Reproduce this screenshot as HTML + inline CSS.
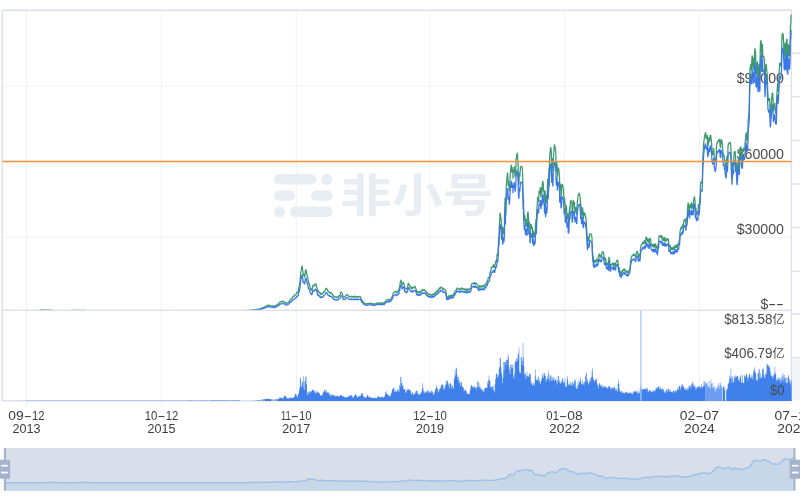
<!DOCTYPE html>
<html lang="zh"><head><meta charset="utf-8"><title>BTC 价格走势 - 非小号</title>
<style>html,body{margin:0;padding:0;background:#fff;overflow:hidden}svg{display:block;will-change:transform}text{font-family:'Liberation Sans','Noto Sans CJK SC',sans-serif;}</style></head><body>
<svg width="800" height="503" viewBox="0 0 800 503">
<rect width="800" height="503" fill="#fff"/>
<g fill="#e8edf3">
<rect x="274" y="174" width="42.5" height="10.6" rx="5.3"/><circle cx="326.8" cy="179.3" r="5.6"/>
<rect x="274" y="190.2" width="21" height="10.6" rx="5.3"/><rect x="311" y="190.2" width="21.4" height="10.6" rx="5.3"/>
<circle cx="279.5" cy="211.8" r="5.5"/><rect x="290" y="206.5" width="42.4" height="10.6" rx="5.3"/>
<text transform="translate(340.6,212.3) scale(1.023,0.9)" font-size="50" font-weight="700" style="font-family:'Noto Sans CJK SC','Liberation Sans',sans-serif">非小号</text></g>
<g stroke="#f0f1f8" stroke-width="1" fill="none">
<path d="M26.4,10.5V405.5"/>
<path d="M161.5,10.5V405.5"/>
<path d="M296.3,10.5V405.5"/>
<path d="M430.0,10.5V405.5"/>
<path d="M564.5,10.5V405.5"/>
<path d="M699.4,10.5V405.5"/>
<path d="M791.4,401V405.5"/>
<path d="M2.3,86.2H791.4"/>
<path d="M2.3,237.3H791.4"/>
</g>
<g stroke="#dde0ec" stroke-width="1.4" fill="none">
<path d="M2.3,10.3H791.4M2.3,9.6V401M791.4,9.6V401M1.6,310.4H791.4M1.6,400.8H791.4"/>
<path d="M791.4,53.2H800"/>
<path d="M791.4,96.8H800"/>
<path d="M791.4,140.4H800"/>
<path d="M791.4,184.0H800"/>
<path d="M791.4,227.6H800"/>
<path d="M791.4,271.2H800"/>
<path d="M791.4,314H800M791.4,357.8H800"/>
</g>
<rect x="792.1" y="358.5" width="8" height="42" fill="#f4f5fa"/>
<g font-size="14.5" fill="#4a4a4a" text-anchor="end">
<text x="784" y="82.8" textLength="47.3" lengthAdjust="spacingAndGlyphs">$90000</text>
<text x="784" y="159.1" textLength="47.3" lengthAdjust="spacingAndGlyphs">$60000</text>
<text x="784" y="233.8" textLength="47.3" lengthAdjust="spacingAndGlyphs">$30000</text>
<text y="309.4" text-anchor="start"><tspan x="760.4" textLength="7.9" lengthAdjust="spacingAndGlyphs">$</tspan><tspan x="768.3" textLength="15.6" lengthAdjust="spacingAndGlyphs">--</tspan></text>
</g>
<path d="M21.04,400.5v-0.12h0.50v0.12zM23.54,400.5v-0.13h0.50v0.13zM24.04,400.5v-0.12h0.50v0.12zM25.04,400.5v-0.13h0.50v0.13zM26.04,400.5v-0.14h0.50v0.14zM27.04,400.5v-0.14h0.50v0.14zM27.54,400.5v-0.15h0.50v0.15zM28.04,400.5v-0.14h0.50v0.14zM28.54,400.5v-0.13h0.50v0.13zM29.04,400.5v-0.15h0.50v0.15zM29.54,400.5v-0.14h0.50v0.14zM30.04,400.5v-0.14h0.50v0.14zM31.04,400.5v-0.16h0.50v0.16zM31.54,400.5v-0.16h0.50v0.16zM32.03,400.5v-0.16h0.50v0.16zM32.53,400.5v-0.16h0.50v0.16zM33.03,400.5v-0.13h0.50v0.13zM33.53,400.5v-0.12h0.50v0.12zM34.03,400.5v-0.13h0.50v0.13zM34.53,400.5v-0.15h0.50v0.15zM35.03,400.5v-0.18h0.50v0.18zM35.53,400.5v-0.17h0.50v0.17zM36.03,400.5v-0.16h0.50v0.16zM36.53,400.5v-0.18h0.50v0.18zM37.03,400.5v-0.17h0.50v0.17zM37.53,400.5v-0.18h0.50v0.18zM38.03,400.5v-0.17h0.50v0.17zM38.53,400.5v-0.17h0.50v0.17zM39.03,400.5v-0.14h0.50v0.14zM39.53,400.5v-0.18h0.50v0.18zM40.03,400.5v-0.15h0.50v0.15zM40.53,400.5v-0.18h0.50v0.18zM41.03,400.5v-0.20h0.50v0.20zM41.53,400.5v-0.15h0.50v0.15zM42.03,400.5v-0.20h0.50v0.20zM42.53,400.5v-0.20h0.50v0.20zM43.03,400.5v-0.20h0.50v0.20zM43.53,400.5v-0.17h0.50v0.17zM44.03,400.5v-0.17h0.50v0.17zM44.53,400.5v-0.19h0.50v0.19zM45.03,400.5v-0.21h0.50v0.21zM45.53,400.5v-0.19h0.50v0.19zM46.03,400.5v-0.20h0.50v0.20zM46.53,400.5v-0.21h0.50v0.21zM47.03,400.5v-0.18h0.50v0.18zM47.53,400.5v-0.19h0.50v0.19zM48.03,400.5v-0.19h0.50v0.19zM48.53,400.5v-0.19h0.50v0.19zM49.03,400.5v-0.21h0.50v0.21zM49.53,400.5v-0.21h0.50v0.21zM50.03,400.5v-0.21h0.50v0.21zM50.53,400.5v-0.19h0.50v0.19zM51.03,400.5v-0.20h0.50v0.20zM51.53,400.5v-0.17h0.50v0.17zM52.02,400.5v-0.20h0.50v0.20zM52.52,400.5v-0.22h0.50v0.22zM53.02,400.5v-0.19h0.50v0.19zM53.52,400.5v-0.18h0.50v0.18zM54.02,400.5v-0.22h0.50v0.22zM54.52,400.5v-0.22h0.50v0.22zM55.02,400.5v-0.18h0.50v0.18zM55.52,400.5v-0.22h0.50v0.22zM56.02,400.5v-0.17h0.50v0.17zM56.52,400.5v-0.21h0.50v0.21zM57.02,400.5v-0.22h0.50v0.22zM57.52,400.5v-0.22h0.50v0.22zM58.02,400.5v-0.16h0.50v0.16zM58.52,400.5v-0.22h0.50v0.22zM59.02,400.5v-0.21h0.50v0.21zM59.52,400.5v-0.20h0.50v0.20zM60.02,400.5v-0.20h0.50v0.20zM60.52,400.5v-0.22h0.50v0.22zM61.02,400.5v-0.16h0.50v0.16zM61.52,400.5v-0.22h0.50v0.22zM62.02,400.5v-0.20h0.50v0.20zM62.52,400.5v-0.22h0.50v0.22zM63.02,400.5v-0.22h0.50v0.22zM63.52,400.5v-0.22h0.50v0.22zM64.02,400.5v-0.22h0.50v0.22zM64.52,400.5v-0.20h0.50v0.20zM65.02,400.5v-0.20h0.50v0.20zM65.52,400.5v-0.20h0.50v0.20zM66.02,400.5v-0.19h0.50v0.19zM66.52,400.5v-0.22h0.50v0.22zM67.02,400.5v-0.23h0.50v0.23zM67.52,400.5v-0.23h0.50v0.23zM68.02,400.5v-0.24h0.50v0.24zM68.52,400.5v-0.20h0.50v0.20zM69.02,400.5v-0.21h0.50v0.21zM69.52,400.5v-0.22h0.50v0.22zM70.02,400.5v-0.17h0.50v0.17zM70.52,400.5v-0.24h0.50v0.24zM71.02,400.5v-0.20h0.50v0.20zM71.51,400.5v-0.24h0.50v0.24zM72.01,400.5v-0.22h0.50v0.22zM72.51,400.5v-0.18h0.50v0.18zM73.01,400.5v-0.24h0.50v0.24zM73.51,400.5v-0.22h0.50v0.22zM74.01,400.5v-0.21h0.50v0.21zM74.51,400.5v-0.22h0.50v0.22zM75.01,400.5v-0.19h0.50v0.19zM75.51,400.5v-0.22h0.50v0.22zM76.01,400.5v-0.21h0.50v0.21zM76.51,400.5v-0.24h0.50v0.24zM77.01,400.5v-0.19h0.50v0.19zM77.51,400.5v-0.21h0.50v0.21zM78.01,400.5v-0.24h0.50v0.24zM78.51,400.5v-0.21h0.50v0.21zM79.01,400.5v-0.23h0.50v0.23zM79.51,400.5v-0.21h0.50v0.21zM80.01,400.5v-0.24h0.50v0.24zM80.51,400.5v-0.23h0.50v0.23zM81.01,400.5v-0.21h0.50v0.21zM81.51,400.5v-0.24h0.50v0.24zM82.01,400.5v-0.24h0.50v0.24zM82.51,400.5v-0.19h0.50v0.19zM83.01,400.5v-0.25h0.50v0.25zM83.51,400.5v-0.21h0.50v0.21zM84.01,400.5v-0.20h0.50v0.20zM84.51,400.5v-0.18h0.50v0.18zM85.01,400.5v-0.22h0.50v0.22zM85.51,400.5v-0.23h0.50v0.23zM86.01,400.5v-0.25h0.50v0.25zM86.51,400.5v-0.20h0.50v0.20zM87.01,400.5v-0.23h0.50v0.23zM87.51,400.5v-0.24h0.50v0.24zM88.01,400.5v-0.25h0.50v0.25zM88.51,400.5v-0.18h0.50v0.18zM89.01,400.5v-0.21h0.50v0.21zM89.51,400.5v-0.19h0.50v0.19zM90.01,400.5v-0.26h0.50v0.26zM90.51,400.5v-0.25h0.50v0.25zM91.01,400.5v-0.26h0.50v0.26zM91.50,400.5v-0.18h0.50v0.18zM92.00,400.5v-0.19h0.50v0.19zM92.50,400.5v-0.23h0.50v0.23zM93.00,400.5v-0.26h0.50v0.26zM93.50,400.5v-0.25h0.50v0.25zM94.00,400.5v-0.26h0.50v0.26zM94.50,400.5v-0.23h0.50v0.23zM95.00,400.5v-0.26h0.50v0.26zM95.50,400.5v-0.18h0.50v0.18zM96.00,400.5v-0.25h0.50v0.25zM96.50,400.5v-0.22h0.50v0.22zM97.00,400.5v-0.21h0.50v0.21zM97.50,400.5v-0.22h0.50v0.22zM98.00,400.5v-0.26h0.50v0.26zM98.50,400.5v-0.20h0.50v0.20zM99.00,400.5v-0.20h0.50v0.20zM99.50,400.5v-0.21h0.50v0.21zM100.00,400.5v-0.22h0.50v0.22zM100.50,400.5v-0.23h0.50v0.23zM101.00,400.5v-0.20h0.50v0.20zM101.50,400.5v-0.25h0.50v0.25zM102.00,400.5v-0.25h0.50v0.25zM102.50,400.5v-0.27h0.50v0.27zM103.00,400.5v-0.24h0.50v0.24zM103.50,400.5v-0.21h0.50v0.21zM104.00,400.5v-0.23h0.50v0.23zM104.50,400.5v-0.24h0.50v0.24zM105.00,400.5v-0.19h0.50v0.19zM105.50,400.5v-0.19h0.50v0.19zM106.00,400.5v-0.21h0.50v0.21zM106.50,400.5v-0.23h0.50v0.23zM107.00,400.5v-0.27h0.50v0.27zM107.50,400.5v-0.27h0.50v0.27zM108.00,400.5v-0.19h0.50v0.19zM108.50,400.5v-0.24h0.50v0.24zM109.00,400.5v-0.27h0.50v0.27zM109.50,400.5v-0.21h0.50v0.21zM110.00,400.5v-0.24h0.50v0.24zM110.50,400.5v-0.25h0.50v0.25zM110.99,400.5v-0.24h0.50v0.24zM111.49,400.5v-0.24h0.50v0.24zM111.99,400.5v-0.24h0.50v0.24zM112.49,400.5v-0.26h0.50v0.26zM112.99,400.5v-0.19h0.50v0.19zM113.49,400.5v-0.23h0.50v0.23zM113.99,400.5v-0.28h0.50v0.28zM114.49,400.5v-0.28h0.50v0.28zM114.99,400.5v-0.19h0.50v0.19zM115.49,400.5v-0.27h0.50v0.27zM115.99,400.5v-0.24h0.50v0.24zM116.49,400.5v-0.19h0.50v0.19zM116.99,400.5v-0.26h0.50v0.26zM117.49,400.5v-0.26h0.50v0.26zM117.99,400.5v-0.24h0.50v0.24zM118.49,400.5v-0.28h0.50v0.28zM118.99,400.5v-0.27h0.50v0.27zM119.49,400.5v-0.28h0.50v0.28zM119.99,400.5v-0.24h0.50v0.24zM120.49,400.5v-0.22h0.50v0.22zM120.99,400.5v-0.26h0.50v0.26zM121.49,400.5v-0.21h0.50v0.21zM121.99,400.5v-0.28h0.50v0.28zM122.49,400.5v-0.28h0.50v0.28zM122.99,400.5v-0.24h0.50v0.24zM123.49,400.5v-0.21h0.50v0.21zM123.99,400.5v-0.22h0.50v0.22zM124.49,400.5v-0.28h0.50v0.28zM124.99,400.5v-0.29h0.50v0.29zM125.49,400.5v-0.29h0.50v0.29zM125.99,400.5v-0.22h0.50v0.22zM126.49,400.5v-0.23h0.50v0.23zM126.99,400.5v-0.23h0.50v0.23zM127.49,400.5v-0.23h0.50v0.23zM127.99,400.5v-0.26h0.50v0.26zM128.49,400.5v-0.26h0.50v0.26zM128.99,400.5v-0.25h0.50v0.25zM129.49,400.5v-0.29h0.50v0.29zM129.99,400.5v-0.29h0.50v0.29zM130.49,400.5v-0.28h0.50v0.28zM130.98,400.5v-0.24h0.50v0.24zM131.48,400.5v-0.29h0.50v0.29zM131.98,400.5v-0.23h0.50v0.23zM132.48,400.5v-0.24h0.50v0.24zM132.98,400.5v-0.29h0.50v0.29zM133.48,400.5v-0.23h0.50v0.23zM133.98,400.5v-0.25h0.50v0.25zM134.48,400.5v-0.25h0.50v0.25zM134.98,400.5v-0.24h0.50v0.24zM135.48,400.5v-0.29h0.50v0.29zM135.98,400.5v-0.30h0.50v0.30zM136.48,400.5v-0.21h0.50v0.21zM136.98,400.5v-0.27h0.50v0.27zM137.48,400.5v-0.23h0.50v0.23zM137.98,400.5v-0.22h0.50v0.22zM138.48,400.5v-0.22h0.50v0.22zM138.98,400.5v-0.25h0.50v0.25zM139.48,400.5v-0.27h0.50v0.27zM139.98,400.5v-0.25h0.50v0.25zM140.48,400.5v-0.30h0.50v0.30zM140.98,400.5v-0.26h0.50v0.26zM141.48,400.5v-0.29h0.50v0.29zM141.98,400.5v-0.24h0.50v0.24zM142.48,400.5v-0.30h0.50v0.30zM142.98,400.5v-0.22h0.50v0.22zM143.48,400.5v-0.27h0.50v0.27zM143.98,400.5v-0.28h0.50v0.28zM144.48,400.5v-0.27h0.50v0.27zM144.98,400.5v-0.26h0.50v0.26zM145.48,400.5v-0.24h0.50v0.24zM145.98,400.5v-0.23h0.50v0.23zM146.48,400.5v-0.29h0.50v0.29zM146.98,400.5v-0.26h0.50v0.26zM147.48,400.5v-0.28h0.50v0.28zM147.98,400.5v-0.29h0.50v0.29zM148.48,400.5v-0.27h0.50v0.27zM148.98,400.5v-0.25h0.50v0.25zM149.48,400.5v-0.28h0.50v0.28zM149.98,400.5v-0.31h0.50v0.31zM150.47,400.5v-0.31h0.50v0.31zM150.97,400.5v-0.30h0.50v0.30zM151.47,400.5v-0.28h0.50v0.28zM151.97,400.5v-0.31h0.50v0.31zM152.47,400.5v-0.22h0.50v0.22zM152.97,400.5v-0.27h0.50v0.27zM153.47,400.5v-0.31h0.50v0.31zM153.97,400.5v-0.27h0.50v0.27zM154.47,400.5v-0.29h0.50v0.29zM154.97,400.5v-0.32h0.50v0.32zM155.47,400.5v-0.31h0.50v0.31zM155.97,400.5v-0.26h0.50v0.26zM156.47,400.5v-0.22h0.50v0.22zM156.97,400.5v-0.30h0.50v0.30zM157.47,400.5v-0.30h0.50v0.30zM157.97,400.5v-0.26h0.50v0.26zM158.47,400.5v-0.30h0.50v0.30zM158.97,400.5v-0.29h0.50v0.29zM159.47,400.5v-0.23h0.50v0.23zM159.97,400.5v-0.25h0.50v0.25zM160.47,400.5v-0.28h0.50v0.28zM160.97,400.5v-0.29h0.50v0.29zM161.47,400.5v-0.25h0.50v0.25zM161.97,400.5v-0.24h0.50v0.24zM162.47,400.5v-0.31h0.50v0.31zM162.97,400.5v-0.28h0.50v0.28zM163.47,400.5v-0.26h0.50v0.26zM163.97,400.5v-0.32h0.50v0.32zM164.47,400.5v-0.31h0.50v0.31zM164.97,400.5v-0.33h0.50v0.33zM165.47,400.5v-0.30h0.50v0.30zM165.97,400.5v-0.31h0.50v0.31zM166.47,400.5v-0.29h0.50v0.29zM166.97,400.5v-0.28h0.50v0.28zM167.47,400.5v-0.33h0.50v0.33zM167.97,400.5v-0.33h0.50v0.33zM168.47,400.5v-0.31h0.50v0.31zM168.97,400.5v-0.31h0.50v0.31zM169.47,400.5v-0.34h0.50v0.34zM169.97,400.5v-0.33h0.50v0.33zM170.46,400.5v-0.34h0.50v0.34zM170.96,400.5v-0.30h0.50v0.30zM171.46,400.5v-0.34h0.50v0.34zM171.96,400.5v-0.31h0.50v0.31zM172.46,400.5v-0.29h0.50v0.29zM172.96,400.5v-0.34h0.50v0.34zM173.46,400.5v-0.25h0.50v0.25zM173.96,400.5v-0.28h0.50v0.28zM174.46,400.5v-0.33h0.50v0.33zM174.96,400.5v-0.31h0.50v0.31zM175.46,400.5v-0.31h0.50v0.31zM175.96,400.5v-0.34h0.50v0.34zM176.46,400.5v-0.34h0.50v0.34zM176.96,400.5v-0.33h0.50v0.33zM177.46,400.5v-0.32h0.50v0.32zM177.96,400.5v-0.37h0.50v0.37zM178.46,400.5v-0.28h0.50v0.28zM178.96,400.5v-0.32h0.50v0.32zM179.46,400.5v-0.37h0.50v0.37zM179.96,400.5v-0.31h0.50v0.31zM180.46,400.5v-0.34h0.50v0.34zM180.96,400.5v-0.36h0.50v0.36zM181.46,400.5v-0.30h0.50v0.30zM181.96,400.5v-0.33h0.50v0.33zM182.46,400.5v-0.35h0.50v0.35zM182.96,400.5v-0.29h0.50v0.29zM183.46,400.5v-0.30h0.50v0.30zM183.96,400.5v-0.28h0.50v0.28zM184.46,400.5v-0.31h0.50v0.31zM184.96,400.5v-0.36h0.50v0.36zM185.46,400.5v-0.37h0.50v0.37zM185.96,400.5v-0.30h0.50v0.30zM186.46,400.5v-0.29h0.50v0.29zM186.96,400.5v-0.38h0.50v0.38zM187.46,400.5v-0.35h0.50v0.35zM187.96,400.5v-0.37h0.50v0.37zM188.46,400.5v-0.28h0.50v0.28zM188.96,400.5v-0.31h0.50v0.31zM189.46,400.5v-0.39h0.50v0.39zM189.95,400.5v-0.37h0.50v0.37zM190.45,400.5v-0.38h0.50v0.38zM190.95,400.5v-0.39h0.50v0.39zM191.45,400.5v-0.40h0.50v0.40zM191.95,400.5v-0.34h0.50v0.34zM192.45,400.5v-0.35h0.50v0.35zM192.95,400.5v-0.32h0.50v0.32zM193.45,400.5v-0.32h0.50v0.32zM193.95,400.5v-0.38h0.50v0.38zM194.45,400.5v-0.41h0.50v0.41zM194.95,400.5v-0.33h0.50v0.33zM195.45,400.5v-0.36h0.50v0.36zM195.95,400.5v-0.36h0.50v0.36zM196.45,400.5v-0.38h0.50v0.38zM196.95,400.5v-0.32h0.50v0.32zM197.45,400.5v-0.35h0.50v0.35zM197.95,400.5v-0.33h0.50v0.33zM198.45,400.5v-0.30h0.50v0.30zM198.95,400.5v-0.33h0.50v0.33zM199.45,400.5v-0.38h0.50v0.38zM199.95,400.5v-0.36h0.50v0.36zM200.45,400.5v-0.42h0.50v0.42zM200.95,400.5v-0.31h0.50v0.31zM201.45,400.5v-0.40h0.50v0.40zM201.95,400.5v-0.35h0.50v0.35zM202.45,400.5v-0.42h0.50v0.42zM202.95,400.5v-0.42h0.50v0.42zM203.45,400.5v-0.30h0.50v0.30zM203.95,400.5v-0.33h0.50v0.33zM204.45,400.5v-0.43h0.50v0.43zM204.95,400.5v-0.36h0.50v0.36zM205.45,400.5v-0.44h0.50v0.44zM205.95,400.5v-0.41h0.50v0.41zM206.45,400.5v-0.35h0.50v0.35zM206.95,400.5v-0.31h0.50v0.31zM207.45,400.5v-0.44h0.50v0.44zM207.95,400.5v-0.32h0.50v0.32zM208.45,400.5v-0.33h0.50v0.33zM208.95,400.5v-0.37h0.50v0.37zM209.44,400.5v-0.35h0.50v0.35zM209.94,400.5v-0.45h0.50v0.45zM210.44,400.5v-0.33h0.50v0.33zM210.94,400.5v-0.40h0.50v0.40zM211.44,400.5v-0.42h0.50v0.42zM211.94,400.5v-0.45h0.50v0.45zM212.44,400.5v-0.42h0.50v0.42zM212.94,400.5v-0.45h0.50v0.45zM213.44,400.5v-0.42h0.50v0.42zM213.94,400.5v-0.42h0.50v0.42zM214.44,400.5v-0.44h0.50v0.44zM214.94,400.5v-0.47h0.50v0.47zM215.44,400.5v-0.38h0.50v0.38zM215.94,400.5v-0.46h0.50v0.46zM216.44,400.5v-0.43h0.50v0.43zM216.94,400.5v-0.45h0.50v0.45zM217.44,400.5v-0.40h0.50v0.40zM217.94,400.5v-0.40h0.50v0.40zM218.44,400.5v-0.35h0.50v0.35zM218.94,400.5v-0.48h0.50v0.48zM219.44,400.5v-0.47h0.50v0.47zM219.94,400.5v-0.37h0.50v0.37zM220.44,400.5v-0.47h0.50v0.47zM220.94,400.5v-0.38h0.50v0.38zM221.44,400.5v-0.44h0.50v0.44zM221.94,400.5v-0.46h0.50v0.46zM222.44,400.5v-0.47h0.50v0.47zM222.94,400.5v-0.39h0.50v0.39zM223.44,400.5v-0.46h0.50v0.46zM223.94,400.5v-0.46h0.50v0.46zM224.44,400.5v-0.42h0.50v0.42zM224.94,400.5v-0.43h0.50v0.43zM225.44,400.5v-0.50h0.50v0.50zM225.94,400.5v-0.40h0.50v0.40zM226.44,400.5v-0.46h0.50v0.46zM226.94,400.5v-0.38h0.50v0.38zM227.44,400.5v-0.36h0.50v0.36zM227.94,400.5v-0.48h0.50v0.48zM228.44,400.5v-0.47h0.50v0.47zM228.94,400.5v-0.50h0.50v0.50zM229.43,400.5v-0.43h0.50v0.43zM229.93,400.5v-0.36h0.50v0.36zM230.43,400.5v-0.36h0.50v0.36zM230.93,400.5v-0.51h0.50v0.51zM231.43,400.5v-0.46h0.50v0.46zM231.93,400.5v-0.45h0.50v0.45zM232.43,400.5v-0.49h0.50v0.49zM232.93,400.5v-0.46h0.50v0.46zM233.43,400.5v-0.49h0.50v0.49zM233.93,400.5v-0.41h0.50v0.41zM234.43,400.5v-0.52h0.50v0.52zM234.93,400.5v-0.37h0.50v0.37zM235.43,400.5v-0.51h0.50v0.51zM235.93,400.5v-0.44h0.50v0.44zM236.43,400.5v-0.51h0.50v0.51zM236.93,400.5v-0.52h0.50v0.52zM237.43,400.5v-0.47h0.50v0.47zM237.93,400.5v-0.37h0.50v0.37zM238.43,400.5v-0.41h0.50v0.41zM238.93,400.5v-0.53h0.50v0.53zM239.43,400.5v-0.53h0.50v0.53zM253.42,400.5v-0.16h0.50v0.16zM253.92,400.5v-0.17h0.50v0.17zM254.42,400.5v-0.24h0.50v0.24zM254.92,400.5v-0.22h0.50v0.22zM255.42,400.5v-0.25h0.50v0.25zM255.92,400.5v-0.30h0.50v0.30zM256.42,400.5v-0.39h0.50v0.39zM256.92,400.5v-0.42h0.50v0.42zM257.42,400.5v-0.39h0.50v0.39zM257.92,400.5v-0.50h0.50v0.50zM258.42,400.5v-0.48h0.50v0.48zM258.92,400.5v-0.55h0.50v0.55zM259.42,400.5v-0.48h0.50v0.48zM259.92,400.5v-0.60h0.50v0.60zM260.42,400.5v-0.63h0.50v0.63zM260.92,400.5v-0.72h0.50v0.72zM261.42,400.5v-0.74h0.50v0.74zM261.92,400.5v-0.64h0.50v0.64zM262.42,400.5v-0.99h0.50v0.99zM262.92,400.5v-1.06h0.50v1.06zM263.42,401.0v-1.75h0.50v1.75zM263.92,400.5v-1.03h0.50v1.03zM264.42,400.5v-1.15h0.50v1.15zM264.92,401.0v-2.20h0.50v2.20zM265.42,401.0v-2.23h0.50v2.23zM265.92,401.0v-2.35h0.50v2.35zM266.42,401.0v-1.86h0.50v1.86zM266.92,401.0v-2.32h0.50v2.32zM267.42,401.0v-2.27h0.50v2.27zM267.92,401.0v-2.01h0.50v2.01zM268.42,401.0v-2.39h0.50v2.39zM268.91,401.0v-2.23h0.50v2.23zM269.41,401.0v-1.85h0.50v1.85zM269.91,401.0v-1.81h0.50v1.81zM270.41,401.0v-1.97h0.50v1.97zM270.91,401.0v-1.76h0.50v1.76zM271.41,400.5v-0.98h0.50v0.98zM271.91,400.5v-0.92h0.50v0.92zM272.41,400.5v-0.76h0.50v0.76zM272.91,400.5v-0.73h0.50v0.73zM273.41,400.5v-0.68h0.50v0.68zM273.91,400.5v-0.88h0.50v0.88zM274.41,400.5v-0.97h0.50v0.97zM274.91,400.5v-0.91h0.50v0.91zM275.41,400.5v-0.95h0.50v0.95zM275.91,400.5v-0.95h0.50v0.95zM276.41,400.5v-1.19h0.50v1.19zM276.91,401.0v-1.84h0.50v1.84zM277.41,401.0v-1.86h0.50v1.86zM277.91,401.0v-1.72h0.50v1.72zM278.41,401.0v-2.32h0.50v2.32zM278.91,401.0v-2.79h0.50v2.79zM279.41,401.0v-3.33h0.50v3.33zM279.91,401.0v-3.75h0.50v3.75zM280.41,401.0v-2.96h0.50v2.96zM280.91,401.0v-3.18h0.50v3.18zM281.41,401.0v-3.02h0.50v3.02zM281.91,401.0v-3.22h0.50v3.22zM282.41,401.0v-2.32h0.50v2.32zM282.91,401.0v-2.76h0.50v2.76zM283.41,401.0v-3.76h0.50v3.76zM283.91,401.0v-4.71h0.50v4.71zM284.41,401.0v-4.68h0.50v4.68zM284.91,401.0v-5.68h0.50v5.68zM285.41,401.0v-4.66h0.50v4.66zM285.91,401.0v-4.15h0.50v4.15zM286.41,401.0v-2.83h0.50v2.83zM286.91,401.0v-2.89h0.50v2.89zM287.41,401.0v-2.47h0.50v2.47zM287.91,401.0v-2.24h0.50v2.24zM288.40,401.0v-2.94h0.50v2.94zM288.90,401.0v-2.48h0.50v2.48zM289.40,401.0v-3.11h0.50v3.11zM289.90,401.0v-3.88h0.50v3.88zM290.40,401.0v-3.23h0.50v3.23zM290.90,401.0v-3.08h0.50v3.08zM291.40,401.0v-3.29h0.50v3.29zM291.90,401.0v-2.87h0.50v2.87zM292.40,401.0v-3.47h0.50v3.47zM292.90,401.0v-3.13h0.50v3.13zM293.40,401.0v-3.27h0.50v3.27zM293.90,401.0v-4.37h0.50v4.37zM294.40,401.0v-4.47h0.50v4.47zM294.90,401.0v-6.63h0.50v6.63zM295.40,401.0v-7.39h0.50v7.39zM295.90,401.0v-7.03h0.50v7.03zM296.40,401.0v-5.01h0.50v5.01zM296.90,401.0v-3.68h0.50v3.68zM297.40,401.0v-5.08h0.50v5.08zM297.90,401.0v-6.70h0.50v6.70zM298.40,401.0v-7.39h0.50v7.39zM298.90,401.0v-10.11h0.50v10.11zM299.40,401.0v-12.95h0.50v12.95zM299.90,401.0v-21.44h0.50v21.44zM300.40,401.0v-23.72h0.50v23.72zM300.90,401.0v-14.27h0.50v14.27zM301.40,401.0v-15.55h0.50v15.55zM301.90,401.0v-19.92h0.50v19.92zM302.40,401.0v-18.78h0.50v18.78zM302.90,401.0v-13.41h0.50v13.41zM303.40,401.0v-24.86h0.50v24.86zM303.90,401.0v-19.55h0.50v19.55zM304.40,401.0v-11.25h0.50v11.25zM304.90,401.0v-19.86h0.50v19.86zM305.40,401.0v-24.03h0.50v24.03zM305.90,401.0v-24.53h0.50v24.53zM306.40,401.0v-16.65h0.50v16.65zM306.90,401.0v-9.24h0.50v9.24zM307.40,401.0v-5.45h0.50v5.45zM307.90,401.0v-7.14h0.50v7.14zM308.39,401.0v-9.29h0.50v9.29zM308.89,401.0v-8.43h0.50v8.43zM309.39,401.0v-10.14h0.50v10.14zM309.89,401.0v-8.02h0.50v8.02zM310.39,401.0v-9.75h0.50v9.75zM310.89,401.0v-10.03h0.50v10.03zM311.39,401.0v-9.25h0.50v9.25zM311.89,401.0v-11.67h0.50v11.67zM312.39,401.0v-11.09h0.50v11.09zM312.89,401.0v-10.80h0.50v10.80zM313.39,401.0v-10.48h0.50v10.48zM313.89,401.0v-11.17h0.50v11.17zM314.39,401.0v-8.44h0.50v8.44zM314.89,401.0v-9.72h0.50v9.72zM315.39,401.0v-8.03h0.50v8.03zM315.89,401.0v-7.19h0.50v7.19zM316.39,401.0v-9.22h0.50v9.22zM316.89,401.0v-10.21h0.50v10.21zM317.39,401.0v-8.28h0.50v8.28zM317.89,401.0v-9.00h0.50v9.00zM318.39,401.0v-8.60h0.50v8.60zM318.89,401.0v-8.14h0.50v8.14zM319.39,401.0v-7.52h0.50v7.52zM319.89,401.0v-5.74h0.50v5.74zM320.39,401.0v-5.18h0.50v5.18zM320.89,401.0v-5.81h0.50v5.81zM321.39,401.0v-6.01h0.50v6.01zM321.89,401.0v-4.95h0.50v4.95zM322.39,401.0v-7.10h0.50v7.10zM322.89,401.0v-8.79h0.50v8.79zM323.39,401.0v-9.32h0.50v9.32zM323.89,401.0v-9.64h0.50v9.64zM324.39,401.0v-11.36h0.50v11.36zM324.89,401.0v-11.26h0.50v11.26zM325.39,401.0v-8.58h0.50v8.58zM325.89,401.0v-11.15h0.50v11.15zM326.39,401.0v-9.23h0.50v9.23zM326.89,401.0v-8.30h0.50v8.30zM327.39,401.0v-8.55h0.50v8.55zM327.88,401.0v-8.68h0.50v8.68zM328.38,401.0v-8.42h0.50v8.42zM328.88,401.0v-7.12h0.50v7.12zM329.38,401.0v-6.48h0.50v6.48zM329.88,401.0v-4.97h0.50v4.97zM330.38,401.0v-6.69h0.50v6.69zM330.88,401.0v-4.95h0.50v4.95zM331.38,401.0v-7.14h0.50v7.14zM331.88,401.0v-6.15h0.50v6.15zM332.38,401.0v-5.75h0.50v5.75zM332.88,401.0v-6.29h0.50v6.29zM333.38,401.0v-5.62h0.50v5.62zM333.88,401.0v-6.15h0.50v6.15zM334.38,401.0v-4.44h0.50v4.44zM334.88,401.0v-5.77h0.50v5.77zM335.38,401.0v-4.24h0.50v4.24zM335.88,401.0v-5.53h0.50v5.53zM336.38,401.0v-4.95h0.50v4.95zM336.88,401.0v-4.60h0.50v4.60zM337.38,401.0v-5.19h0.50v5.19zM337.88,401.0v-5.06h0.50v5.06zM338.38,401.0v-4.62h0.50v4.62zM338.88,401.0v-4.42h0.50v4.42zM339.38,401.0v-4.82h0.50v4.82zM339.88,401.0v-6.29h0.50v6.29zM340.38,401.0v-5.78h0.50v5.78zM340.88,401.0v-6.00h0.50v6.00zM341.38,401.0v-5.66h0.50v5.66zM341.88,401.0v-4.76h0.50v4.76zM342.38,401.0v-4.51h0.50v4.51zM342.88,401.0v-5.06h0.50v5.06zM343.38,401.0v-4.74h0.50v4.74zM343.88,401.0v-3.56h0.50v3.56zM344.38,401.0v-4.48h0.50v4.48zM344.88,401.0v-3.44h0.50v3.44zM345.38,401.0v-3.67h0.50v3.67zM345.88,401.0v-3.87h0.50v3.87zM346.38,401.0v-3.65h0.50v3.65zM346.88,401.0v-4.37h0.50v4.37zM347.38,401.0v-3.76h0.50v3.76zM347.87,401.0v-4.41h0.50v4.41zM348.37,401.0v-4.37h0.50v4.37zM348.87,401.0v-5.15h0.50v5.15zM349.37,401.0v-5.63h0.50v5.63zM349.87,401.0v-5.45h0.50v5.45zM350.37,401.0v-5.77h0.50v5.77zM350.87,401.0v-5.27h0.50v5.27zM351.37,401.0v-6.28h0.50v6.28zM351.87,401.0v-4.19h0.50v4.19zM352.37,401.0v-4.60h0.50v4.60zM352.87,401.0v-3.00h0.50v3.00zM353.37,401.0v-3.74h0.50v3.74zM353.87,401.0v-5.04h0.50v5.04zM354.37,401.0v-5.48h0.50v5.48zM354.87,401.0v-6.26h0.50v6.26zM355.37,401.0v-7.11h0.50v7.11zM355.87,401.0v-6.43h0.50v6.43zM356.37,401.0v-4.71h0.50v4.71zM356.87,401.0v-4.70h0.50v4.70zM357.37,401.0v-3.50h0.50v3.50zM357.87,401.0v-3.77h0.50v3.77zM358.37,401.0v-4.57h0.50v4.57zM358.87,401.0v-4.85h0.50v4.85zM359.37,401.0v-4.98h0.50v4.98zM359.87,401.0v-4.91h0.50v4.91zM360.37,401.0v-5.37h0.50v5.37zM360.87,401.0v-7.45h0.50v7.45zM361.37,401.0v-6.84h0.50v6.84zM361.87,401.0v-8.11h0.50v8.11zM362.37,401.0v-7.86h0.50v7.86zM362.87,401.0v-4.91h0.50v4.91zM363.37,401.0v-4.96h0.50v4.96zM363.87,401.0v-3.51h0.50v3.51zM364.37,401.0v-3.58h0.50v3.58zM364.87,401.0v-3.34h0.50v3.34zM365.37,401.0v-4.12h0.50v4.12zM365.87,401.0v-3.51h0.50v3.51zM366.37,401.0v-4.33h0.50v4.33zM366.87,401.0v-6.07h0.50v6.07zM367.36,401.0v-5.77h0.50v5.77zM367.86,401.0v-5.31h0.50v5.31zM368.36,401.0v-3.78h0.50v3.78zM368.86,401.0v-4.41h0.50v4.41zM369.36,401.0v-4.23h0.50v4.23zM369.86,401.0v-3.32h0.50v3.32zM370.36,401.0v-3.03h0.50v3.03zM370.86,401.0v-3.89h0.50v3.89zM371.36,401.0v-3.66h0.50v3.66zM371.86,401.0v-2.93h0.50v2.93zM372.36,401.0v-2.92h0.50v2.92zM372.86,401.0v-2.79h0.50v2.79zM373.36,401.0v-2.89h0.50v2.89zM373.86,401.0v-3.49h0.50v3.49zM374.36,401.0v-2.69h0.50v2.69zM374.86,401.0v-2.89h0.50v2.89zM375.36,401.0v-3.16h0.50v3.16zM375.86,401.0v-2.64h0.50v2.64zM376.36,401.0v-2.91h0.50v2.91zM376.86,401.0v-3.23h0.50v3.23zM377.36,401.0v-4.68h0.50v4.68zM377.86,401.0v-4.13h0.50v4.13zM378.36,401.0v-5.27h0.50v5.27zM378.86,401.0v-4.09h0.50v4.09zM379.36,401.0v-3.52h0.50v3.52zM379.86,401.0v-4.52h0.50v4.52zM380.36,401.0v-3.52h0.50v3.52zM380.86,401.0v-3.41h0.50v3.41zM381.36,401.0v-4.25h0.50v4.25zM381.86,401.0v-4.14h0.50v4.14zM382.36,401.0v-3.92h0.50v3.92zM382.86,401.0v-3.19h0.50v3.19zM383.36,401.0v-3.79h0.50v3.79zM383.86,401.0v-4.33h0.50v4.33zM384.36,401.0v-4.44h0.50v4.44zM384.86,401.0v-6.61h0.50v6.61zM385.36,401.0v-8.93h0.50v8.93zM385.86,401.0v-10.52h0.50v10.52zM386.36,401.0v-7.21h0.50v7.21zM386.86,401.0v-7.38h0.50v7.38zM387.35,401.0v-6.04h0.50v6.04zM387.85,401.0v-6.22h0.50v6.22zM388.35,401.0v-5.86h0.50v5.86zM388.85,401.0v-5.75h0.50v5.75zM389.35,401.0v-4.49h0.50v4.49zM389.85,401.0v-4.83h0.50v4.83zM390.35,401.0v-5.37h0.50v5.37zM390.85,401.0v-8.26h0.50v8.26zM391.35,401.0v-7.96h0.50v7.96zM391.85,401.0v-11.42h0.50v11.42zM392.35,401.0v-11.67h0.50v11.67zM392.85,401.0v-13.40h0.50v13.40zM393.35,401.0v-12.28h0.50v12.28zM393.85,401.0v-13.17h0.50v13.17zM394.35,401.0v-8.92h0.50v8.92zM394.85,401.0v-9.64h0.50v9.64zM395.35,401.0v-10.83h0.50v10.83zM395.85,401.0v-9.71h0.50v9.71zM396.35,401.0v-8.57h0.50v8.57zM396.85,401.0v-9.42h0.50v9.42zM397.35,401.0v-11.58h0.50v11.58zM397.85,401.0v-11.36h0.50v11.36zM398.35,401.0v-11.60h0.50v11.60zM398.85,401.0v-9.06h0.50v9.06zM399.35,401.0v-16.27h0.50v16.27zM399.85,401.0v-14.21h0.50v14.21zM400.35,401.0v-23.75h0.50v23.75zM400.85,401.0v-23.88h0.50v23.88zM401.35,401.0v-18.12h0.50v18.12zM401.85,401.0v-17.40h0.50v17.40zM402.35,401.0v-14.76h0.50v14.76zM402.85,401.0v-15.53h0.50v15.53zM403.35,401.0v-11.43h0.50v11.43zM403.85,401.0v-12.83h0.50v12.83zM404.35,401.0v-11.65h0.50v11.65zM404.85,401.0v-11.12h0.50v11.12zM405.35,401.0v-8.27h0.50v8.27zM405.85,401.0v-8.41h0.50v8.41zM406.35,401.0v-10.51h0.50v10.51zM406.84,401.0v-11.66h0.50v11.66zM407.34,401.0v-10.83h0.50v10.83zM407.84,401.0v-12.76h0.50v12.76zM408.34,401.0v-10.95h0.50v10.95zM408.84,401.0v-11.79h0.50v11.79zM409.34,401.0v-11.20h0.50v11.20zM409.84,401.0v-10.84h0.50v10.84zM410.34,401.0v-10.14h0.50v10.14zM410.84,401.0v-7.76h0.50v7.76zM411.34,401.0v-6.48h0.50v6.48zM411.84,401.0v-8.61h0.50v8.61zM412.34,401.0v-8.68h0.50v8.68zM412.84,401.0v-6.47h0.50v6.47zM413.34,401.0v-6.03h0.50v6.03zM413.84,401.0v-7.26h0.50v7.26zM414.34,401.0v-7.47h0.50v7.47zM414.84,401.0v-6.99h0.50v6.99zM415.34,401.0v-9.18h0.50v9.18zM415.84,401.0v-10.42h0.50v10.42zM416.34,401.0v-10.04h0.50v10.04zM416.84,401.0v-10.41h0.50v10.41zM417.34,401.0v-7.73h0.50v7.73zM417.84,401.0v-6.92h0.50v6.92zM418.34,401.0v-7.19h0.50v7.19zM418.84,401.0v-5.70h0.50v5.70zM419.34,401.0v-6.39h0.50v6.39zM419.84,401.0v-7.25h0.50v7.25zM420.34,401.0v-6.92h0.50v6.92zM420.84,401.0v-8.53h0.50v8.53zM421.34,401.0v-8.70h0.50v8.70zM421.84,401.0v-12.28h0.50v12.28zM422.34,401.0v-17.71h0.50v17.71zM422.84,401.0v-13.14h0.50v13.14zM423.34,401.0v-10.00h0.50v10.00zM423.84,401.0v-8.20h0.50v8.20zM424.34,401.0v-7.89h0.50v7.89zM424.84,401.0v-9.72h0.50v9.72zM425.34,401.0v-9.39h0.50v9.39zM425.84,401.0v-8.26h0.50v8.26zM426.34,401.0v-9.45h0.50v9.45zM426.83,401.0v-8.39h0.50v8.39zM427.33,401.0v-11.25h0.50v11.25zM427.83,401.0v-10.72h0.50v10.72zM428.33,401.0v-8.64h0.50v8.64zM428.83,401.0v-10.09h0.50v10.09zM429.33,401.0v-8.54h0.50v8.54zM429.83,401.0v-7.71h0.50v7.71zM430.33,401.0v-9.38h0.50v9.38zM430.83,401.0v-8.57h0.50v8.57zM431.33,401.0v-10.80h0.50v10.80zM431.83,401.0v-10.25h0.50v10.25zM432.33,401.0v-9.29h0.50v9.29zM432.83,401.0v-7.09h0.50v7.09zM433.33,401.0v-6.00h0.50v6.00zM433.83,401.0v-8.96h0.50v8.96zM434.33,401.0v-7.50h0.50v7.50zM434.83,401.0v-10.57h0.50v10.57zM435.33,401.0v-11.90h0.50v11.90zM435.83,401.0v-13.38h0.50v13.38zM436.33,401.0v-16.09h0.50v16.09zM436.83,401.0v-12.79h0.50v12.79zM437.33,401.0v-12.80h0.50v12.80zM437.83,401.0v-8.78h0.50v8.78zM438.33,401.0v-9.42h0.50v9.42zM438.83,401.0v-10.44h0.50v10.44zM439.33,401.0v-11.98h0.50v11.98zM439.83,401.0v-13.09h0.50v13.09zM440.33,401.0v-12.56h0.50v12.56zM440.83,401.0v-15.52h0.50v15.52zM441.33,401.0v-15.91h0.50v15.91zM441.83,401.0v-16.21h0.50v16.21zM442.33,401.0v-16.80h0.50v16.80zM442.83,401.0v-16.05h0.50v16.05zM443.33,401.0v-11.52h0.50v11.52zM443.83,401.0v-14.15h0.50v14.15zM444.33,401.0v-11.39h0.50v11.39zM444.83,401.0v-13.49h0.50v13.49zM445.33,401.0v-17.15h0.50v17.15zM445.83,401.0v-16.02h0.50v16.02zM446.32,401.0v-20.22h0.50v20.22zM446.82,401.0v-20.65h0.50v20.65zM447.32,401.0v-19.98h0.50v19.98zM447.82,401.0v-17.67h0.50v17.67zM448.32,401.0v-15.41h0.50v15.41zM448.82,401.0v-17.72h0.50v17.72zM449.32,401.0v-12.50h0.50v12.50zM449.82,401.0v-17.16h0.50v17.16zM450.32,401.0v-18.28h0.50v18.28zM450.82,401.0v-16.96h0.50v16.96zM451.32,401.0v-12.99h0.50v12.99zM451.82,401.0v-15.32h0.50v15.32zM452.32,401.0v-15.47h0.50v15.47zM452.82,401.0v-12.20h0.50v12.20zM453.32,401.0v-13.27h0.50v13.27zM453.82,401.0v-21.55h0.50v21.55zM454.32,401.0v-23.31h0.50v23.31zM454.82,401.0v-30.49h0.50v30.49zM455.32,401.0v-25.60h0.50v25.60zM455.82,401.0v-33.44h0.50v33.44zM456.32,401.0v-32.65h0.50v32.65zM456.82,401.0v-26.75h0.50v26.75zM457.32,401.0v-23.94h0.50v23.94zM457.82,401.0v-20.98h0.50v20.98zM458.32,401.0v-24.06h0.50v24.06zM458.82,401.0v-17.52h0.50v17.52zM459.32,401.0v-20.71h0.50v20.71zM459.82,401.0v-18.61h0.50v18.61zM460.32,401.0v-15.11h0.50v15.11zM460.82,401.0v-19.08h0.50v19.08zM461.32,401.0v-18.75h0.50v18.75zM461.82,401.0v-15.21h0.50v15.21zM462.32,401.0v-13.95h0.50v13.95zM462.82,401.0v-13.90h0.50v13.90zM463.32,401.0v-13.06h0.50v13.06zM463.82,401.0v-9.76h0.50v9.76zM464.32,401.0v-11.07h0.50v11.07zM464.82,401.0v-12.45h0.50v12.45zM465.32,401.0v-9.72h0.50v9.72zM465.82,401.0v-10.78h0.50v10.78zM466.31,401.0v-9.60h0.50v9.60zM466.81,401.0v-7.27h0.50v7.27zM467.31,401.0v-6.71h0.50v6.71zM467.81,401.0v-7.70h0.50v7.70zM468.31,401.0v-7.11h0.50v7.11zM468.81,401.0v-6.83h0.50v6.83zM469.31,401.0v-7.68h0.50v7.68zM469.81,401.0v-10.41h0.50v10.41zM470.31,401.0v-12.88h0.50v12.88zM470.81,401.0v-15.72h0.50v15.72zM471.31,401.0v-15.78h0.50v15.78zM471.81,401.0v-15.18h0.50v15.18zM472.31,401.0v-13.68h0.50v13.68zM472.81,401.0v-14.73h0.50v14.73zM473.31,401.0v-12.93h0.50v12.93zM473.81,401.0v-15.04h0.50v15.04zM474.31,401.0v-14.27h0.50v14.27zM474.81,401.0v-14.19h0.50v14.19zM475.31,401.0v-12.95h0.50v12.95zM475.81,401.0v-11.58h0.50v11.58zM476.31,401.0v-13.75h0.50v13.75zM476.81,401.0v-13.66h0.50v13.66zM477.31,401.0v-20.07h0.50v20.07zM477.81,401.0v-18.95h0.50v18.95zM478.31,401.0v-14.48h0.50v14.48zM478.81,401.0v-18.41h0.50v18.41zM479.31,401.0v-13.27h0.50v13.27zM479.81,401.0v-15.46h0.50v15.46zM480.31,401.0v-12.38h0.50v12.38zM480.81,401.0v-11.52h0.50v11.52zM481.31,401.0v-12.47h0.50v12.47zM481.81,401.0v-11.62h0.50v11.62zM482.31,401.0v-9.70h0.50v9.70zM482.81,401.0v-11.15h0.50v11.15zM483.31,401.0v-10.24h0.50v10.24zM483.81,401.0v-8.56h0.50v8.56zM484.31,401.0v-12.23h0.50v12.23zM484.81,401.0v-13.51h0.50v13.51zM485.31,401.0v-13.26h0.50v13.26zM485.80,401.0v-13.42h0.50v13.42zM486.30,401.0v-12.68h0.50v12.68zM486.80,401.0v-13.11h0.50v13.11zM487.30,401.0v-19.35h0.50v19.35zM487.80,401.0v-17.30h0.50v17.30zM488.30,401.0v-21.61h0.50v21.61zM488.80,401.0v-25.78h0.50v25.78zM489.30,401.0v-20.65h0.50v20.65zM489.80,401.0v-20.10h0.50v20.10zM490.30,401.0v-14.16h0.50v14.16zM490.80,401.0v-13.65h0.50v13.65zM491.30,401.0v-13.84h0.50v13.84zM491.80,401.0v-13.88h0.50v13.88zM492.30,401.0v-15.18h0.50v15.18zM492.80,401.0v-11.34h0.50v11.34zM493.30,401.0v-15.19h0.50v15.19zM493.80,401.0v-10.65h0.50v10.65zM494.30,401.0v-8.61h0.50v8.61zM494.80,401.0v-16.83h0.50v16.83zM495.30,401.0v-22.11h0.50v22.11zM495.80,401.0v-26.33h0.50v26.33zM496.30,401.0v-27.93h0.50v27.93zM496.80,401.0v-27.06h0.50v27.06zM497.30,401.0v-22.96h0.50v22.96zM497.80,401.0v-24.60h0.50v24.60zM498.30,401.0v-26.13h0.50v26.13zM498.80,401.0v-32.36h0.50v32.36zM499.30,401.0v-34.05h0.50v34.05zM499.80,401.0v-43.62h0.50v43.62zM500.30,401.0v-43.06h0.50v43.06zM500.80,401.0v-33.83h0.50v33.83zM501.30,401.0v-28.44h0.50v28.44zM501.80,401.0v-26.13h0.50v26.13zM502.30,401.0v-18.08h0.50v18.08zM502.80,401.0v-22.96h0.50v22.96zM503.30,401.0v-39.08h0.50v39.08zM503.80,401.0v-30.83h0.50v30.83zM504.30,401.0v-38.77h0.50v38.77zM504.80,401.0v-39.52h0.50v39.52zM505.30,401.0v-38.88h0.50v38.88zM505.79,401.0v-35.84h0.50v35.84zM506.29,401.0v-41.25h0.50v41.25zM506.79,401.0v-41.26h0.50v41.26zM507.29,401.0v-40.65h0.50v40.65zM507.79,401.0v-46.69h0.50v46.69zM508.29,401.0v-43.98h0.50v43.98zM508.79,401.0v-34.33h0.50v34.33zM509.29,401.0v-31.00h0.50v31.00zM509.79,401.0v-26.88h0.50v26.88zM510.29,401.0v-35.57h0.50v35.57zM510.79,401.0v-37.04h0.50v37.04zM511.29,401.0v-32.39h0.50v32.39zM511.79,401.0v-36.54h0.50v36.54zM512.29,401.0v-33.11h0.50v33.11zM512.79,401.0v-36.15h0.50v36.15zM513.29,401.0v-24.57h0.50v24.57zM513.79,401.0v-22.51h0.50v22.51zM514.29,401.0v-27.29h0.50v27.29zM514.79,401.0v-39.79h0.50v39.79zM515.29,401.0v-38.94h0.50v38.94zM515.79,401.0v-42.69h0.50v42.69zM516.29,401.0v-39.45h0.50v39.45zM516.79,401.0v-43.26h0.50v43.26zM517.29,401.0v-40.40h0.50v40.40zM517.79,401.0v-47.89h0.50v47.89zM518.29,401.0v-46.16h0.50v46.16zM518.79,401.0v-53.67h0.50v53.67zM519.29,401.0v-29.50h0.50v29.50zM519.79,401.0v-27.38h0.50v27.38zM520.29,401.0v-28.20h0.50v28.20zM520.79,401.0v-43.78h0.50v43.78zM521.29,401.0v-44.12h0.50v44.12zM521.79,401.0v-36.17h0.50v36.17zM522.29,401.0v-40.18h0.50v40.18zM522.79,401.0v-57.90h0.50v57.90zM523.29,401.0v-43.87h0.50v43.87zM523.79,401.0v-35.02h0.50v35.02zM524.29,401.0v-26.44h0.50v26.44zM524.79,401.0v-26.43h0.50v26.43zM525.28,401.0v-27.90h0.50v27.90zM525.78,401.0v-21.93h0.50v21.93zM526.28,401.0v-24.42h0.50v24.42zM526.78,401.0v-29.20h0.50v29.20zM527.28,401.0v-25.06h0.50v25.06zM527.78,401.0v-25.74h0.50v25.74zM528.28,401.0v-24.59h0.50v24.59zM528.78,401.0v-23.95h0.50v23.95zM529.28,401.0v-27.23h0.50v27.23zM529.78,401.0v-27.76h0.50v27.76zM530.28,401.0v-26.59h0.50v26.59zM530.78,401.0v-17.85h0.50v17.85zM531.28,401.0v-19.82h0.50v19.82zM531.78,401.0v-16.79h0.50v16.79zM532.28,401.0v-15.80h0.50v15.80zM532.78,401.0v-15.51h0.50v15.51zM533.28,401.0v-18.24h0.50v18.24zM533.78,401.0v-17.83h0.50v17.83zM534.28,401.0v-15.48h0.50v15.48zM534.78,401.0v-25.22h0.50v25.22zM535.28,401.0v-31.59h0.50v31.59zM535.78,401.0v-21.17h0.50v21.17zM536.28,401.0v-20.54h0.50v20.54zM536.78,401.0v-23.58h0.50v23.58zM537.28,401.0v-21.07h0.50v21.07zM537.78,401.0v-20.23h0.50v20.23zM538.28,401.0v-24.41h0.50v24.41zM538.78,401.0v-22.43h0.50v22.43zM539.28,401.0v-19.55h0.50v19.55zM539.78,401.0v-18.18h0.50v18.18zM540.28,401.0v-16.84h0.50v16.84zM540.78,401.0v-21.88h0.50v21.88zM541.28,401.0v-20.12h0.50v20.12zM541.78,401.0v-23.50h0.50v23.50zM542.28,401.0v-26.57h0.50v26.57zM542.78,401.0v-28.12h0.50v28.12zM543.28,401.0v-22.94h0.50v22.94zM543.78,401.0v-25.01h0.50v25.01zM544.28,401.0v-27.62h0.50v27.62zM544.78,401.0v-27.89h0.50v27.89zM545.27,401.0v-25.10h0.50v25.10zM545.77,401.0v-19.45h0.50v19.45zM546.27,401.0v-21.36h0.50v21.36zM546.77,401.0v-22.22h0.50v22.22zM547.27,401.0v-25.21h0.50v25.21zM547.77,401.0v-22.35h0.50v22.35zM548.27,401.0v-30.21h0.50v30.21zM548.77,401.0v-26.74h0.50v26.74zM549.27,401.0v-19.53h0.50v19.53zM549.77,401.0v-22.53h0.50v22.53zM550.27,401.0v-25.12h0.50v25.12zM550.77,401.0v-26.62h0.50v26.62zM551.27,401.0v-19.99h0.50v19.99zM551.77,401.0v-24.19h0.50v24.19zM552.27,401.0v-20.51h0.50v20.51zM552.77,401.0v-23.78h0.50v23.78zM553.27,401.0v-21.56h0.50v21.56zM553.77,401.0v-23.70h0.50v23.70zM554.27,401.0v-19.65h0.50v19.65zM554.77,401.0v-22.28h0.50v22.28zM555.27,401.0v-21.11h0.50v21.11zM555.77,401.0v-22.14h0.50v22.14zM556.27,401.0v-19.11h0.50v19.11zM556.77,401.0v-16.14h0.50v16.14zM557.27,401.0v-20.78h0.50v20.78zM557.77,401.0v-24.69h0.50v24.69zM558.27,401.0v-24.97h0.50v24.97zM558.77,401.0v-18.38h0.50v18.38zM559.27,401.0v-21.32h0.50v21.32zM559.77,401.0v-18.71h0.50v18.71zM560.27,401.0v-17.07h0.50v17.07zM560.77,401.0v-20.70h0.50v20.70zM561.27,401.0v-18.30h0.50v18.30zM561.77,401.0v-20.01h0.50v20.01zM562.27,401.0v-22.69h0.50v22.69zM562.77,401.0v-22.71h0.50v22.71zM563.27,401.0v-18.27h0.50v18.27zM563.77,401.0v-17.51h0.50v17.51zM564.27,401.0v-18.93h0.50v18.93zM564.76,401.0v-22.70h0.50v22.70zM565.26,401.0v-14.33h0.50v14.33zM565.76,401.0v-15.35h0.50v15.35zM566.26,401.0v-13.91h0.50v13.91zM566.76,401.0v-22.13h0.50v22.13zM567.26,401.0v-24.86h0.50v24.86zM567.76,401.0v-19.57h0.50v19.57zM568.26,401.0v-16.86h0.50v16.86zM568.76,401.0v-15.21h0.50v15.21zM569.26,401.0v-16.70h0.50v16.70zM569.76,401.0v-19.50h0.50v19.50zM570.26,401.0v-15.96h0.50v15.96zM570.76,401.0v-18.59h0.50v18.59zM571.26,401.0v-15.52h0.50v15.52zM571.76,401.0v-17.74h0.50v17.74zM572.26,401.0v-19.39h0.50v19.39zM572.76,401.0v-15.13h0.50v15.13zM573.26,401.0v-17.97h0.50v17.97zM573.76,401.0v-17.22h0.50v17.22zM574.26,401.0v-20.74h0.50v20.74zM574.76,401.0v-21.75h0.50v21.75zM575.26,401.0v-19.90h0.50v19.90zM575.76,401.0v-13.25h0.50v13.25zM576.26,401.0v-11.96h0.50v11.96zM576.76,401.0v-15.53h0.50v15.53zM577.26,401.0v-12.28h0.50v12.28zM577.76,401.0v-18.42h0.50v18.42zM578.26,401.0v-15.87h0.50v15.87zM578.76,401.0v-20.97h0.50v20.97zM579.26,401.0v-18.17h0.50v18.17zM579.76,401.0v-19.76h0.50v19.76zM580.26,401.0v-23.42h0.50v23.42zM580.76,401.0v-19.55h0.50v19.55zM581.26,401.0v-16.76h0.50v16.76zM581.76,401.0v-16.55h0.50v16.55zM582.26,401.0v-20.99h0.50v20.99zM582.76,401.0v-16.94h0.50v16.94zM583.26,401.0v-18.47h0.50v18.47zM583.76,401.0v-15.39h0.50v15.39zM584.26,401.0v-19.51h0.50v19.51zM584.75,401.0v-18.59h0.50v18.59zM585.25,401.0v-24.21h0.50v24.21zM585.75,401.0v-26.91h0.50v26.91zM586.25,401.0v-28.71h0.50v28.71zM586.75,401.0v-19.89h0.50v19.89zM587.25,401.0v-22.06h0.50v22.06zM587.75,401.0v-18.21h0.50v18.21zM588.25,401.0v-16.14h0.50v16.14zM588.75,401.0v-17.74h0.50v17.74zM589.25,401.0v-20.20h0.50v20.20zM589.75,401.0v-21.78h0.50v21.78zM590.25,401.0v-19.73h0.50v19.73zM590.75,401.0v-24.04h0.50v24.04zM591.25,401.0v-23.45h0.50v23.45zM591.75,401.0v-29.64h0.50v29.64zM592.25,401.0v-32.84h0.50v32.84zM592.75,401.0v-24.09h0.50v24.09zM593.25,401.0v-21.25h0.50v21.25zM593.75,401.0v-21.22h0.50v21.22zM594.25,401.0v-19.09h0.50v19.09zM594.75,401.0v-20.83h0.50v20.83zM595.25,401.0v-20.90h0.50v20.90zM595.75,401.0v-22.18h0.50v22.18zM596.25,401.0v-22.03h0.50v22.03zM596.75,401.0v-17.94h0.50v17.94zM597.25,401.0v-16.27h0.50v16.27zM597.75,401.0v-15.21h0.50v15.21zM598.25,401.0v-12.38h0.50v12.38zM598.75,401.0v-17.62h0.50v17.62zM599.25,401.0v-18.08h0.50v18.08zM599.75,401.0v-16.49h0.50v16.49zM600.25,401.0v-14.67h0.50v14.67zM600.75,401.0v-16.39h0.50v16.39zM601.25,401.0v-14.95h0.50v14.95zM601.75,401.0v-16.36h0.50v16.36zM602.25,401.0v-12.90h0.50v12.90zM602.75,401.0v-13.42h0.50v13.42zM603.25,401.0v-15.72h0.50v15.72zM603.75,401.0v-13.97h0.50v13.97zM604.24,401.0v-14.70h0.50v14.70zM604.74,401.0v-13.51h0.50v13.51zM605.24,401.0v-14.64h0.50v14.64zM605.74,401.0v-14.07h0.50v14.07zM606.24,401.0v-13.72h0.50v13.72zM606.74,401.0v-12.64h0.50v12.64zM607.24,401.0v-12.55h0.50v12.55zM607.74,401.0v-14.09h0.50v14.09zM608.24,401.0v-14.22h0.50v14.22zM608.74,401.0v-14.84h0.50v14.84zM609.24,401.0v-14.88h0.50v14.88zM609.74,401.0v-13.84h0.50v13.84zM610.24,401.0v-11.48h0.50v11.48zM610.74,401.0v-13.65h0.50v13.65zM611.24,401.0v-12.40h0.50v12.40zM611.74,401.0v-13.01h0.50v13.01zM612.24,401.0v-13.61h0.50v13.61zM612.74,401.0v-11.33h0.50v11.33zM613.24,401.0v-13.19h0.50v13.19zM613.74,401.0v-14.66h0.50v14.66zM614.24,401.0v-14.11h0.50v14.11zM614.74,401.0v-12.95h0.50v12.95zM615.24,401.0v-10.48h0.50v10.48zM615.74,401.0v-12.12h0.50v12.12zM616.24,401.0v-12.23h0.50v12.23zM616.74,401.0v-9.99h0.50v9.99zM617.24,401.0v-9.35h0.50v9.35zM617.74,401.0v-17.30h0.50v17.30zM618.24,401.0v-21.23h0.50v21.23zM618.74,401.0v-17.62h0.50v17.62zM619.24,401.0v-11.94h0.50v11.94zM619.74,401.0v-9.50h0.50v9.50zM620.24,401.0v-9.07h0.50v9.07zM620.74,401.0v-10.31h0.50v10.31zM621.24,401.0v-9.69h0.50v9.69zM621.74,401.0v-7.70h0.50v7.70zM622.24,401.0v-9.43h0.50v9.43zM622.74,401.0v-7.90h0.50v7.90zM623.24,401.0v-8.45h0.50v8.45zM623.73,401.0v-8.11h0.50v8.11zM624.23,401.0v-8.13h0.50v8.13zM624.73,401.0v-6.70h0.50v6.70zM625.23,401.0v-9.08h0.50v9.08zM625.73,401.0v-9.13h0.50v9.13zM626.23,401.0v-9.48h0.50v9.48zM626.73,401.0v-8.46h0.50v8.46zM627.23,401.0v-7.99h0.50v7.99zM627.73,401.0v-7.68h0.50v7.68zM628.23,401.0v-7.93h0.50v7.93zM628.73,401.0v-8.72h0.50v8.72zM629.23,401.0v-7.83h0.50v7.83zM629.73,401.0v-7.91h0.50v7.91zM630.23,401.0v-8.81h0.50v8.81zM630.73,401.0v-7.09h0.50v7.09zM631.23,401.0v-8.46h0.50v8.46zM631.73,401.0v-7.15h0.50v7.15zM632.23,401.0v-6.71h0.50v6.71zM632.73,401.0v-8.32h0.50v8.32zM633.23,401.0v-9.47h0.50v9.47zM633.73,401.0v-10.01h0.50v10.01zM634.23,401.0v-8.69h0.50v8.69zM634.73,401.0v-10.56h0.50v10.56zM635.23,401.0v-9.02h0.50v9.02zM635.73,401.0v-10.69h0.50v10.69zM636.23,401.0v-9.29h0.50v9.29zM636.73,401.0v-10.22h0.50v10.22zM637.23,401.0v-8.27h0.50v8.27zM637.73,401.0v-7.36h0.50v7.36zM638.23,401.0v-9.86h0.50v9.86zM638.73,401.0v-7.83h0.50v7.83zM639.23,401.0v-8.31h0.50v8.31zM639.73,401.0v-11.94h0.50v11.94zM640.23,401.0v-13.73h0.50v13.73zM640.73,401.0v-16.21h0.50v16.21zM641.23,401.0v-11.09h0.50v11.09zM641.73,401.0v-12.49h0.50v12.49zM642.23,401.0v-11.38h0.50v11.38zM642.73,401.0v-11.67h0.50v11.67zM643.23,401.0v-11.59h0.50v11.59zM643.72,401.0v-12.00h0.50v12.00zM644.22,401.0v-11.71h0.50v11.71zM644.72,401.0v-11.58h0.50v11.58zM645.22,401.0v-12.51h0.50v12.51zM645.72,401.0v-12.51h0.50v12.51zM646.22,401.0v-11.39h0.50v11.39zM646.72,401.0v-12.90h0.50v12.90zM647.22,401.0v-12.84h0.50v12.84zM647.72,401.0v-9.38h0.50v9.38zM648.22,401.0v-8.70h0.50v8.70zM648.72,401.0v-10.72h0.50v10.72zM649.22,401.0v-10.30h0.50v10.30zM649.72,401.0v-11.19h0.50v11.19zM650.22,401.0v-10.71h0.50v10.71zM650.72,401.0v-8.94h0.50v8.94zM651.22,401.0v-9.09h0.50v9.09zM651.72,401.0v-10.64h0.50v10.64zM652.22,401.0v-8.50h0.50v8.50zM652.72,401.0v-10.68h0.50v10.68zM653.22,401.0v-9.84h0.50v9.84zM653.72,401.0v-9.44h0.50v9.44zM654.22,401.0v-10.10h0.50v10.10zM654.72,401.0v-11.29h0.50v11.29zM655.22,401.0v-10.48h0.50v10.48zM655.72,401.0v-13.24h0.50v13.24zM656.22,401.0v-12.63h0.50v12.63zM656.72,401.0v-11.82h0.50v11.82zM657.22,401.0v-13.59h0.50v13.59zM657.72,401.0v-14.14h0.50v14.14zM658.22,401.0v-14.03h0.50v14.03zM658.72,401.0v-15.05h0.50v15.05zM659.22,401.0v-12.56h0.50v12.56zM659.72,401.0v-11.49h0.50v11.49zM660.22,401.0v-14.02h0.50v14.02zM660.72,401.0v-11.97h0.50v11.97zM661.22,401.0v-12.02h0.50v12.02zM661.72,401.0v-10.94h0.50v10.94zM662.22,401.0v-12.34h0.50v12.34zM662.72,401.0v-12.51h0.50v12.51zM663.21,401.0v-11.86h0.50v11.86zM663.71,401.0v-9.54h0.50v9.54zM664.21,401.0v-9.40h0.50v9.40zM664.71,401.0v-8.04h0.50v8.04zM665.21,401.0v-8.14h0.50v8.14zM665.71,401.0v-11.31h0.50v11.31zM666.21,401.0v-11.31h0.50v11.31zM666.71,401.0v-10.00h0.50v10.00zM667.21,401.0v-12.25h0.50v12.25zM667.71,401.0v-9.28h0.50v9.28zM668.21,401.0v-12.28h0.50v12.28zM668.71,401.0v-12.00h0.50v12.00zM669.21,401.0v-10.60h0.50v10.60zM669.71,401.0v-8.76h0.50v8.76zM670.21,401.0v-11.49h0.50v11.49zM670.71,401.0v-9.49h0.50v9.49zM671.21,401.0v-8.90h0.50v8.90zM671.71,401.0v-9.13h0.50v9.13zM672.21,401.0v-8.51h0.50v8.51zM672.71,401.0v-9.80h0.50v9.80zM673.21,401.0v-10.28h0.50v10.28zM673.71,401.0v-10.08h0.50v10.08zM674.21,401.0v-7.88h0.50v7.88zM674.71,401.0v-11.07h0.50v11.07zM675.21,401.0v-9.43h0.50v9.43zM675.71,401.0v-11.19h0.50v11.19zM676.21,401.0v-9.31h0.50v9.31zM676.71,401.0v-10.15h0.50v10.15zM677.21,401.0v-12.84h0.50v12.84zM677.71,401.0v-12.73h0.50v12.73zM678.21,401.0v-10.99h0.50v10.99zM678.71,401.0v-14.53h0.50v14.53zM679.21,401.0v-14.67h0.50v14.67zM679.71,401.0v-15.39h0.50v15.39zM680.21,401.0v-11.25h0.50v11.25zM680.71,401.0v-13.74h0.50v13.74zM681.21,401.0v-16.36h0.50v16.36zM681.71,401.0v-13.80h0.50v13.80zM682.21,401.0v-16.98h0.50v16.98zM682.71,401.0v-15.93h0.50v15.93zM683.20,401.0v-13.91h0.50v13.91zM683.70,401.0v-14.52h0.50v14.52zM684.20,401.0v-12.18h0.50v12.18zM684.70,401.0v-10.93h0.50v10.93zM685.20,401.0v-12.43h0.50v12.43zM685.70,401.0v-12.90h0.50v12.90zM686.20,401.0v-11.43h0.50v11.43zM686.70,401.0v-10.38h0.50v10.38zM687.20,401.0v-13.14h0.50v13.14zM687.70,401.0v-11.24h0.50v11.24zM688.20,401.0v-12.35h0.50v12.35zM688.70,401.0v-15.28h0.50v15.28zM689.20,401.0v-15.18h0.50v15.18zM689.70,401.0v-15.33h0.50v15.33zM690.20,401.0v-14.12h0.50v14.12zM690.70,401.0v-12.69h0.50v12.69zM691.20,401.0v-17.39h0.50v17.39zM691.70,401.0v-16.05h0.50v16.05zM692.20,401.0v-17.90h0.50v17.90zM692.70,401.0v-19.39h0.50v19.39zM693.20,401.0v-16.61h0.50v16.61zM693.70,401.0v-14.14h0.50v14.14zM694.20,401.0v-14.40h0.50v14.40zM694.70,401.0v-16.33h0.50v16.33zM695.20,401.0v-13.69h0.50v13.69zM695.70,401.0v-10.90h0.50v10.90zM696.20,401.0v-12.67h0.50v12.67zM696.70,401.0v-13.65h0.50v13.65zM697.20,401.0v-13.73h0.50v13.73zM697.70,401.0v-14.63h0.50v14.63zM698.20,401.0v-14.06h0.50v14.06zM698.70,401.0v-14.96h0.50v14.96zM699.20,401.0v-14.85h0.50v14.85zM699.70,401.0v-12.57h0.50v12.57zM700.20,401.0v-14.02h0.50v14.02zM700.70,401.0v-14.17h0.50v14.17zM701.20,401.0v-17.27h0.50v17.27zM701.70,401.0v-13.21h0.50v13.21zM702.20,401.0v-13.80h0.50v13.80zM702.69,401.0v-15.35h0.50v15.35zM703.19,401.0v-14.55h0.50v14.55zM703.69,401.0v-19.55h0.50v19.55zM704.19,401.0v-15.46h0.50v15.46zM704.69,401.0v-19.97h0.50v19.97zM705.19,401.0v-18.06h0.50v18.06zM722.68,401.0v-13.98h0.50v13.98zM723.18,401.0v-15.61h0.50v15.61zM723.68,401.0v-13.14h0.50v13.14zM724.18,401.0v-10.72h0.50v10.72zM724.68,401.0v-14.50h0.50v14.50zM726.18,401.0v-9.94h0.50v9.94zM726.68,401.0v-12.03h0.50v12.03zM727.18,401.0v-12.79h0.50v12.79zM727.68,401.0v-16.83h0.50v16.83zM728.18,401.0v-18.47h0.50v18.47zM728.68,401.0v-17.58h0.50v17.58zM729.18,401.0v-25.42h0.50v25.42zM729.68,401.0v-22.59h0.50v22.59zM730.18,401.0v-22.73h0.50v22.73zM730.68,401.0v-32.62h0.50v32.62zM731.18,401.0v-24.87h0.50v24.87zM731.68,401.0v-18.31h0.50v18.31zM732.18,401.0v-22.20h0.50v22.20zM732.68,401.0v-24.93h0.50v24.93zM733.18,401.0v-18.56h0.50v18.56zM733.68,401.0v-19.17h0.50v19.17zM734.18,401.0v-24.66h0.50v24.66zM734.68,401.0v-23.55h0.50v23.55zM735.18,401.0v-25.80h0.50v25.80zM735.68,401.0v-23.07h0.50v23.07zM736.18,401.0v-24.62h0.50v24.62zM736.68,401.0v-24.41h0.50v24.41zM737.18,401.0v-25.03h0.50v25.03zM737.68,401.0v-25.29h0.50v25.29zM738.18,401.0v-20.61h0.50v20.61zM738.68,401.0v-22.02h0.50v22.02zM739.18,401.0v-19.19h0.50v19.19zM739.68,401.0v-23.71h0.50v23.71zM740.18,401.0v-24.62h0.50v24.62zM740.68,401.0v-26.09h0.50v26.09zM741.18,401.0v-18.67h0.50v18.67zM741.68,401.0v-18.52h0.50v18.52zM742.17,401.0v-25.90h0.50v25.90zM742.67,401.0v-17.87h0.50v17.87zM743.17,401.0v-18.22h0.50v18.22zM743.67,401.0v-18.32h0.50v18.32zM744.17,401.0v-25.13h0.50v25.13zM744.67,401.0v-26.26h0.50v26.26zM745.17,401.0v-23.41h0.50v23.41zM745.67,401.0v-25.24h0.50v25.24zM746.17,401.0v-28.07h0.50v28.07zM746.67,401.0v-26.55h0.50v26.55zM747.17,401.0v-23.62h0.50v23.62zM747.67,401.0v-20.38h0.50v20.38zM748.17,401.0v-23.41h0.50v23.41zM748.67,401.0v-25.74h0.50v25.74zM749.17,401.0v-26.86h0.50v26.86zM749.67,401.0v-27.39h0.50v27.39zM750.17,401.0v-22.40h0.50v22.40zM750.67,401.0v-23.90h0.50v23.90zM751.17,401.0v-25.74h0.50v25.74zM751.67,401.0v-23.07h0.50v23.07zM752.17,401.0v-25.75h0.50v25.75zM752.67,401.0v-21.40h0.50v21.40zM753.17,401.0v-28.56h0.50v28.56zM753.67,401.0v-31.51h0.50v31.51zM754.17,401.0v-30.61h0.50v30.61zM754.67,401.0v-34.11h0.50v34.11zM755.17,401.0v-28.71h0.50v28.71zM755.67,401.0v-27.30h0.50v27.30zM756.17,401.0v-21.48h0.50v21.48zM756.67,401.0v-20.17h0.50v20.17zM757.17,401.0v-20.48h0.50v20.48zM757.67,401.0v-27.16h0.50v27.16zM758.17,401.0v-28.17h0.50v28.17zM758.67,401.0v-32.35h0.50v32.35zM759.17,401.0v-31.44h0.50v31.44zM759.67,401.0v-22.60h0.50v22.60zM760.17,401.0v-27.86h0.50v27.86zM760.67,401.0v-22.87h0.50v22.87zM761.17,401.0v-24.49h0.50v24.49zM761.67,401.0v-23.36h0.50v23.36zM762.16,401.0v-31.20h0.50v31.20zM762.66,401.0v-32.82h0.50v32.82zM763.16,401.0v-32.24h0.50v32.24zM763.66,401.0v-26.83h0.50v26.83zM764.16,401.0v-23.63h0.50v23.63zM764.66,401.0v-22.73h0.50v22.73zM765.16,401.0v-26.59h0.50v26.59zM765.66,401.0v-29.08h0.50v29.08zM766.16,401.0v-26.74h0.50v26.74zM766.66,401.0v-37.71h0.50v37.71zM767.16,401.0v-35.91h0.50v35.91zM767.66,401.0v-36.50h0.50v36.50zM768.16,401.0v-34.46h0.50v34.46zM768.66,401.0v-35.40h0.50v35.40zM769.16,401.0v-32.80h0.50v32.80zM769.66,401.0v-34.75h0.50v34.75zM770.16,401.0v-29.81h0.50v29.81zM770.66,401.0v-25.07h0.50v25.07zM771.16,401.0v-25.92h0.50v25.92zM771.66,401.0v-25.48h0.50v25.48zM772.16,401.0v-23.61h0.50v23.61zM772.66,401.0v-23.62h0.50v23.62zM773.16,401.0v-25.07h0.50v25.07zM773.66,401.0v-27.45h0.50v27.45zM774.16,401.0v-26.67h0.50v26.67zM774.66,401.0v-34.34h0.50v34.34zM775.16,401.0v-28.62h0.50v28.62zM775.66,401.0v-26.43h0.50v26.43zM776.16,401.0v-21.38h0.50v21.38zM776.66,401.0v-19.71h0.50v19.71zM777.16,401.0v-21.46h0.50v21.46zM777.66,401.0v-23.66h0.50v23.66zM778.16,401.0v-20.89h0.50v20.89zM778.66,401.0v-22.99h0.50v22.99zM779.16,401.0v-23.10h0.50v23.10zM779.66,401.0v-20.84h0.50v20.84zM780.16,401.0v-22.43h0.50v22.43zM780.66,401.0v-17.86h0.50v17.86zM781.16,401.0v-24.82h0.50v24.82zM781.65,401.0v-20.63h0.50v20.63zM782.15,401.0v-22.68h0.50v22.68zM782.65,401.0v-27.65h0.50v27.65zM783.15,401.0v-25.65h0.50v25.65zM783.65,401.0v-19.31h0.50v19.31zM784.15,401.0v-25.92h0.50v25.92zM784.65,401.0v-22.67h0.50v22.67zM785.15,401.0v-22.96h0.50v22.96zM785.65,401.0v-18.42h0.50v18.42zM786.15,401.0v-23.40h0.50v23.40zM786.65,401.0v-17.52h0.50v17.52zM787.15,401.0v-18.11h0.50v18.11zM787.65,401.0v-24.24h0.50v24.24zM788.15,401.0v-25.98h0.50v25.98zM788.65,401.0v-22.92h0.50v22.92zM789.15,401.0v-21.29h0.50v21.29zM789.65,401.0v-18.62h0.50v18.62zM790.15,401.0v-16.28h0.50v16.28zM790.65,401.0v-21.59h0.50v21.59zM791.15,401.0v-20.02h0.50v20.02z" fill="#4080ea"/>
<path d="M705.69,401v-18.12h0.50v18.12zM706.19,401v-17.34h0.50v17.34zM706.69,401v-17.87h0.50v17.87zM707.19,401v-13.68h0.50v13.68zM707.69,401v-19.15h0.50v19.15zM708.19,401v-14.85h0.50v14.85zM708.69,401v-15.54h0.50v15.54zM709.19,401v-12.89h0.50v12.89zM709.69,401v-19.93h0.50v19.93zM710.19,401v-12.68h0.50v12.68zM710.69,401v-21.63h0.50v21.63zM711.19,401v-16.50h0.50v16.50zM711.69,401v-17.89h0.50v17.89zM712.19,401v-13.35h0.50v13.35zM712.69,401v-17.66h0.50v17.66zM713.19,401v-13.57h0.50v13.57zM713.69,401v-14.53h0.50v14.53zM714.19,401v-11.12h0.50v11.12zM714.69,401v-14.37h0.50v14.37zM715.19,401v-9.30h0.50v9.30zM715.69,401v-13.38h0.50v13.38zM716.19,401v-11.38h0.50v11.38zM716.69,401v-14.01h0.50v14.01zM717.19,401v-12.45h0.50v12.45zM717.69,401v-18.07h0.50v18.07zM718.19,401v-14.71h0.50v14.71zM718.69,401v-15.94h0.50v15.94zM719.19,401v-12.33h0.50v12.33zM719.69,401v-18.26h0.50v18.26zM720.19,401v-16.01h0.50v16.01zM720.69,401v-18.72h0.50v18.72zM721.19,401v-13.10h0.50v13.10zM721.69,401v-14.43h0.50v14.43z" fill="#6c9df0"/>
<rect x="640.3" y="310.6" width="1.3" height="90" fill="#a9c5f6"/>
<clipPath id="c"><rect x="2.3" y="10.3" width="789.6" height="300.3"/></clipPath>
<g clip-path="url(#c)" fill="none" stroke-linejoin="bevel" stroke-linecap="butt" stroke-width="1.25">
<path d="M37.9,312.8 L38.0,312.8 L38.2,312.8 L38.4,312.8 L38.6,312.8 L38.8,312.8 L38.9,312.8 L39.1,312.5 L39.3,312.1 L39.5,311.6 L39.6,311.0 L39.8,310.4 L40.0,309.9 L40.2,309.9 L40.3,309.9 L40.5,309.9 L40.7,309.9 L40.9,309.9 L41.1,310.0 L41.2,310.1 L41.4,310.1 L41.6,310.1 L41.8,310.0 L41.9,310.0 L42.1,309.9 L42.3,309.9 L42.5,310.0 L42.6,310.2 L42.8,310.2 L43.0,310.2 L43.2,310.2 L43.4,310.2 L43.5,310.0 L43.7,310.0 L43.9,310.0 L44.1,310.3 L44.2,310.3 L44.4,310.2 L44.6,310.1 L44.8,310.1 L44.9,310.0 L45.1,310.1 L45.3,310.3 L45.5,310.3 L45.7,310.3 L45.8,310.1 L46.0,309.9 L46.2,310.0 L46.4,310.1 L46.5,310.2 L46.7,310.3 L46.9,310.3 L47.1,310.0 L47.2,310.0 L47.4,310.0 L47.6,310.1 L47.8,310.2 L48.0,310.4 L48.1,310.2 L48.3,310.1 L48.5,310.1 L48.7,310.3 L48.8,310.4 L49.0,310.4 L49.2,310.4 L49.4,310.2 L49.6,310.1 L49.7,310.3 L49.9,310.4 L50.1,310.5 L50.3,310.4 L50.4,310.2 L50.6,310.2 L50.8,310.1 L51.0,310.2 L51.1,310.4 L51.3,310.4 L51.5,310.3 L51.7,310.2 L51.9,310.2 L52.0,310.1 L52.2,310.3 L52.4,310.4 L52.6,310.4 L52.7,310.4 L52.9,310.3 L53.1,310.3 L53.3,310.3 L53.4,310.5 L53.6,310.7 L53.8,310.7 L54.0,310.8 L54.2,310.7 L54.3,310.7 L54.5,310.8 L54.7,310.9 L54.9,311.0 L55.0,311.1 L55.2,311.2 L55.4,311.2 L55.6,311.2 L55.7,311.2 L55.9,311.3 L56.1,311.4 L56.3,311.5 L56.5,311.6 L56.6,311.7 L56.8,311.7 L57.0,311.8 L57.2,311.8 L57.3,311.8 L57.5,311.9 L57.7,312.0 L57.9,312.0 L58.0,312.1 L58.2,312.2 L58.4,312.2 L58.6,312.3 L58.8,312.4 L58.9,312.4 L59.1,312.5 L59.3,312.5 L59.5,312.6 L59.6,312.7 L59.8,312.7 L60.0,312.8 L60.2,312.8 L60.3,312.8 L60.5,312.8 L60.7,312.8 L60.9,312.8 L61.1,312.8 L61.2,312.8 L61.4,312.8 L61.6,312.8 L61.8,312.8 L61.9,312.8 L62.1,312.8 L62.3,312.8 L62.5,312.8 L62.6,312.8 L62.8,312.8 L63.0,312.8 L63.2,312.8 L63.4,312.8 L63.5,312.8 L63.7,312.8 L63.9,312.8 L64.1,312.8 L64.2,312.8 L64.4,312.8 L64.6,312.8 L64.8,312.8 L64.9,312.8 L65.1,312.8 L65.3,312.8 L65.5,312.8 L65.7,312.8 L65.8,312.8 L66.0,312.8 L66.2,312.8 L66.4,312.8 L66.5,312.8 L66.7,312.8 L66.9,312.8 L67.1,312.8 L67.2,312.8 L67.4,312.8 L67.6,312.8 L67.8,312.8 L68.0,312.8 L68.1,312.8 L68.3,312.8 L68.5,312.8 L68.7,312.8 L68.8,312.8 L69.0,312.8 L69.2,312.8 L69.4,312.8 L69.5,312.8 L69.7,312.8 L69.9,312.8 L70.1,312.8 L70.3,312.8 L70.4,312.8 L70.6,312.8 L70.8,312.8 L71.0,312.8 L71.1,312.8 L71.3,312.8 L71.5,312.8 L71.7,312.8 L71.8,312.8 L72.0,312.7 L72.2,312.3 L72.4,311.9 L72.6,311.4 L72.7,310.9 L72.9,310.4 L73.1,310.2 L73.3,310.2 L73.4,310.2 L73.6,310.2 L73.8,310.2 L74.0,310.2 L74.1,310.3 L74.3,310.4 L74.5,310.4 L74.7,310.3 L74.9,310.3 L75.0,310.2 L75.2,310.2 L75.4,310.3 L75.6,310.4 L75.7,310.5 L75.9,310.5 L76.1,310.5 L76.3,310.6 L76.4,310.5 L76.6,310.4 L76.8,310.3 L77.0,310.4 L77.2,310.3 L77.3,310.4 L77.5,310.5 L77.7,310.5 L77.9,310.6 L78.0,310.5 L78.2,310.6 L78.4,310.4 L78.6,310.3 L78.8,310.3 L78.9,310.2 L79.1,310.3 L79.3,310.2 L79.5,310.5 L79.6,310.5 L79.8,310.5 L80.0,310.5 L80.2,310.4 L80.3,310.4 L80.5,310.3 L80.7,310.2 L80.9,310.3 L81.1,310.3 L81.2,310.3 L81.4,310.6 L81.6,310.6 L81.8,310.5 L81.9,310.6 L82.1,310.6 L82.3,310.4 L82.5,310.4 L82.6,310.3 L82.8,310.3 L83.0,310.3 L83.2,310.3 L83.4,310.5 L83.5,310.4 L83.7,310.4 L83.9,310.4 L84.1,310.3 L84.2,310.2 L84.4,310.2 L84.6,310.2 L84.8,310.2 L84.9,310.2 L85.1,310.6 L85.3,311.0 L85.5,311.6 L85.7,312.0 L85.8,312.4 L86.0,312.8 L86.2,312.8 L86.4,312.8 L86.5,312.8 L86.7,312.8 L86.9,312.8 L87.1,312.8 L87.2,312.8 L87.4,312.8 L87.6,312.8 L87.8,312.8 L88.0,312.8 L88.1,312.8 L88.3,312.8 L88.5,312.8 L88.7,312.8 L88.8,312.8 L89.0,312.8 L89.2,312.8 L89.4,312.8 L89.5,312.8 L89.7,312.8 L89.9,312.8 L90.1,312.8 L90.3,312.8 L90.4,312.8 L90.6,312.8 L90.8,312.8 L91.0,312.8 L91.1,312.8 L91.3,312.8 L91.5,312.8 L91.7,312.8 L91.8,312.8 L92.0,312.8 L92.2,312.8 L92.4,312.8 L92.6,312.8 L92.7,312.8 L92.9,312.8 L93.1,312.8 L93.3,312.8 L93.4,312.8 L93.6,312.8 L93.8,312.8 L94.0,312.8 L94.1,312.8 L94.3,312.8 L94.5,312.8 L94.7,312.8 L94.9,312.8 L95.0,312.8 L95.2,312.8 L95.4,312.8 L95.6,312.8 L95.7,312.8 L95.9,312.8 L96.1,312.8 L96.3,312.8 L96.4,312.8 L96.6,312.8 L96.8,312.8 L97.0,312.8 L97.2,312.8 L97.3,312.8 L97.5,312.8 L97.7,312.8 L97.9,312.8 L98.0,312.8 L98.2,312.8 L98.4,312.8 L98.6,312.8 L98.7,312.8 L98.9,312.8 L99.1,312.8 L99.3,312.8 L99.5,312.8 L99.6,312.8 L99.8,312.8 L100.0,312.8 L100.2,312.8 L100.3,312.8 L100.5,312.8 L100.7,312.8 L100.9,312.8 L101.0,312.8 L101.2,312.8 L101.4,312.8 L101.6,312.8 L101.8,312.8 L101.9,312.8 L102.1,312.8 L102.3,312.8 L102.5,312.8 L102.6,312.8 L102.8,312.8 L103.0,312.8 L103.2,312.8 L103.3,312.8 L103.5,312.8 L103.7,312.8 L103.9,312.8 L104.1,312.8 L104.2,312.8 L104.4,312.8 L104.6,312.8 L104.8,312.8 L104.9,312.8 L105.1,312.8 L105.3,312.8 L105.5,312.8 L105.6,312.8 L105.8,312.8 L106.0,312.8 L106.2,312.8 L106.4,312.8 L106.5,312.8 L106.7,312.8 L106.9,312.8 L107.1,312.8 L107.2,312.8 L107.4,312.8 L107.6,312.8 L107.8,312.8 L107.9,312.8 L108.1,312.8 L108.3,312.8 L108.5,312.8 L108.7,312.8 L108.8,312.8 L109.0,312.8 L109.2,312.8 L109.4,312.8 L109.5,312.8 L109.7,312.8 L109.9,312.8 L110.1,312.8 L110.3,312.8 L110.4,312.8 L110.6,312.8 L110.8,312.8 L111.0,312.8 L111.1,312.8 L111.3,312.8 L111.5,312.8 L111.7,312.8 L111.8,312.8 L112.0,312.8 L112.2,312.8 L112.4,312.8 L112.6,312.8 L112.7,312.8 L112.9,312.8 L113.1,312.8 L113.3,312.8 L113.4,312.8 L113.6,312.8 L113.8,312.8 L114.0,312.8 L114.1,312.8 L114.3,312.8 L114.5,312.8 L114.7,312.8 L114.9,312.8 L115.0,312.8 L115.2,312.8 L115.4,312.8 L115.6,312.8 L115.7,312.8 L115.9,312.8 L116.1,312.8 L116.3,312.8 L116.4,312.8 L116.6,312.8 L116.8,312.8 L117.0,312.8 L117.2,312.8 L117.3,312.8 L117.5,312.8 L117.7,312.8 L117.9,312.8 L118.0,312.8 L118.2,312.8 L118.4,312.8 L118.6,312.8 L118.7,312.8 L118.9,312.8 L119.1,312.8 L119.3,312.8 L119.5,312.8 L119.6,312.8 L119.8,312.8 L120.0,312.8 L120.2,312.8 L120.3,312.8 L120.5,312.8 L120.7,312.8 L120.9,312.8 L121.0,312.8 L121.2,312.8 L121.4,312.8 L121.6,312.8 L121.8,312.8 L121.9,312.8 L122.1,312.8 L122.3,312.8 L122.5,312.8 L122.6,312.8 L122.8,312.8 L123.0,312.8 L123.2,312.8 L123.3,312.8 L123.5,312.8 L123.7,312.8 L123.9,312.8 L124.1,312.8 L124.2,312.8 L124.4,312.8 L124.6,312.8 L124.8,312.8 L124.9,312.8 L125.1,312.8 L125.3,312.8 L125.5,312.8 L125.6,312.8 L125.8,312.8 L126.0,312.8 L126.2,312.8 L126.4,312.8 L126.5,312.8 L126.7,312.8 L126.9,312.8 L127.1,312.8 L127.2,312.8 L127.4,312.8 L127.6,312.8 L127.8,312.8 L127.9,312.8 L128.1,312.8 L128.3,312.8 L128.5,312.8 L128.7,312.8 L128.8,312.8 L129.0,312.8 L129.2,312.8 L129.4,312.8 L129.5,312.8 L129.7,312.8 L129.9,312.8 L130.1,312.8 L130.2,312.8 L130.4,312.8 L130.6,312.8 L130.8,312.8 L131.0,312.8 L131.1,312.8 L131.3,312.8 L131.5,312.8 L131.7,312.8 L131.8,312.8 L132.0,312.8 L132.2,312.8 L132.4,312.8 L132.5,312.8 L132.7,312.8 L132.9,312.8 L133.1,312.8 L133.3,312.8 L133.4,312.8 L133.6,312.8 L133.8,312.8 L134.0,312.8 L134.1,312.8 L134.3,312.8 L134.5,312.8 L134.7,312.8 L134.8,312.8 L135.0,312.8 L135.2,312.8 L135.4,312.8 L135.6,312.8 L135.7,312.8 L135.9,312.8 L136.1,312.8 L136.3,312.8 L136.4,312.8 L136.6,312.8 L136.8,312.8 L137.0,312.8 L137.1,312.8 L137.3,312.8 L137.5,312.8 L137.7,312.8 L137.9,312.8 L138.0,312.8 L138.2,312.8 L138.4,312.8 L138.6,312.8 L138.7,312.8 L138.9,312.8 L139.1,312.8 L139.3,312.8 L139.5,312.8 L139.6,312.8 L139.8,312.8 L140.0,312.8 L140.2,312.8 L140.3,312.8 L140.5,312.8 L140.7,312.8 L140.9,312.8 L141.0,312.8 L141.2,312.8 L141.4,312.8 L141.6,312.8 L141.8,312.8 L141.9,312.8 L142.1,312.8 L142.3,312.8 L142.5,312.8 L142.6,312.8 L142.8,312.8 L143.0,312.8 L143.2,312.8 L143.3,312.8 L143.5,312.8 L143.7,312.8 L143.9,312.8 L144.1,312.8 L144.2,312.8 L144.4,312.8 L144.6,312.8 L144.8,312.8 L144.9,312.8 L145.1,312.8 L145.3,312.8 L145.5,312.8 L145.6,312.8 L145.8,312.8 L146.0,312.8 L146.2,312.8 L146.4,312.8 L146.5,312.8 L146.7,312.8 L146.9,312.8 L147.1,312.8 L147.2,312.8 L147.4,312.8 L147.6,312.8 L147.8,312.8 L147.9,312.8 L148.1,312.8 L148.3,312.8 L148.5,312.8 L148.7,312.8 L148.8,312.8 L149.0,312.8 L149.2,312.8 L149.4,312.8 L149.5,312.8 L149.7,312.8 L149.9,312.8 L150.1,312.8 L150.2,312.8 L150.4,312.8 L150.6,312.8 L150.8,312.8 L151.0,312.8 L151.1,312.8 L151.3,312.8 L151.5,312.8 L151.7,312.8 L151.8,312.8 L152.0,312.8 L152.2,312.8 L152.4,312.8 L152.5,312.8 L152.7,312.8 L152.9,312.8 L153.1,312.8 L153.3,312.8 L153.4,312.8 L153.6,312.8 L153.8,312.8 L154.0,312.8 L154.1,312.8 L154.3,312.8 L154.5,312.8 L154.7,312.8 L154.8,312.8 L155.0,312.8 L155.2,312.8 L155.4,312.8 L155.6,312.8 L155.7,312.8 L155.9,312.8 L156.1,312.8 L156.3,312.8 L156.4,312.8 L156.6,312.8 L156.8,312.8 L157.0,312.8 L157.1,312.8 L157.3,312.8 L157.5,312.8 L157.7,312.8 L157.9,312.8 L158.0,312.8 L158.2,312.8 L158.4,312.8 L158.6,312.8 L158.7,312.8 L158.9,312.8 L159.1,312.8 L159.3,312.8 L159.4,312.8 L159.6,312.8 L159.8,312.8 L160.0,312.8 L160.2,312.8 L160.3,312.8 L160.5,312.8 L160.7,312.8 L160.9,312.8 L161.0,312.8 L161.2,312.8 L161.4,312.8 L161.6,312.8 L161.7,312.8 L161.9,312.8 L162.1,312.8 L162.3,312.8 L162.5,312.8 L162.6,312.8 L162.8,312.8 L163.0,312.8 L163.2,312.8 L163.3,312.8 L163.5,312.8 L163.7,312.8 L163.9,312.8 L164.0,312.8 L164.2,312.8 L164.4,312.8 L164.6,312.8 L164.8,312.8 L164.9,312.8 L165.1,312.8 L165.3,312.8 L165.5,312.8 L165.6,312.8 L165.8,312.8 L166.0,312.8 L166.2,312.8 L166.3,312.8 L166.5,312.8 L166.7,312.8 L166.9,312.8 L167.1,312.8 L167.2,312.8 L167.4,312.8 L167.6,312.8 L167.8,312.8 L167.9,312.8 L168.1,312.8 L168.3,312.8 L168.5,312.8 L168.6,312.8 L168.8,312.8 L169.0,312.8 L169.2,312.8 L169.4,312.8 L169.5,312.8 L169.7,312.8 L169.9,312.8 L170.1,312.8 L170.2,312.8 L170.4,312.8 L170.6,312.8 L170.8,312.8 L171.0,312.8 L171.1,312.8 L171.3,312.8 L171.5,312.8 L171.7,312.8 L171.8,312.8 L172.0,312.8 L172.2,312.8 L172.4,312.8 L172.5,312.8 L172.7,312.8 L172.9,312.8 L173.1,312.8 L173.3,312.8 L173.4,312.8 L173.6,312.8 L173.8,312.8 L174.0,312.8 L174.1,312.8 L174.3,312.8 L174.5,312.8 L174.7,312.8 L174.8,312.8 L175.0,312.8 L175.2,312.8 L175.4,312.8 L175.6,312.8 L175.7,312.8 L175.9,312.8 L176.1,312.8 L176.3,312.8 L176.4,312.8 L176.6,312.8 L176.8,312.8 L177.0,312.8 L177.1,312.8 L177.3,312.8 L177.5,312.8 L177.7,312.8 L177.9,312.8 L178.0,312.8 L178.2,312.8 L178.4,312.8 L178.6,312.8 L178.7,312.8 L178.9,312.8 L179.1,312.8 L179.3,312.8 L179.4,312.8 L179.6,312.8 L179.8,312.8 L180.0,312.8 L180.2,312.8 L180.3,312.8 L180.5,312.8 L180.7,312.8 L180.9,312.8 L181.0,312.8 L181.2,312.8 L181.4,312.8 L181.6,312.8 L181.7,312.8 L181.9,312.8 L182.1,312.8 L182.3,312.8 L182.5,312.8 L182.6,312.8 L182.8,312.8 L183.0,312.8 L183.2,312.8 L183.3,312.8 L183.5,312.8 L183.7,312.8 L183.9,312.8 L184.0,312.8 L184.2,312.8 L184.4,312.8 L184.6,312.8 L184.8,312.8 L184.9,312.8 L185.1,312.8 L185.3,312.8 L185.5,312.8 L185.6,312.8 L185.8,312.8 L186.0,312.8 L186.2,312.8 L186.3,312.8 L186.5,312.8 L186.7,312.8 L186.9,312.8 L187.1,312.8 L187.2,312.8 L187.4,312.8 L187.6,312.8 L187.8,312.8 L187.9,312.8 L188.1,312.8 L188.3,312.8 L188.5,312.8 L188.6,312.8 L188.8,312.8 L189.0,312.8 L189.2,312.8 L189.4,312.8 L189.5,312.8 L189.7,312.8 L189.9,312.8 L190.1,312.8 L190.2,312.8 L190.4,312.8 L190.6,312.8 L190.8,312.8 L190.9,312.8 L191.1,312.8 L191.3,312.8 L191.5,312.8 L191.7,312.8 L191.8,312.8 L192.0,312.8 L192.2,312.8 L192.4,312.8 L192.5,312.8 L192.7,312.8 L192.9,312.8 L193.1,312.8 L193.2,312.8 L193.4,312.8 L193.6,312.8 L193.8,312.8 L194.0,312.8 L194.1,312.8 L194.3,312.8 L194.5,312.8 L194.7,312.8 L194.8,312.8 L195.0,312.8 L195.2,312.8 L195.4,312.8 L195.5,312.8 L195.7,312.8 L195.9,312.8 L196.1,312.8 L196.3,312.8 L196.4,312.8 L196.6,312.8 L196.8,312.8 L197.0,312.8 L197.1,312.8 L197.3,312.8 L197.5,312.8 L197.7,312.8 L197.8,312.8 L198.0,312.8 L198.2,312.8 L198.4,312.8 L198.6,312.8 L198.7,312.8 L198.9,312.8 L199.1,312.8 L199.3,312.8 L199.4,312.8 L199.6,312.8 L199.8,312.8 L200.0,312.8 L200.2,312.8 L200.3,312.8 L200.5,312.8 L200.7,312.8 L200.9,312.8 L201.0,312.8 L201.2,312.8 L201.4,312.8 L201.6,312.8 L201.7,312.8 L201.9,312.8 L202.1,312.8 L202.3,312.8 L202.5,312.8 L202.6,312.8 L202.8,312.8 L203.0,312.8 L203.2,312.8 L203.3,312.8 L203.5,312.8 L203.7,312.8 L203.9,312.8 L204.0,312.8 L204.2,312.8 L204.4,312.8 L204.6,312.8 L204.8,312.8 L204.9,312.8 L205.1,312.8 L205.3,312.8 L205.5,312.8 L205.6,312.8 L205.8,312.8 L206.0,312.8 L206.2,312.8 L206.3,312.8 L206.5,312.8 L206.7,312.8 L206.9,312.8 L207.1,312.8 L207.2,312.8 L207.4,312.8 L207.6,312.8 L207.8,312.8 L207.9,312.8 L208.1,312.8 L208.3,312.8 L208.5,312.8 L208.6,312.8 L208.8,312.8 L209.0,312.8 L209.2,312.8 L209.4,312.8 L209.5,312.8 L209.7,312.8 L209.9,312.8 L210.1,312.8 L210.2,312.8 L210.4,312.8 L210.6,312.8 L210.8,312.8 L210.9,312.8 L211.1,312.8 L211.3,312.8 L211.5,312.8 L211.7,312.8 L211.8,312.8 L212.0,312.8 L212.2,312.8 L212.4,312.8 L212.5,312.8 L212.7,312.8 L212.9,312.8 L213.1,312.8 L213.2,312.8 L213.4,312.8 L213.6,312.8 L213.8,312.8 L214.0,312.8 L214.1,312.8 L214.3,312.8 L214.5,312.8 L214.7,312.8 L214.8,312.8 L215.0,312.8 L215.2,312.8 L215.4,312.8 L215.5,312.8 L215.7,312.8 L215.9,312.8 L216.1,312.8 L216.3,312.8 L216.4,312.8 L216.6,312.8 L216.8,312.8 L217.0,312.8 L217.1,312.8 L217.3,312.8 L217.5,312.8 L217.7,312.8 L217.8,312.8 L218.0,312.8 L218.2,312.8 L218.4,312.8 L218.6,312.8 L218.7,312.8 L218.9,312.8 L219.1,312.8 L219.3,312.8 L219.4,312.8 L219.6,312.8 L219.8,312.8 L220.0,312.8 L220.1,312.8 L220.3,312.8 L220.5,312.8 L220.7,312.8 L220.9,312.8 L221.0,312.8 L221.2,312.8 L221.4,312.8 L221.6,312.8 L221.7,312.8 L221.9,312.8 L222.1,312.8 L222.3,312.8 L222.4,312.8 L222.6,312.8 L222.8,312.8 L223.0,312.8 L223.2,312.8 L223.3,312.8 L223.5,312.8 L223.7,312.8 L223.9,312.8 L224.0,312.8 L224.2,312.8 L224.4,312.8 L224.6,312.8 L224.7,312.8 L224.9,312.8 L225.1,312.8 L225.3,312.8 L225.5,312.8 L225.6,312.8 L225.8,312.8 L226.0,312.8 L226.2,312.8 L226.3,312.8 L226.5,312.8 L226.7,312.8 L226.9,312.8 L227.0,312.8 L227.2,312.8 L227.4,312.8 L227.6,312.8 L227.8,312.8 L227.9,312.8 L228.1,312.8 L228.3,312.8 L228.5,312.8 L228.6,312.8 L228.8,312.8 L229.0,312.8 L229.2,312.8 L229.3,312.8 L229.5,312.8 L229.7,312.8 L229.9,312.8 L230.1,312.8 L230.2,312.8 L230.4,312.8 L230.6,312.8 L230.8,312.8 L230.9,312.8 L231.1,312.8 L231.3,312.8 L231.5,312.8 L231.7,312.8 L231.8,312.8 L232.0,312.8 L232.2,312.8 L232.4,312.8 L232.5,312.8 L232.7,312.8 L232.9,312.8 L233.1,312.8 L233.2,312.8 L233.4,312.8 L233.6,312.8 L233.8,312.8 L234.0,312.8 L234.1,312.8 L234.3,312.8 L234.5,312.8 L234.7,312.8 L234.8,312.8 L235.0,312.8 L235.2,312.8 L235.4,312.8 L235.5,312.8 L235.7,312.8 L235.9,312.8 L236.1,312.8 L236.3,312.8 L236.4,312.8 L236.6,312.8 L236.8,312.8 L237.0,312.8 L237.1,312.8 L237.3,312.8 L237.5,312.8 L237.7,312.8 L237.8,312.8 L238.0,312.8 L238.2,312.7 L238.4,312.7 L238.6,312.6 L238.7,312.6 L238.9,312.5 L239.1,312.5 L239.3,312.4 L239.4,312.4 L239.6,312.4 L239.8,312.3 L240.0,312.3 L240.1,312.2 L240.3,312.2 L240.5,312.1 L240.7,312.0 L240.9,312.0 L241.0,312.0 L241.2,312.0 L241.4,311.9 L241.6,311.9 L241.7,311.8 L241.9,311.7 L242.1,311.6 L242.3,311.6 L242.4,311.6 L242.6,311.6 L242.8,311.6 L243.0,311.5 L243.2,311.5 L243.3,311.3 L243.5,311.2 L243.7,311.2 L243.9,311.1 L244.0,311.1 L244.2,311.1 L244.4,311.1 L244.6,311.1 L244.7,311.1 L244.9,311.0 L245.1,310.8 L245.3,310.8 L245.5,310.7 L245.6,310.7 L245.8,310.6 L246.0,310.7 L246.2,310.8 L246.3,310.7 L246.5,310.6 L246.7,310.6 L246.9,310.6 L247.0,310.5 L247.2,310.4 L247.4,310.4 L247.6,310.4 L247.8,310.5 L247.9,310.5 L248.1,310.5 L248.3,310.6 L248.5,310.5 L248.6,310.4 L248.8,310.3 L249.0,310.3 L249.2,310.2 L249.3,310.3 L249.5,310.4 L249.7,310.4 L249.9,310.3 L250.1,310.4 L250.2,310.2 L250.4,310.2 L250.6,310.2 L250.8,310.1 L250.9,310.2 L251.1,310.2 L251.3,310.2 L251.5,310.2 L251.6,310.0 L251.8,310.0 L252.0,310.0 L252.2,309.9 L252.4,310.0 L252.5,310.1 L252.7,310.0 L252.9,310.0 L253.1,310.0 L253.2,309.9 L253.4,309.8 L253.6,309.9 L253.8,309.9 L253.9,310.0 L254.1,309.9 L254.3,309.9 L254.5,309.8 L254.7,309.7 L254.8,309.7 L255.0,309.8 L255.2,309.8 L255.4,309.8 L255.5,309.6 L255.7,309.5 L255.9,309.5 L256.1,309.6 L256.2,309.6 L256.4,309.5 L256.6,309.4 L256.8,309.3 L257.0,309.3 L257.1,309.3 L257.3,309.3 L257.5,309.3 L257.7,309.3 L257.8,309.1 L258.0,309.0 L258.2,309.0 L258.4,309.2 L258.5,309.2 L258.7,309.2 L258.9,309.0 L259.1,309.0 L259.3,308.9 L259.4,309.0 L259.6,309.0 L259.8,309.1 L260.0,309.0 L260.1,308.8 L260.3,308.7 L260.5,308.6 L260.7,308.5 L260.9,308.6 L261.0,308.6 L261.2,308.5 L261.4,308.3 L261.6,308.2 L261.7,308.0 L261.9,308.0 L262.1,307.9 L262.3,307.8 L262.4,307.9 L262.6,308.0 L262.8,307.9 L263.0,307.9 L263.2,307.6 L263.3,307.6 L263.5,307.4 L263.7,307.3 L263.9,307.3 L264.0,307.2 L264.2,307.4 L264.4,307.2 L264.6,307.3 L264.7,307.0 L264.9,306.8 L265.1,306.6 L265.3,306.5 L265.5,306.6 L265.6,306.5 L265.8,306.6 L266.0,306.2 L266.2,306.0 L266.3,305.9 L266.5,306.0 L266.7,306.1 L266.9,305.9 L267.0,305.8 L267.2,305.4 L267.4,305.4 L267.6,305.4 L267.8,305.4 L267.9,305.3 L268.1,305.1 L268.3,305.0 L268.5,305.0 L268.6,305.2 L268.8,305.4 L269.0,305.5 L269.2,305.6 L269.3,305.5 L269.5,305.4 L269.7,305.4 L269.9,305.6 L270.1,305.9 L270.2,305.8 L270.4,306.0 L270.6,305.9 L270.8,305.7 L270.9,305.7 L271.1,305.7 L271.3,306.0 L271.5,306.1 L271.6,306.2 L271.8,306.1 L272.0,306.0 L272.2,305.9 L272.4,305.8 L272.5,305.9 L272.7,305.9 L272.9,306.4 L273.1,306.3 L273.2,306.3 L273.4,306.2 L273.6,305.9 L273.8,306.0 L273.9,306.1 L274.1,306.3 L274.3,306.4 L274.5,306.0 L274.7,305.9 L274.8,305.8 L275.0,306.1 L275.2,306.2 L275.4,306.1 L275.5,305.9 L275.7,305.6 L275.9,305.4 L276.1,305.6 L276.2,305.6 L276.4,305.6 L276.6,305.1 L276.8,304.8 L277.0,304.5 L277.1,304.5 L277.3,304.8 L277.5,304.6 L277.7,304.6 L277.8,304.3 L278.0,304.0 L278.2,303.7 L278.4,303.8 L278.5,303.8 L278.7,303.9 L278.9,303.6 L279.1,303.4 L279.3,302.7 L279.4,302.4 L279.6,302.4 L279.8,302.3 L280.0,302.1 L280.1,302.0 L280.3,302.0 L280.5,302.0 L280.7,301.9 L280.8,301.7 L281.0,301.6 L281.2,301.7 L281.4,301.6 L281.6,301.7 L281.7,301.9 L281.9,301.8 L282.1,301.8 L282.3,301.7 L282.4,301.4 L282.6,301.3 L282.8,301.1 L283.0,301.1 L283.1,301.0 L283.3,301.0 L283.5,301.2 L283.7,301.6 L283.9,301.7 L284.0,302.0 L284.2,302.1 L284.4,302.0 L284.6,302.2 L284.7,302.0 L284.9,301.9 L285.1,302.2 L285.3,302.5 L285.4,302.9 L285.6,303.1 L285.8,303.4 L286.0,303.4 L286.2,303.3 L286.3,303.4 L286.5,303.2 L286.7,302.9 L286.9,303.0 L287.0,303.0 L287.2,302.9 L287.4,303.1 L287.6,303.1 L287.7,302.9 L287.9,302.7 L288.1,302.7 L288.3,302.2 L288.5,301.9 L288.6,301.7 L288.8,301.9 L289.0,301.7 L289.2,301.7 L289.3,301.5 L289.5,301.3 L289.7,300.5 L289.9,300.0 L290.0,299.7 L290.2,299.7 L290.4,299.8 L290.6,299.7 L290.8,299.4 L290.9,299.4 L291.1,299.1 L291.3,298.3 L291.5,298.0 L291.6,298.0 L291.8,298.1 L292.0,297.9 L292.2,298.1 L292.4,298.2 L292.5,297.8 L292.7,297.2 L292.9,296.6 L293.1,296.4 L293.2,296.3 L293.4,296.0 L293.6,295.9 L293.8,296.1 L293.9,296.6 L294.1,296.2 L294.3,296.2 L294.5,295.7 L294.7,295.2 L294.8,294.7 L295.0,294.7 L295.2,294.8 L295.4,295.0 L295.5,294.9 L295.7,294.6 L295.9,294.7 L296.1,294.2 L296.2,293.8 L296.4,293.2 L296.6,292.8 L296.8,292.2 L297.0,292.2 L297.1,292.2 L297.3,292.1 L297.5,292.5 L297.7,292.5 L297.8,292.4 L298.0,291.8 L298.2,291.7 L298.4,290.4 L298.5,288.8 L298.7,288.2 L298.9,286.9 L299.1,286.2 L299.3,286.1 L299.4,285.4 L299.6,284.8 L299.8,282.9 L300.0,281.9 L300.1,279.7 L300.3,277.5 L300.5,275.2 L300.7,273.6 L300.8,272.1 L301.0,271.1 L301.2,270.2 L301.4,269.2 L301.6,268.2 L301.7,267.3 L301.9,266.3 L302.1,265.6 L302.3,266.8 L302.4,268.0 L302.6,269.1 L302.8,270.5 L303.0,273.2 L303.1,274.3 L303.3,276.0 L303.5,275.0 L303.7,273.7 L303.9,274.4 L304.0,274.5 L304.2,274.5 L304.4,275.7 L304.6,277.5 L304.7,276.3 L304.9,275.8 L305.1,274.4 L305.3,271.7 L305.4,270.9 L305.6,270.1 L305.8,269.3 L306.0,270.0 L306.2,270.8 L306.3,271.5 L306.5,272.3 L306.7,273.1 L306.9,274.2 L307.0,275.4 L307.2,276.1 L307.4,277.2 L307.6,276.7 L307.7,277.1 L307.9,279.1 L308.1,280.5 L308.3,281.1 L308.5,282.2 L308.6,283.5 L308.8,283.5 L309.0,282.9 L309.2,283.7 L309.3,283.9 L309.5,284.3 L309.7,285.4 L309.9,287.0 L310.0,287.3 L310.2,287.9 L310.4,288.9 L310.6,288.8 L310.8,289.0 L310.9,288.1 L311.1,289.7 L311.3,290.2 L311.5,290.4 L311.6,290.3 L311.8,290.6 L312.0,290.7 L312.2,289.6 L312.3,288.7 L312.5,286.9 L312.7,285.5 L312.9,285.4 L313.1,285.3 L313.2,285.2 L313.4,285.1 L313.6,285.0 L313.8,285.2 L313.9,286.1 L314.1,286.0 L314.3,285.9 L314.5,285.9 L314.6,285.7 L314.8,284.8 L315.0,284.1 L315.2,284.0 L315.4,283.9 L315.5,283.8 L315.7,283.7 L315.9,283.8 L316.1,284.4 L316.2,285.0 L316.4,285.6 L316.6,286.2 L316.8,287.1 L316.9,287.9 L317.1,288.5 L317.3,289.1 L317.5,290.0 L317.7,291.3 L317.8,291.7 L318.0,291.4 L318.2,290.7 L318.4,290.8 L318.5,290.9 L318.7,291.0 L318.9,291.3 L319.1,292.5 L319.2,293.0 L319.4,293.4 L319.6,292.5 L319.8,292.5 L320.0,292.7 L320.1,292.9 L320.3,292.6 L320.5,293.5 L320.7,294.5 L320.8,294.5 L321.0,294.3 L321.2,294.2 L321.4,293.9 L321.6,293.8 L321.7,293.3 L321.9,293.2 L322.1,293.4 L322.3,293.5 L322.4,293.4 L322.6,294.0 L322.8,293.9 L323.0,293.5 L323.1,293.1 L323.3,293.0 L323.5,292.6 L323.7,291.8 L323.9,291.4 L324.0,291.5 L324.2,291.5 L324.4,291.3 L324.6,291.4 L324.7,291.4 L324.9,290.8 L325.1,290.2 L325.3,289.5 L325.4,289.1 L325.6,288.9 L325.8,288.6 L326.0,288.4 L326.2,288.2 L326.3,288.1 L326.5,288.3 L326.7,288.5 L326.9,288.9 L327.0,289.3 L327.2,289.4 L327.4,289.5 L327.6,289.7 L327.7,290.4 L327.9,291.2 L328.1,291.5 L328.3,291.8 L328.5,292.0 L328.6,292.3 L328.8,291.4 L329.0,291.4 L329.2,291.3 L329.3,291.8 L329.5,292.0 L329.7,292.0 L329.9,292.6 L330.0,293.3 L330.2,293.4 L330.4,293.3 L330.6,293.4 L330.8,293.3 L330.9,293.0 L331.1,292.8 L331.3,292.9 L331.5,292.9 L331.6,293.0 L331.8,293.2 L332.0,293.5 L332.2,294.0 L332.3,294.6 L332.5,295.2 L332.7,295.5 L332.9,295.1 L333.1,295.2 L333.2,295.4 L333.4,295.3 L333.6,295.9 L333.8,296.8 L333.9,297.1 L334.1,297.0 L334.3,297.2 L334.5,297.1 L334.6,297.2 L334.8,296.7 L335.0,296.5 L335.2,296.9 L335.4,296.9 L335.5,296.9 L335.7,297.1 L335.9,297.6 L336.1,297.8 L336.2,297.6 L336.4,297.4 L336.6,297.3 L336.8,297.1 L336.9,296.6 L337.1,296.6 L337.3,296.9 L337.5,297.1 L337.7,297.2 L337.8,297.3 L338.0,297.5 L338.2,297.3 L338.4,296.8 L338.5,296.4 L338.7,296.3 L338.9,295.8 L339.1,295.5 L339.2,295.3 L339.4,295.8 L339.6,295.7 L339.8,295.4 L340.0,295.3 L340.1,294.6 L340.3,293.8 L340.5,293.2 L340.7,292.9 L340.8,292.6 L341.0,292.3 L341.2,292.0 L341.4,291.9 L341.5,292.3 L341.7,292.6 L341.9,293.0 L342.1,293.3 L342.3,293.7 L342.4,293.9 L342.6,294.3 L342.8,295.4 L343.0,295.8 L343.1,296.3 L343.3,296.8 L343.5,296.9 L343.7,296.7 L343.8,296.9 L344.0,296.6 L344.2,296.6 L344.4,296.9 L344.6,297.1 L344.7,297.1 L344.9,297.2 L345.1,296.6 L345.3,296.3 L345.4,295.9 L345.6,295.5 L345.8,295.3 L346.0,295.2 L346.1,295.2 L346.3,295.1 L346.5,294.9 L346.7,294.6 L346.9,294.4 L347.0,294.4 L347.2,294.5 L347.4,294.6 L347.6,294.8 L347.7,295.0 L347.9,295.2 L348.1,295.5 L348.3,296.2 L348.4,296.6 L348.6,296.6 L348.8,296.5 L349.0,296.8 L349.2,296.3 L349.3,296.1 L349.5,296.5 L349.7,296.3 L349.9,296.7 L350.0,296.9 L350.2,297.1 L350.4,296.9 L350.6,297.1 L350.7,296.7 L350.9,296.6 L351.1,296.3 L351.3,296.1 L351.5,296.2 L351.6,296.0 L351.8,296.8 L352.0,297.1 L352.2,297.1 L352.3,297.2 L352.5,297.1 L352.7,297.0 L352.9,296.8 L353.1,296.3 L353.2,296.5 L353.4,296.3 L353.6,296.5 L353.8,296.7 L353.9,297.0 L354.1,297.2 L354.3,297.2 L354.5,297.3 L354.6,297.3 L354.8,296.5 L355.0,296.3 L355.2,296.0 L355.4,296.1 L355.5,296.3 L355.7,296.2 L355.9,296.9 L356.1,297.0 L356.2,296.8 L356.4,297.0 L356.6,296.9 L356.8,296.1 L356.9,296.3 L357.1,296.4 L357.3,296.4 L357.5,297.4 L357.7,297.3 L357.8,297.2 L358.0,297.5 L358.2,297.2 L358.4,296.8 L358.5,296.6 L358.7,296.5 L358.9,296.6 L359.1,296.6 L359.2,296.7 L359.4,296.7 L359.6,296.6 L359.8,296.4 L360.0,296.4 L360.1,296.5 L360.3,296.8 L360.5,297.1 L360.7,297.5 L360.8,297.9 L361.0,298.1 L361.2,298.5 L361.4,299.5 L361.5,300.1 L361.7,300.2 L361.9,300.6 L362.1,300.9 L362.3,300.5 L362.4,300.6 L362.6,301.0 L362.8,301.1 L363.0,301.5 L363.1,301.7 L363.3,302.4 L363.5,302.6 L363.7,302.6 L363.8,302.8 L364.0,302.8 L364.2,302.7 L364.4,302.8 L364.6,303.1 L364.7,303.3 L364.9,303.5 L365.1,303.6 L365.3,303.8 L365.4,303.7 L365.6,303.8 L365.8,303.5 L366.0,303.6 L366.1,303.8 L366.3,303.8 L366.5,303.9 L366.7,304.2 L366.9,304.3 L367.0,304.2 L367.2,304.1 L367.4,303.8 L367.6,303.5 L367.7,303.4 L367.9,303.5 L368.1,303.5 L368.3,303.8 L368.4,303.7 L368.6,303.7 L368.8,303.7 L369.0,303.5 L369.2,303.4 L369.3,303.2 L369.5,303.2 L369.7,303.3 L369.9,303.3 L370.0,303.4 L370.2,303.5 L370.4,303.5 L370.6,303.7 L370.7,303.6 L370.9,303.6 L371.1,303.4 L371.3,303.3 L371.5,303.4 L371.6,303.3 L371.8,303.5 L372.0,303.9 L372.2,304.0 L372.3,304.2 L372.5,304.0 L372.7,303.9 L372.9,303.7 L373.0,303.7 L373.2,303.9 L373.4,304.0 L373.6,304.3 L373.8,304.5 L373.9,304.5 L374.1,304.5 L374.3,304.1 L374.5,304.0 L374.6,303.7 L374.8,303.7 L375.0,303.6 L375.2,303.8 L375.3,304.0 L375.5,303.8 L375.7,303.9 L375.9,303.5 L376.1,303.4 L376.2,303.1 L376.4,303.3 L376.6,303.0 L376.8,303.2 L376.9,303.5 L377.1,303.3 L377.3,303.3 L377.5,303.1 L377.6,302.8 L377.8,302.8 L378.0,302.7 L378.2,302.7 L378.4,302.9 L378.5,303.1 L378.7,303.3 L378.9,303.2 L379.1,303.3 L379.2,302.8 L379.4,302.9 L379.6,303.1 L379.8,303.2 L379.9,303.6 L380.1,303.5 L380.3,303.3 L380.5,303.2 L380.7,303.1 L380.8,303.4 L381.0,303.5 L381.2,303.7 L381.4,303.4 L381.5,303.0 L381.7,302.9 L381.9,302.9 L382.1,303.3 L382.3,303.3 L382.4,303.4 L382.6,303.3 L382.8,303.1 L383.0,303.1 L383.1,302.7 L383.3,302.7 L383.5,303.0 L383.7,303.1 L383.8,303.2 L384.0,303.2 L384.2,303.2 L384.4,302.9 L384.6,302.7 L384.7,302.3 L384.9,301.8 L385.1,301.8 L385.3,301.8 L385.4,301.9 L385.6,301.4 L385.8,301.2 L386.0,300.7 L386.1,300.3 L386.3,300.1 L386.5,299.9 L386.7,300.0 L386.9,300.2 L387.0,300.2 L387.2,300.1 L387.4,299.9 L387.6,299.8 L387.7,300.0 L387.9,300.5 L388.1,300.4 L388.3,300.5 L388.4,299.9 L388.6,299.6 L388.8,299.5 L389.0,299.6 L389.2,299.7 L389.3,300.0 L389.5,300.2 L389.7,300.1 L389.9,299.8 L390.0,299.6 L390.2,299.2 L390.4,299.0 L390.6,299.1 L390.7,299.0 L390.9,299.1 L391.1,299.2 L391.3,298.7 L391.5,298.3 L391.6,297.9 L391.8,297.1 L392.0,296.8 L392.2,296.8 L392.3,296.6 L392.5,296.1 L392.7,295.6 L392.9,294.9 L393.0,293.8 L393.2,293.3 L393.4,292.9 L393.6,292.8 L393.8,292.7 L393.9,292.6 L394.1,292.5 L394.3,292.3 L394.5,291.9 L394.6,291.8 L394.8,291.8 L395.0,291.6 L395.2,291.2 L395.3,291.3 L395.5,291.4 L395.7,291.3 L395.9,291.4 L396.1,291.9 L396.2,292.6 L396.4,293.0 L396.6,292.9 L396.8,292.1 L396.9,292.1 L397.1,292.2 L397.3,292.1 L397.5,292.4 L397.6,292.1 L397.8,291.5 L398.0,290.3 L398.2,290.0 L398.4,290.4 L398.5,290.9 L398.7,290.8 L398.9,290.7 L399.1,289.7 L399.2,288.0 L399.4,287.3 L399.6,287.5 L399.8,286.7 L399.9,284.4 L400.1,283.4 L400.3,282.5 L400.5,281.6 L400.7,280.7 L400.8,279.9 L401.0,280.3 L401.2,280.8 L401.4,281.2 L401.5,281.7 L401.7,282.5 L401.9,283.7 L402.1,285.3 L402.2,285.0 L402.4,284.3 L402.6,283.5 L402.8,283.1 L403.0,282.7 L403.1,282.5 L403.3,282.4 L403.5,282.8 L403.7,283.3 L403.8,283.7 L404.0,284.2 L404.2,285.1 L404.4,285.8 L404.5,287.0 L404.7,288.0 L404.9,288.4 L405.1,288.4 L405.3,287.8 L405.4,287.6 L405.6,287.9 L405.8,287.9 L406.0,288.6 L406.1,289.1 L406.3,289.4 L406.5,289.7 L406.7,288.8 L406.8,288.5 L407.0,288.9 L407.2,288.6 L407.4,288.2 L407.6,288.1 L407.7,286.8 L407.9,285.0 L408.1,284.2 L408.3,283.4 L408.4,283.2 L408.6,283.5 L408.8,283.9 L409.0,284.2 L409.1,284.5 L409.3,285.3 L409.5,285.9 L409.7,285.6 L409.9,285.8 L410.0,286.3 L410.2,286.8 L410.4,287.5 L410.6,287.8 L410.7,288.2 L410.9,288.0 L411.1,287.1 L411.3,287.0 L411.4,287.4 L411.6,288.3 L411.8,288.6 L412.0,288.7 L412.2,289.2 L412.3,288.3 L412.5,287.6 L412.7,287.4 L412.9,287.3 L413.0,288.2 L413.2,288.2 L413.4,288.1 L413.6,287.4 L413.8,287.0 L413.9,286.6 L414.1,287.3 L414.3,287.1 L414.5,286.6 L414.6,286.5 L414.8,286.5 L415.0,286.4 L415.2,286.8 L415.3,287.2 L415.5,287.8 L415.7,288.6 L415.9,288.6 L416.1,288.8 L416.2,290.2 L416.4,290.8 L416.6,291.7 L416.8,291.6 L416.9,291.0 L417.1,291.5 L417.3,291.4 L417.5,292.4 L417.6,293.0 L417.8,292.6 L418.0,292.1 L418.2,291.7 L418.4,291.5 L418.5,291.9 L418.7,292.8 L418.9,292.5 L419.1,292.9 L419.2,292.9 L419.4,291.7 L419.6,291.6 L419.8,291.7 L419.9,291.7 L420.1,292.3 L420.3,292.9 L420.5,292.6 L420.7,292.4 L420.8,292.6 L421.0,291.5 L421.2,290.6 L421.4,290.5 L421.5,290.8 L421.7,290.8 L421.9,290.5 L422.1,290.3 L422.2,289.7 L422.4,289.3 L422.6,289.3 L422.8,289.5 L423.0,290.0 L423.1,290.2 L423.3,290.5 L423.5,290.3 L423.7,289.6 L423.8,289.8 L424.0,290.1 L424.2,290.3 L424.4,290.6 L424.5,290.0 L424.7,289.9 L424.9,289.9 L425.1,290.1 L425.3,290.9 L425.4,291.2 L425.6,291.5 L425.8,291.5 L426.0,291.2 L426.1,291.4 L426.3,292.6 L426.5,292.9 L426.7,292.9 L426.8,292.8 L427.0,292.4 L427.2,292.5 L427.4,293.7 L427.6,294.3 L427.7,294.0 L427.9,293.7 L428.1,293.6 L428.3,293.6 L428.4,293.6 L428.6,294.8 L428.8,294.8 L429.0,294.6 L429.1,294.3 L429.3,294.1 L429.5,293.8 L429.7,294.7 L429.9,295.1 L430.0,295.0 L430.2,294.6 L430.4,294.0 L430.6,294.4 L430.7,294.4 L430.9,294.8 L431.1,295.5 L431.3,295.2 L431.4,294.6 L431.6,294.4 L431.8,294.6 L432.0,294.3 L432.2,295.0 L432.3,295.4 L432.5,295.2 L432.7,294.0 L432.9,294.0 L433.0,294.1 L433.2,294.7 L433.4,294.9 L433.6,295.1 L433.7,294.4 L433.9,293.8 L434.1,293.7 L434.3,294.4 L434.5,294.5 L434.6,294.1 L434.8,293.6 L435.0,293.0 L435.2,292.5 L435.3,292.3 L435.5,293.2 L435.7,293.1 L435.9,292.3 L436.0,291.7 L436.2,291.3 L436.4,291.3 L436.6,291.9 L436.8,291.8 L436.9,291.8 L437.1,291.5 L437.3,290.7 L437.5,290.3 L437.6,290.8 L437.8,291.3 L438.0,291.2 L438.2,290.4 L438.3,289.3 L438.5,289.1 L438.7,289.0 L438.9,289.5 L439.1,289.4 L439.2,289.1 L439.4,288.3 L439.6,288.0 L439.8,287.7 L439.9,288.4 L440.1,288.7 L440.3,288.6 L440.5,287.8 L440.6,287.2 L440.8,287.1 L441.0,287.3 L441.2,287.1 L441.4,287.0 L441.5,287.3 L441.7,287.6 L441.9,287.5 L442.1,287.4 L442.2,287.9 L442.4,289.0 L442.6,289.2 L442.8,288.9 L443.0,288.2 L443.1,288.5 L443.3,288.5 L443.5,288.7 L443.7,289.1 L443.8,289.8 L444.0,289.7 L444.2,289.6 L444.4,289.2 L444.5,289.2 L444.7,289.6 L444.9,289.7 L445.1,289.9 L445.3,290.1 L445.4,290.2 L445.6,290.4 L445.8,290.9 L446.0,291.7 L446.1,293.1 L446.3,294.6 L446.5,296.0 L446.7,297.3 L446.8,298.4 L447.0,297.5 L447.2,297.0 L447.4,297.2 L447.6,297.2 L447.7,297.3 L447.9,298.0 L448.1,298.3 L448.3,297.6 L448.4,296.7 L448.6,295.7 L448.8,295.9 L449.0,295.6 L449.1,296.3 L449.3,297.0 L449.5,297.2 L449.7,296.3 L449.9,295.9 L450.0,295.7 L450.2,295.7 L450.4,295.4 L450.6,295.7 L450.7,296.3 L450.9,296.8 L451.1,296.6 L451.3,296.2 L451.4,295.8 L451.6,295.5 L451.8,295.0 L452.0,294.9 L452.2,294.7 L452.3,295.0 L452.5,296.1 L452.7,296.1 L452.9,296.0 L453.0,296.0 L453.2,296.1 L453.4,295.5 L453.6,294.5 L453.7,294.0 L453.9,293.8 L454.1,293.3 L454.3,293.1 L454.5,293.0 L454.6,293.2 L454.8,292.9 L455.0,291.9 L455.2,291.1 L455.3,291.0 L455.5,290.7 L455.7,290.7 L455.9,290.9 L456.0,290.6 L456.2,290.0 L456.4,289.3 L456.6,288.8 L456.8,288.4 L456.9,288.1 L457.1,288.0 L457.3,288.2 L457.5,288.4 L457.6,288.8 L457.8,288.8 L458.0,288.8 L458.2,288.7 L458.3,288.4 L458.5,289.0 L458.7,288.9 L458.9,289.6 L459.1,290.0 L459.2,290.1 L459.4,290.1 L459.6,289.4 L459.8,289.5 L459.9,288.2 L460.1,288.4 L460.3,288.2 L460.5,288.5 L460.6,288.6 L460.8,289.1 L461.0,289.4 L461.2,289.3 L461.4,289.5 L461.5,289.0 L461.7,288.4 L461.9,288.2 L462.1,287.8 L462.2,287.9 L462.4,288.3 L462.6,288.4 L462.8,288.9 L462.9,289.4 L463.1,289.6 L463.3,289.3 L463.5,289.5 L463.7,289.1 L463.8,289.0 L464.0,288.7 L464.2,288.7 L464.4,289.1 L464.5,289.7 L464.7,289.7 L464.9,290.1 L465.1,290.3 L465.2,290.0 L465.4,290.0 L465.6,289.4 L465.8,288.6 L466.0,288.8 L466.1,289.4 L466.3,289.6 L466.5,289.8 L466.7,290.5 L466.8,290.7 L467.0,290.5 L467.2,289.9 L467.4,289.1 L467.5,289.3 L467.7,289.0 L467.9,288.7 L468.1,289.8 L468.3,290.1 L468.4,290.0 L468.6,290.0 L468.8,290.0 L469.0,289.6 L469.1,289.2 L469.3,288.7 L469.5,288.8 L469.7,289.0 L469.8,289.0 L470.0,289.1 L470.2,289.6 L470.4,289.4 L470.6,288.7 L470.7,288.4 L470.9,287.7 L471.1,286.4 L471.3,285.5 L471.4,285.3 L471.6,284.9 L471.8,284.2 L472.0,283.6 L472.1,283.3 L472.3,283.3 L472.5,283.3 L472.7,283.3 L472.9,283.2 L473.0,283.4 L473.2,283.2 L473.4,283.2 L473.6,283.6 L473.7,284.2 L473.9,284.2 L474.1,283.7 L474.3,283.1 L474.5,282.4 L474.6,282.6 L474.8,282.7 L475.0,282.7 L475.2,282.9 L475.3,284.1 L475.5,284.3 L475.7,284.1 L475.9,283.8 L476.0,283.1 L476.2,283.4 L476.4,283.4 L476.6,283.7 L476.8,284.0 L476.9,284.3 L477.1,284.5 L477.3,285.1 L477.5,285.0 L477.6,285.3 L477.8,285.7 L478.0,285.6 L478.2,286.2 L478.3,287.8 L478.5,287.8 L478.7,287.3 L478.9,287.4 L479.1,286.9 L479.2,286.2 L479.4,285.7 L479.6,285.6 L479.8,286.7 L479.9,287.2 L480.1,287.0 L480.3,286.8 L480.5,286.3 L480.6,286.0 L480.8,286.1 L481.0,286.9 L481.2,287.4 L481.4,286.8 L481.5,286.5 L481.7,286.2 L481.9,285.5 L482.1,285.3 L482.2,285.6 L482.4,286.6 L482.6,286.6 L482.8,287.3 L482.9,287.0 L483.1,286.6 L483.3,286.8 L483.5,286.1 L483.7,285.6 L483.8,286.1 L484.0,287.1 L484.2,286.7 L484.4,286.8 L484.5,285.8 L484.7,284.3 L484.9,284.4 L485.1,284.2 L485.2,283.9 L485.4,284.6 L485.6,284.9 L485.8,284.8 L486.0,284.3 L486.1,283.5 L486.3,282.7 L486.5,281.8 L486.7,282.0 L486.8,282.2 L487.0,281.8 L487.2,282.3 L487.4,282.0 L487.5,280.7 L487.7,279.9 L487.9,279.4 L488.1,278.1 L488.3,277.5 L488.4,277.1 L488.6,277.8 L488.8,277.5 L489.0,278.2 L489.1,277.6 L489.3,277.8 L489.5,276.9 L489.7,275.4 L489.8,273.5 L490.0,272.6 L490.2,272.0 L490.4,271.3 L490.6,271.6 L490.7,271.3 L490.9,270.6 L491.1,269.6 L491.3,268.3 L491.4,267.4 L491.6,267.2 L491.8,267.1 L492.0,266.9 L492.1,266.6 L492.3,267.4 L492.5,267.5 L492.7,266.9 L492.9,266.7 L493.0,266.4 L493.2,266.0 L493.4,264.7 L493.6,264.6 L493.7,264.9 L493.9,265.9 L494.1,267.2 L494.3,267.3 L494.4,267.2 L494.6,267.7 L494.8,267.4 L495.0,265.0 L495.2,264.3 L495.3,263.7 L495.5,262.4 L495.7,261.3 L495.9,260.9 L496.0,262.5 L496.2,262.1 L496.4,261.0 L496.6,260.0 L496.7,259.3 L496.9,257.4 L497.1,254.8 L497.3,253.6 L497.5,254.4 L497.6,255.6 L497.8,255.3 L498.0,251.9 L498.2,249.7 L498.3,247.2 L498.5,240.9 L498.7,238.0 L498.9,236.4 L499.0,237.5 L499.2,228.8 L499.4,225.3 L499.6,221.8 L499.8,218.2 L499.9,214.7 L500.1,212.7 L500.3,213.8 L500.5,214.8 L500.6,215.9 L500.8,217.0 L501.0,218.0 L501.2,219.1 L501.3,222.0 L501.5,229.8 L501.7,230.7 L501.9,227.8 L502.1,226.3 L502.2,226.6 L502.4,226.4 L502.6,233.8 L502.8,236.3 L502.9,232.2 L503.1,232.6 L503.3,227.8 L503.5,229.2 L503.7,230.6 L503.8,233.3 L504.0,232.7 L504.2,228.8 L504.4,227.2 L504.5,217.1 L504.7,209.0 L504.9,204.0 L505.1,197.5 L505.2,199.6 L505.4,213.8 L505.6,204.2 L505.8,202.6 L506.0,199.4 L506.1,192.9 L506.3,185.3 L506.5,183.3 L506.7,181.5 L506.8,179.7 L507.0,178.0 L507.2,176.2 L507.4,174.4 L507.5,172.6 L507.7,174.3 L507.9,176.5 L508.1,184.2 L508.3,186.1 L508.4,181.4 L508.6,184.3 L508.8,183.5 L509.0,183.8 L509.1,186.4 L509.3,191.2 L509.5,188.2 L509.7,187.1 L509.8,184.8 L510.0,180.7 L510.2,174.2 L510.4,172.6 L510.6,170.4 L510.7,169.0 L510.9,167.6 L511.1,166.2 L511.3,164.8 L511.4,165.0 L511.6,166.2 L511.8,172.6 L512.0,170.6 L512.1,167.1 L512.3,169.9 L512.5,170.0 L512.7,169.0 L512.9,172.7 L513.0,178.7 L513.2,170.9 L513.4,171.9 L513.6,172.4 L513.7,172.5 L513.9,170.2 L514.1,169.8 L514.3,166.2 L514.4,169.4 L514.6,168.7 L514.8,169.0 L515.0,176.5 L515.2,176.7 L515.3,175.5 L515.5,172.0 L515.7,172.0 L515.9,166.2 L516.0,158.8 L516.2,158.1 L516.4,158.6 L516.6,157.2 L516.7,155.9 L516.9,154.6 L517.1,153.2 L517.3,153.1 L517.5,155.3 L517.6,157.5 L517.8,159.7 L518.0,163.1 L518.2,168.4 L518.3,174.2 L518.5,181.4 L518.7,183.8 L518.9,183.3 L519.0,185.0 L519.2,174.8 L519.4,174.6 L519.6,173.4 L519.8,173.0 L519.9,176.8 L520.1,171.7 L520.3,170.1 L520.5,167.7 L520.6,166.6 L520.8,166.7 L521.0,166.5 L521.2,166.3 L521.3,166.1 L521.5,166.3 L521.7,166.6 L521.9,166.8 L522.1,167.0 L522.2,167.2 L522.4,169.0 L522.6,174.3 L522.8,179.6 L522.9,184.8 L523.1,196.6 L523.3,195.6 L523.5,198.4 L523.6,206.5 L523.8,212.5 L524.0,214.4 L524.2,217.5 L524.4,220.4 L524.5,218.6 L524.7,215.0 L524.9,216.2 L525.1,218.7 L525.2,219.8 L525.4,224.4 L525.6,225.0 L525.8,226.3 L525.9,223.6 L526.1,220.0 L526.3,219.1 L526.5,220.6 L526.7,222.2 L526.8,223.1 L527.0,226.8 L527.2,224.4 L527.4,215.8 L527.5,214.5 L527.7,213.2 L527.9,211.9 L528.1,212.0 L528.2,214.0 L528.4,216.0 L528.6,219.0 L528.8,225.0 L529.0,224.9 L529.1,223.3 L529.3,221.7 L529.5,223.9 L529.7,226.8 L529.8,227.8 L530.0,233.6 L530.2,235.1 L530.4,232.3 L530.5,230.6 L530.7,226.1 L530.9,224.2 L531.1,224.2 L531.3,225.7 L531.4,225.3 L531.6,226.9 L531.8,228.8 L532.0,228.3 L532.1,227.3 L532.3,227.6 L532.5,229.8 L532.7,236.6 L532.8,235.4 L533.0,235.8 L533.2,232.0 L533.4,230.5 L533.6,232.0 L533.7,237.3 L533.9,237.6 L534.1,238.4 L534.3,234.6 L534.4,232.8 L534.6,235.3 L534.8,235.6 L535.0,235.7 L535.2,234.8 L535.3,228.7 L535.5,223.4 L535.7,222.9 L535.9,219.5 L536.0,224.4 L536.2,225.4 L536.4,221.9 L536.6,216.8 L536.7,212.4 L536.9,209.1 L537.1,207.3 L537.3,203.3 L537.5,200.5 L537.6,197.7 L537.8,197.4 L538.0,197.4 L538.2,198.1 L538.3,201.3 L538.5,202.1 L538.7,201.4 L538.9,195.2 L539.0,191.5 L539.2,191.3 L539.4,193.7 L539.6,192.1 L539.8,192.1 L539.9,190.9 L540.1,189.1 L540.3,187.2 L540.5,189.6 L540.6,194.5 L540.8,195.3 L541.0,197.4 L541.2,192.1 L541.3,187.4 L541.5,189.3 L541.7,188.6 L541.9,193.5 L542.1,192.5 L542.2,186.1 L542.4,183.0 L542.6,182.2 L542.8,181.3 L542.9,180.8 L543.1,182.5 L543.3,184.1 L543.5,190.7 L543.6,191.4 L543.8,190.1 L544.0,190.6 L544.2,191.0 L544.4,198.2 L544.5,201.5 L544.7,202.3 L544.9,193.0 L545.1,190.5 L545.2,193.8 L545.4,203.4 L545.6,206.4 L545.8,202.8 L545.9,199.7 L546.1,195.5 L546.3,195.4 L546.5,197.4 L546.7,202.4 L546.8,202.2 L547.0,198.0 L547.2,196.0 L547.4,188.3 L547.5,183.5 L547.7,179.1 L547.9,183.2 L548.1,186.4 L548.2,185.9 L548.4,180.9 L548.6,176.4 L548.8,171.7 L549.0,167.7 L549.1,173.2 L549.3,171.7 L549.5,161.8 L549.7,157.5 L549.8,154.9 L550.0,152.9 L550.2,151.5 L550.4,150.1 L550.5,148.7 L550.7,147.3 L550.9,147.8 L551.1,149.7 L551.3,151.6 L551.4,157.9 L551.6,163.8 L551.8,168.6 L552.0,165.2 L552.1,157.9 L552.3,159.2 L552.5,160.1 L552.7,164.2 L552.8,172.6 L553.0,169.9 L553.2,160.3 L553.4,156.4 L553.6,154.4 L553.7,151.7 L553.9,152.2 L554.1,147.9 L554.3,146.5 L554.4,145.2 L554.6,144.5 L554.8,145.5 L555.0,146.5 L555.1,147.5 L555.3,148.5 L555.5,149.5 L555.7,151.3 L555.9,155.8 L556.0,163.3 L556.2,168.6 L556.4,171.8 L556.6,171.3 L556.7,162.4 L556.9,163.8 L557.1,164.7 L557.3,170.0 L557.4,177.3 L557.6,175.0 L557.8,168.1 L558.0,169.9 L558.2,167.6 L558.3,169.8 L558.5,168.9 L558.7,169.1 L558.9,169.6 L559.0,171.1 L559.2,174.2 L559.4,173.8 L559.6,182.2 L559.7,190.5 L559.9,189.4 L560.1,190.7 L560.3,185.8 L560.5,183.6 L560.6,184.2 L560.8,189.5 L561.0,197.2 L561.2,194.3 L561.3,196.2 L561.5,190.9 L561.7,185.7 L561.9,185.4 L562.0,185.6 L562.2,184.9 L562.4,184.3 L562.6,184.6 L562.8,185.6 L562.9,186.7 L563.1,187.2 L563.3,188.1 L563.5,191.1 L563.6,193.9 L563.8,195.8 L564.0,199.5 L564.2,203.6 L564.4,198.8 L564.5,197.1 L564.7,200.1 L564.9,204.6 L565.1,202.2 L565.2,207.9 L565.4,212.8 L565.6,213.2 L565.8,210.4 L565.9,206.8 L566.1,205.1 L566.3,207.0 L566.5,206.7 L566.7,210.9 L566.8,215.5 L567.0,218.7 L567.2,217.7 L567.4,213.7 L567.5,216.3 L567.7,215.4 L567.9,213.3 L568.1,214.9 L568.2,222.7 L568.4,225.6 L568.6,222.9 L568.8,224.0 L569.0,222.7 L569.1,216.8 L569.3,209.9 L569.5,211.0 L569.7,208.7 L569.8,206.1 L570.0,209.6 L570.2,206.4 L570.4,202.9 L570.5,201.4 L570.7,200.5 L570.9,200.6 L571.1,200.7 L571.3,200.8 L571.4,201.7 L571.6,202.4 L571.8,201.7 L572.0,204.1 L572.1,211.6 L572.3,213.4 L572.5,209.4 L572.7,209.6 L572.8,208.8 L573.0,208.4 L573.2,201.9 L573.4,200.2 L573.6,200.6 L573.7,201.4 L573.9,202.2 L574.1,202.0 L574.3,202.4 L574.4,202.7 L574.6,207.5 L574.8,209.9 L575.0,211.6 L575.1,213.1 L575.3,210.7 L575.5,208.6 L575.7,207.0 L575.9,208.8 L576.0,209.5 L576.2,210.0 L576.4,211.7 L576.6,214.3 L576.7,214.9 L576.9,214.4 L577.1,206.2 L577.3,202.7 L577.4,201.5 L577.6,200.9 L577.8,198.4 L578.0,196.6 L578.2,195.0 L578.3,194.5 L578.5,194.1 L578.7,193.8 L578.9,193.4 L579.0,193.0 L579.2,193.5 L579.4,194.1 L579.6,194.6 L579.7,195.2 L579.9,195.7 L580.1,196.5 L580.3,200.0 L580.5,205.2 L580.6,209.3 L580.8,203.3 L581.0,206.4 L581.2,208.0 L581.3,209.1 L581.5,213.2 L581.7,215.3 L581.9,213.6 L582.0,212.8 L582.2,207.3 L582.4,208.0 L582.6,207.8 L582.8,209.6 L582.9,216.7 L583.1,217.5 L583.3,218.2 L583.5,219.6 L583.6,214.8 L583.8,211.6 L584.0,213.6 L584.2,212.9 L584.3,213.5 L584.5,215.4 L584.7,213.6 L584.9,213.3 L585.1,213.6 L585.2,214.7 L585.4,215.8 L585.6,216.8 L585.8,217.9 L585.9,219.0 L586.1,220.0 L586.3,222.0 L586.5,227.2 L586.6,228.8 L586.8,231.2 L587.0,234.0 L587.2,239.1 L587.4,244.0 L587.5,242.6 L587.7,242.4 L587.9,240.5 L588.1,238.0 L588.2,236.6 L588.4,238.2 L588.6,240.2 L588.8,240.7 L588.9,241.0 L589.1,240.5 L589.3,237.4 L589.5,234.8 L589.7,234.1 L589.8,233.6 L590.0,233.7 L590.2,233.8 L590.4,233.8 L590.5,233.9 L590.7,234.0 L590.9,234.1 L591.1,234.2 L591.2,234.8 L591.4,235.4 L591.6,236.1 L591.8,236.7 L592.0,237.4 L592.1,241.2 L592.3,245.5 L592.5,252.4 L592.7,252.5 L592.8,255.7 L593.0,257.0 L593.2,256.4 L593.4,260.8 L593.5,261.9 L593.7,261.8 L593.9,263.5 L594.1,263.2 L594.3,260.7 L594.4,260.8 L594.6,260.1 L594.8,260.2 L595.0,261.5 L595.1,261.1 L595.3,263.0 L595.5,261.7 L595.7,260.9 L595.9,261.9 L596.0,261.0 L596.2,260.3 L596.4,259.7 L596.6,258.7 L596.7,260.1 L596.9,260.3 L597.1,259.9 L597.3,261.6 L597.4,262.0 L597.6,261.0 L597.8,260.7 L598.0,260.8 L598.2,257.2 L598.3,256.6 L598.5,256.1 L598.7,255.5 L598.9,255.0 L599.0,254.8 L599.2,254.3 L599.4,253.8 L599.6,254.1 L599.7,255.3 L599.9,256.5 L600.1,257.8 L600.3,255.1 L600.5,255.5 L600.6,254.9 L600.8,255.4 L601.0,255.1 L601.2,256.2 L601.3,257.3 L601.5,256.2 L601.7,255.1 L601.9,253.4 L602.0,252.3 L602.2,252.2 L602.4,252.2 L602.6,252.1 L602.8,252.0 L602.9,251.9 L603.1,251.8 L603.3,252.0 L603.5,252.8 L603.6,253.7 L603.8,255.1 L604.0,255.6 L604.2,257.8 L604.3,259.8 L604.5,260.2 L604.7,260.1 L604.9,260.6 L605.1,259.2 L605.2,258.1 L605.4,258.1 L605.6,258.8 L605.8,259.1 L605.9,260.3 L606.1,262.2 L606.3,263.3 L606.5,264.9 L606.6,265.5 L606.8,264.8 L607.0,264.1 L607.2,263.8 L607.4,263.3 L607.5,262.5 L607.7,263.1 L607.9,264.0 L608.1,265.6 L608.2,266.5 L608.4,267.1 L608.6,261.6 L608.8,259.5 L608.9,258.1 L609.1,256.8 L609.3,258.2 L609.5,259.6 L609.7,261.1 L609.8,263.2 L610.0,265.6 L610.2,268.1 L610.4,266.8 L610.5,266.6 L610.7,267.6 L610.9,265.5 L611.1,264.3 L611.2,263.9 L611.4,264.7 L611.6,264.2 L611.8,264.1 L612.0,264.9 L612.1,264.9 L612.3,264.0 L612.5,263.4 L612.7,262.9 L612.8,263.1 L613.0,262.7 L613.2,262.8 L613.4,264.2 L613.5,265.6 L613.7,265.6 L613.9,266.1 L614.1,266.4 L614.3,265.1 L614.4,263.9 L614.6,263.2 L614.8,264.3 L615.0,264.8 L615.1,265.5 L615.3,266.0 L615.5,266.3 L615.7,266.1 L615.8,263.7 L616.0,262.2 L616.2,262.2 L616.4,261.5 L616.6,261.0 L616.7,260.8 L616.9,260.6 L617.1,260.4 L617.3,260.3 L617.4,260.1 L617.6,259.9 L617.8,260.8 L618.0,261.9 L618.1,263.0 L618.3,264.6 L618.5,267.7 L618.7,269.1 L618.9,268.4 L619.0,267.1 L619.2,268.4 L619.4,268.8 L619.6,270.7 L619.7,273.1 L619.9,273.1 L620.1,273.3 L620.3,272.0 L620.4,271.3 L620.6,272.2 L620.8,273.9 L621.0,274.9 L621.2,274.2 L621.3,273.5 L621.5,272.7 L621.7,271.8 L621.9,271.0 L622.0,271.2 L622.2,272.3 L622.4,272.4 L622.6,271.8 L622.7,271.3 L622.9,270.0 L623.1,269.4 L623.3,269.3 L623.5,270.4 L623.6,270.7 L623.8,270.1 L624.0,269.8 L624.2,269.3 L624.3,269.0 L624.5,268.7 L624.7,269.5 L624.9,270.6 L625.1,271.4 L625.2,271.1 L625.4,269.8 L625.6,270.5 L625.8,270.6 L625.9,271.2 L626.1,272.0 L626.3,272.3 L626.5,273.0 L626.6,272.5 L626.8,271.3 L627.0,271.1 L627.2,271.4 L627.4,270.9 L627.5,271.8 L627.7,272.7 L627.9,273.2 L628.1,272.8 L628.2,272.7 L628.4,272.1 L628.6,271.6 L628.8,270.7 L628.9,271.0 L629.1,270.7 L629.3,270.0 L629.5,269.9 L629.7,269.4 L629.8,269.0 L630.0,267.2 L630.2,266.0 L630.4,263.6 L630.5,261.8 L630.7,260.5 L630.9,259.6 L631.1,259.0 L631.2,258.3 L631.4,257.7 L631.6,257.1 L631.8,256.5 L632.0,255.9 L632.1,255.4 L632.3,255.3 L632.5,255.7 L632.7,255.7 L632.8,255.7 L633.0,256.0 L633.2,254.9 L633.4,254.1 L633.5,253.9 L633.7,254.3 L633.9,254.8 L634.1,255.4 L634.3,256.1 L634.4,255.7 L634.6,254.8 L634.8,254.7 L635.0,254.9 L635.1,255.1 L635.3,255.8 L635.5,257.7 L635.7,257.5 L635.8,256.8 L636.0,255.0 L636.2,253.5 L636.4,252.8 L636.6,252.2 L636.7,252.3 L636.9,251.5 L637.1,251.1 L637.3,251.5 L637.4,252.1 L637.6,252.8 L637.8,252.9 L638.0,253.7 L638.1,255.9 L638.3,256.5 L638.5,257.0 L638.7,257.2 L638.9,255.6 L639.0,254.5 L639.2,254.2 L639.4,254.8 L639.6,255.6 L639.7,256.7 L639.9,257.1 L640.1,255.5 L640.3,252.4 L640.4,250.2 L640.6,248.5 L640.8,247.1 L641.0,246.1 L641.2,245.1 L641.3,244.6 L641.5,244.5 L641.7,244.7 L641.9,244.9 L642.0,244.3 L642.2,243.7 L642.4,242.9 L642.6,242.8 L642.7,242.1 L642.9,242.1 L643.1,242.2 L643.3,243.3 L643.5,243.8 L643.6,243.4 L643.8,243.5 L644.0,244.1 L644.2,242.2 L644.3,240.4 L644.5,240.8 L644.7,241.6 L644.9,242.3 L645.0,242.4 L645.2,242.8 L645.4,243.3 L645.6,241.6 L645.8,239.6 L645.9,237.7 L646.1,237.0 L646.3,236.8 L646.5,237.1 L646.6,237.4 L646.8,238.1 L647.0,239.5 L647.2,241.0 L647.3,240.8 L647.5,241.3 L647.7,242.0 L647.9,240.2 L648.1,238.6 L648.2,238.9 L648.4,240.0 L648.6,240.5 L648.8,241.1 L648.9,243.4 L649.1,243.3 L649.3,242.1 L649.5,240.8 L649.6,239.7 L649.8,238.3 L650.0,238.0 L650.2,238.5 L650.4,238.9 L650.5,239.3 L650.7,240.4 L650.9,241.3 L651.1,243.4 L651.2,244.3 L651.4,244.4 L651.6,245.3 L651.8,245.5 L651.9,244.3 L652.1,244.6 L652.3,244.2 L652.5,245.0 L652.7,245.7 L652.8,246.6 L653.0,246.7 L653.2,247.2 L653.4,245.3 L653.5,244.4 L653.7,244.2 L653.9,243.8 L654.1,244.9 L654.2,246.5 L654.4,247.1 L654.6,247.3 L654.8,245.7 L655.0,245.0 L655.1,244.2 L655.3,243.8 L655.5,243.8 L655.7,244.9 L655.8,246.9 L656.0,247.3 L656.2,248.3 L656.4,246.1 L656.6,245.8 L656.7,246.8 L656.9,246.6 L657.1,248.9 L657.3,250.5 L657.4,250.4 L657.6,248.7 L657.8,246.2 L658.0,245.4 L658.1,243.9 L658.3,243.3 L658.5,243.5 L658.7,239.6 L658.9,237.6 L659.0,236.2 L659.2,236.0 L659.4,235.9 L659.6,235.8 L659.7,235.6 L659.9,235.7 L660.1,236.3 L660.3,236.0 L660.4,235.6 L660.6,235.6 L660.8,236.3 L661.0,237.4 L661.2,238.0 L661.3,237.6 L661.5,235.8 L661.7,236.0 L661.9,235.5 L662.0,236.5 L662.2,239.4 L662.4,238.9 L662.6,239.4 L662.7,240.8 L662.9,238.0 L663.1,237.3 L663.3,238.2 L663.5,238.5 L663.6,239.0 L663.8,240.4 L664.0,241.1 L664.2,240.8 L664.3,238.9 L664.5,237.5 L664.7,238.1 L664.9,237.0 L665.0,237.8 L665.2,241.5 L665.4,241.0 L665.6,241.2 L665.8,241.5 L665.9,241.7 L666.1,239.7 L666.3,239.0 L666.5,239.1 L666.6,239.5 L666.8,239.5 L667.0,239.7 L667.2,240.2 L667.3,240.1 L667.5,239.5 L667.7,238.7 L667.9,238.6 L668.1,238.6 L668.2,239.0 L668.4,240.1 L668.6,241.6 L668.8,244.0 L668.9,246.6 L669.1,247.3 L669.3,246.3 L669.5,245.8 L669.6,246.2 L669.8,245.3 L670.0,245.1 L670.2,245.3 L670.4,247.3 L670.5,249.1 L670.7,249.0 L670.9,248.9 L671.1,249.5 L671.2,250.2 L671.4,249.1 L671.6,247.8 L671.8,247.6 L671.9,247.9 L672.1,247.6 L672.3,247.6 L672.5,248.9 L672.7,250.1 L672.8,250.0 L673.0,249.0 L673.2,248.0 L673.4,247.8 L673.5,247.7 L673.7,246.7 L673.9,247.4 L674.1,249.6 L674.2,249.8 L674.4,249.5 L674.6,248.0 L674.8,246.7 L675.0,246.1 L675.1,245.5 L675.3,244.9 L675.5,247.1 L675.7,248.1 L675.8,247.8 L676.0,245.7 L676.2,244.8 L676.4,245.5 L676.5,245.5 L676.7,245.8 L676.9,246.7 L677.1,247.8 L677.3,248.0 L677.4,246.8 L677.6,244.5 L677.8,243.7 L678.0,244.1 L678.1,245.0 L678.3,245.1 L678.5,244.6 L678.7,244.5 L678.8,242.6 L679.0,241.5 L679.2,240.0 L679.4,240.3 L679.6,240.4 L679.7,237.6 L679.9,233.0 L680.1,231.1 L680.3,230.4 L680.4,229.8 L680.6,229.1 L680.8,228.5 L681.0,227.8 L681.1,227.3 L681.3,226.8 L681.5,227.4 L681.7,229.3 L681.9,229.0 L682.0,228.6 L682.2,227.4 L682.4,225.9 L682.6,224.6 L682.7,227.0 L682.9,228.1 L683.1,226.6 L683.3,226.1 L683.4,224.2 L683.6,221.2 L683.8,220.9 L684.0,220.6 L684.2,219.7 L684.3,220.3 L684.5,220.2 L684.7,219.7 L684.9,218.8 L685.0,219.1 L685.2,219.8 L685.4,221.2 L685.6,222.3 L685.8,224.0 L685.9,224.8 L686.1,222.7 L686.3,219.3 L686.5,218.3 L686.6,218.2 L686.8,218.8 L687.0,218.8 L687.2,218.0 L687.3,215.3 L687.5,209.8 L687.7,207.3 L687.9,205.1 L688.1,202.9 L688.2,202.8 L688.4,203.5 L688.6,204.2 L688.8,205.1 L688.9,207.1 L689.1,209.9 L689.3,210.8 L689.5,211.9 L689.6,211.2 L689.8,207.9 L690.0,204.7 L690.2,205.1 L690.4,204.8 L690.5,204.6 L690.7,206.5 L690.9,207.5 L691.1,207.6 L691.2,204.2 L691.4,202.4 L691.6,203.8 L691.8,206.6 L691.9,208.5 L692.1,208.4 L692.3,205.5 L692.5,204.9 L692.7,203.8 L692.8,205.8 L693.0,207.0 L693.2,208.4 L693.4,205.3 L693.5,200.8 L693.7,199.9 L693.9,199.0 L694.1,198.2 L694.2,197.3 L694.4,196.4 L694.6,197.2 L694.8,199.0 L695.0,200.7 L695.1,203.9 L695.3,211.1 L695.5,211.2 L695.7,207.7 L695.8,207.9 L696.0,208.1 L696.2,213.4 L696.4,213.4 L696.5,215.1 L696.7,212.9 L696.9,211.3 L697.1,211.7 L697.3,212.4 L697.4,214.2 L697.6,213.9 L697.8,214.2 L698.0,211.5 L698.1,209.7 L698.3,206.6 L698.5,204.1 L698.7,205.3 L698.8,204.8 L699.0,208.9 L699.2,206.9 L699.4,205.3 L699.6,202.5 L699.7,198.2 L699.9,197.4 L700.1,196.4 L700.3,195.7 L700.4,188.0 L700.6,183.3 L700.8,182.2 L701.0,182.3 L701.1,182.6 L701.3,183.5 L701.5,181.2 L701.7,183.5 L701.9,182.3 L702.0,183.3 L702.2,181.3 L702.4,176.4 L702.6,168.3 L702.7,161.8 L702.9,156.6 L703.1,154.2 L703.3,151.2 L703.4,148.1 L703.6,145.1 L703.8,142.2 L704.0,140.9 L704.2,139.6 L704.3,138.3 L704.5,136.9 L704.7,135.6 L704.9,134.6 L705.0,134.1 L705.2,133.6 L705.4,133.1 L705.6,132.6 L705.7,132.6 L705.9,135.4 L706.1,137.9 L706.3,138.9 L706.5,137.8 L706.6,136.8 L706.8,136.6 L707.0,136.3 L707.2,135.0 L707.3,136.5 L707.5,143.1 L707.7,146.9 L707.9,144.8 L708.0,144.0 L708.2,144.9 L708.4,144.5 L708.6,143.7 L708.8,137.4 L708.9,137.5 L709.1,137.3 L709.3,138.6 L709.5,140.6 L709.6,141.7 L709.8,140.3 L710.0,137.8 L710.2,135.7 L710.3,135.2 L710.5,135.0 L710.7,135.1 L710.9,137.4 L711.1,138.7 L711.2,139.1 L711.4,141.5 L711.6,143.7 L711.8,146.9 L711.9,150.8 L712.1,151.2 L712.3,153.0 L712.5,153.5 L712.6,155.2 L712.8,154.5 L713.0,153.5 L713.2,152.3 L713.4,150.5 L713.5,148.1 L713.7,149.9 L713.9,150.5 L714.1,154.6 L714.2,154.8 L714.4,159.2 L714.6,159.3 L714.8,158.9 L714.9,162.0 L715.1,162.7 L715.3,162.4 L715.5,161.1 L715.7,161.7 L715.8,161.0 L716.0,156.7 L716.2,156.4 L716.4,149.4 L716.5,146.9 L716.7,144.2 L716.9,142.9 L717.1,143.6 L717.3,142.7 L717.4,142.3 L717.6,140.8 L717.8,141.2 L718.0,141.5 L718.1,141.9 L718.3,141.1 L718.5,141.7 L718.7,142.0 L718.8,139.0 L719.0,139.5 L719.2,140.0 L719.4,140.4 L719.6,140.1 L719.7,138.8 L719.9,142.2 L720.1,145.1 L720.3,147.2 L720.4,147.9 L720.6,147.7 L720.8,145.1 L721.0,143.0 L721.1,140.2 L721.3,139.5 L721.5,140.3 L721.7,140.8 L721.9,140.9 L722.0,141.8 L722.2,142.0 L722.4,143.3 L722.6,146.1 L722.7,148.7 L722.9,151.7 L723.1,153.9 L723.3,155.4 L723.4,156.7 L723.6,156.3 L723.8,154.7 L724.0,155.8 L724.2,156.7 L724.3,158.3 L724.5,160.6 L724.7,161.3 L724.9,159.8 L725.0,163.9 L725.2,165.3 L725.4,166.4 L725.6,167.0 L725.7,169.0 L725.9,169.5 L726.1,169.8 L726.3,166.1 L726.5,162.1 L726.6,159.1 L726.8,158.2 L727.0,156.4 L727.2,158.6 L727.3,163.0 L727.5,162.7 L727.7,157.1 L727.9,151.9 L728.0,146.9 L728.2,144.9 L728.4,144.5 L728.6,144.2 L728.8,143.8 L728.9,143.4 L729.1,143.2 L729.3,142.8 L729.5,142.4 L729.6,142.4 L729.8,142.4 L730.0,142.4 L730.2,142.4 L730.3,142.4 L730.5,144.1 L730.7,145.8 L730.9,147.9 L731.1,151.8 L731.2,157.2 L731.4,163.3 L731.6,169.2 L731.8,171.6 L731.9,177.0 L732.1,175.2 L732.3,170.1 L732.5,161.0 L732.6,162.9 L732.8,162.3 L733.0,163.4 L733.2,163.8 L733.4,166.0 L733.5,164.8 L733.7,163.3 L733.9,156.0 L734.1,152.8 L734.2,152.2 L734.4,152.0 L734.6,151.8 L734.8,151.6 L734.9,151.3 L735.1,151.2 L735.3,153.0 L735.5,156.0 L735.7,161.7 L735.8,163.5 L736.0,162.4 L736.2,163.3 L736.4,163.2 L736.5,166.6 L736.7,172.0 L736.9,175.3 L737.1,177.1 L737.2,177.1 L737.4,173.5 L737.6,170.8 L737.8,164.6 L738.0,162.6 L738.1,161.9 L738.3,159.3 L738.5,157.2 L738.7,161.1 L738.8,158.1 L739.0,164.2 L739.2,166.7 L739.4,162.7 L739.5,158.0 L739.7,153.0 L739.9,149.0 L740.1,147.7 L740.3,147.4 L740.4,147.4 L740.6,147.4 L740.8,147.2 L741.0,146.9 L741.1,148.3 L741.3,151.9 L741.5,158.4 L741.7,158.0 L741.8,158.0 L742.0,160.0 L742.2,159.4 L742.4,159.4 L742.6,156.0 L742.7,151.4 L742.9,149.5 L743.1,149.5 L743.3,150.7 L743.4,151.7 L743.6,148.6 L743.8,147.6 L744.0,148.5 L744.1,150.1 L744.3,150.5 L744.5,149.8 L744.7,149.2 L744.9,147.7 L745.0,143.2 L745.2,142.7 L745.4,140.3 L745.6,138.9 L745.7,136.5 L745.9,134.5 L746.1,134.3 L746.3,132.2 L746.5,137.9 L746.6,139.6 L746.8,139.7 L747.0,139.6 L747.2,140.6 L747.3,139.7 L747.5,141.8 L747.7,138.3 L747.9,130.9 L748.0,124.4 L748.2,120.4 L748.4,117.7 L748.6,117.1 L748.8,114.1 L748.9,113.7 L749.1,110.2 L749.3,104.9 L749.5,91.5 L749.6,81.9 L749.8,75.7 L750.0,69.6 L750.2,67.4 L750.3,66.6 L750.5,65.8 L750.7,65.0 L750.9,64.2 L751.1,66.3 L751.2,69.0 L751.4,70.6 L751.6,64.3 L751.8,61.5 L751.9,58.5 L752.1,55.6 L752.3,56.5 L752.5,55.5 L752.6,58.3 L752.8,63.5 L753.0,69.4 L753.2,70.4 L753.4,63.8 L753.5,58.1 L753.7,59.8 L753.9,62.9 L754.1,68.4 L754.2,65.1 L754.4,60.6 L754.6,53.8 L754.8,49.8 L754.9,48.6 L755.1,48.9 L755.3,51.0 L755.5,53.5 L755.7,56.5 L755.8,68.5 L756.0,73.5 L756.2,73.3 L756.4,74.2 L756.5,71.2 L756.7,72.0 L756.9,68.3 L757.1,63.7 L757.2,61.8 L757.4,61.6 L757.6,65.9 L757.8,74.6 L758.0,79.2 L758.1,76.6 L758.3,76.3 L758.5,76.2 L758.7,74.6 L758.8,65.3 L759.0,66.1 L759.2,63.8 L759.4,66.8 L759.5,77.4 L759.7,78.7 L759.9,77.5 L760.1,62.5 L760.3,48.1 L760.4,44.3 L760.6,41.1 L760.8,40.4 L761.0,41.3 L761.1,42.2 L761.3,43.0 L761.5,49.4 L761.7,56.0 L761.8,58.3 L762.0,50.8 L762.2,44.0 L762.4,44.7 L762.6,47.2 L762.7,53.8 L762.9,56.0 L763.1,57.3 L763.3,57.9 L763.4,57.2 L763.6,55.9 L763.8,56.5 L764.0,58.2 L764.1,60.8 L764.3,58.4 L764.5,61.6 L764.7,74.7 L764.9,81.4 L765.0,84.5 L765.2,80.1 L765.4,70.9 L765.6,66.3 L765.7,65.7 L765.9,66.6 L766.1,64.4 L766.3,64.3 L766.4,66.0 L766.6,68.3 L766.8,71.1 L767.0,72.5 L767.2,75.4 L767.3,77.9 L767.5,82.4 L767.7,91.2 L767.9,94.1 L768.0,97.9 L768.2,98.3 L768.4,99.4 L768.6,99.6 L768.7,101.2 L768.9,98.5 L769.1,98.8 L769.3,98.4 L769.5,98.6 L769.6,98.0 L769.8,101.7 L770.0,110.0 L770.2,114.5 L770.3,117.0 L770.5,114.7 L770.7,114.4 L770.9,107.7 L771.0,104.4 L771.2,107.2 L771.4,103.2 L771.6,100.3 L771.8,97.4 L771.9,95.1 L772.1,94.4 L772.3,93.8 L772.5,92.9 L772.6,92.8 L772.8,94.2 L773.0,98.5 L773.2,104.7 L773.3,111.1 L773.5,110.8 L773.7,107.8 L773.9,108.4 L774.1,105.8 L774.2,105.2 L774.4,105.6 L774.6,103.5 L774.8,103.2 L774.9,103.7 L775.1,107.6 L775.3,110.9 L775.5,113.8 L775.6,111.9 L775.8,112.0 L776.0,111.3 L776.2,114.1 L776.4,111.4 L776.5,106.8 L776.7,98.4 L776.9,93.0 L777.1,90.8 L777.2,88.7 L777.4,87.1 L777.6,82.7 L777.8,84.1 L778.0,90.7 L778.1,92.0 L778.3,89.6 L778.5,86.3 L778.7,82.7 L778.8,80.3 L779.0,76.8 L779.2,70.8 L779.4,67.7 L779.5,67.3 L779.7,62.8 L779.9,63.7 L780.1,64.5 L780.3,64.0 L780.4,64.3 L780.6,66.4 L780.8,63.4 L781.0,62.9 L781.1,62.2 L781.3,62.9 L781.5,56.0 L781.7,48.7 L781.8,42.5 L782.0,37.4 L782.2,34.9 L782.4,33.0 L782.6,33.3 L782.7,33.5 L782.9,33.8 L783.1,34.1 L783.3,35.4 L783.4,39.0 L783.6,41.6 L783.8,46.7 L784.0,49.7 L784.1,54.1 L784.3,56.7 L784.5,56.4 L784.7,50.4 L784.9,48.5 L785.0,44.4 L785.2,43.8 L785.4,42.6 L785.6,47.6 L785.7,54.6 L785.9,56.9 L786.1,54.0 L786.3,52.6 L786.4,46.2 L786.6,39.6 L786.8,39.2 L787.0,39.6 L787.2,46.9 L787.3,58.5 L787.5,61.4 L787.7,59.1 L787.9,61.5 L788.0,51.4 L788.2,44.9 L788.4,44.3 L788.6,45.6 L788.7,46.0 L788.9,52.5 L789.1,54.2 L789.3,56.3 L789.5,56.0 L789.6,53.9 L789.8,51.4 L790.0,46.7 L790.2,39.8 L790.3,31.7 L790.5,23.9 L790.7,24.1 L790.9,22.1 L791.0,17.9 L791.2,15.0 L791.4,14.8" stroke="#3d9970"/>
<path d="M224.9,312.5 L225.1,312.6 L225.3,312.6 L225.5,312.6 L225.6,312.6 L225.8,312.6 L226.0,312.6 L226.2,312.6 L226.3,312.6 L226.5,312.5 L226.7,312.5 L226.9,312.5 L227.0,312.5 L227.2,312.6 L227.4,312.6 L227.6,312.6 L227.8,312.6 L227.9,312.6 L228.1,312.6 L228.3,312.6 L228.5,312.6 L228.6,312.5 L228.8,312.5 L229.0,312.5 L229.2,312.6 L229.3,312.6 L229.5,312.6 L229.7,312.6 L229.9,312.6 L230.1,312.6 L230.2,312.6 L230.4,312.5 L230.6,312.6 L230.8,312.5 L230.9,312.5 L231.1,312.6 L231.3,312.5 L231.5,312.6 L231.7,312.6 L231.8,312.6 L232.0,312.6 L232.2,312.6 L232.4,312.5 L232.5,312.5 L232.7,312.5 L232.9,312.5 L233.1,312.6 L233.2,312.6 L233.4,312.6 L233.6,312.6 L233.8,312.6 L234.0,312.5 L234.1,312.5 L234.3,312.6 L234.5,312.6 L234.7,312.6 L234.8,312.6 L235.0,312.5 L235.2,312.5 L235.4,312.6 L235.5,312.6 L235.7,312.6 L235.9,312.6 L236.1,312.6 L236.3,312.5 L236.4,312.5 L236.6,312.5 L236.8,312.5 L237.0,312.6 L237.1,312.6 L237.3,312.6 L237.5,312.6 L237.7,312.6 L237.8,312.5 L238.0,312.5 L238.2,312.5 L238.4,312.5 L238.6,312.4 L238.7,312.4 L238.9,312.4 L239.1,312.3 L239.3,312.3 L239.4,312.3 L239.6,312.2 L239.8,312.2 L240.0,312.2 L240.1,312.1 L240.3,312.1 L240.5,312.0 L240.7,312.0 L240.9,312.0 L241.0,312.0 L241.2,311.9 L241.4,311.9 L241.6,311.9 L241.7,311.8 L241.9,311.7 L242.1,311.7 L242.3,311.7 L242.4,311.7 L242.6,311.6 L242.8,311.6 L243.0,311.6 L243.2,311.6 L243.3,311.4 L243.5,311.4 L243.7,311.3 L243.9,311.3 L244.0,311.2 L244.2,311.3 L244.4,311.3 L244.6,311.3 L244.7,311.2 L244.9,311.2 L245.1,311.0 L245.3,311.0 L245.5,311.0 L245.6,311.0 L245.8,310.9 L246.0,311.0 L246.2,311.0 L246.3,311.0 L246.5,310.9 L246.7,310.8 L246.9,310.8 L247.0,310.8 L247.2,310.7 L247.4,310.7 L247.6,310.8 L247.8,310.8 L247.9,310.8 L248.1,310.8 L248.3,310.8 L248.5,310.8 L248.6,310.7 L248.8,310.6 L249.0,310.6 L249.2,310.6 L249.3,310.6 L249.5,310.7 L249.7,310.7 L249.9,310.7 L250.1,310.7 L250.2,310.6 L250.4,310.6 L250.6,310.5 L250.8,310.5 L250.9,310.5 L251.1,310.6 L251.3,310.6 L251.5,310.6 L251.6,310.4 L251.8,310.4 L252.0,310.4 L252.2,310.4 L252.4,310.4 L252.5,310.5 L252.7,310.4 L252.9,310.4 L253.1,310.4 L253.2,310.3 L253.4,310.3 L253.6,310.3 L253.8,310.3 L253.9,310.4 L254.1,310.4 L254.3,310.3 L254.5,310.2 L254.7,310.2 L254.8,310.1 L255.0,310.2 L255.2,310.2 L255.4,310.2 L255.5,310.1 L255.7,310.0 L255.9,310.0 L256.1,310.0 L256.2,310.1 L256.4,310.0 L256.6,309.9 L256.8,309.9 L257.0,309.8 L257.1,309.9 L257.3,309.9 L257.5,309.9 L257.7,309.8 L257.8,309.7 L258.0,309.7 L258.2,309.6 L258.4,309.8 L258.5,309.8 L258.7,309.7 L258.9,309.6 L259.1,309.6 L259.3,309.5 L259.4,309.6 L259.6,309.6 L259.8,309.7 L260.0,309.6 L260.1,309.4 L260.3,309.3 L260.5,309.3 L260.7,309.2 L260.9,309.3 L261.0,309.3 L261.2,309.2 L261.4,309.1 L261.6,309.0 L261.7,308.8 L261.9,308.8 L262.1,308.7 L262.3,308.7 L262.4,308.7 L262.6,308.8 L262.8,308.7 L263.0,308.7 L263.2,308.5 L263.3,308.5 L263.5,308.4 L263.7,308.3 L263.9,308.3 L264.0,308.2 L264.2,308.4 L264.4,308.2 L264.6,308.2 L264.7,308.0 L264.9,307.9 L265.1,307.7 L265.3,307.7 L265.5,307.7 L265.6,307.7 L265.8,307.7 L266.0,307.4 L266.2,307.3 L266.3,307.2 L266.5,307.2 L266.7,307.4 L266.9,307.2 L267.0,307.1 L267.2,306.8 L267.4,306.8 L267.6,306.8 L267.8,306.8 L267.9,306.7 L268.1,306.5 L268.3,306.5 L268.5,306.5 L268.6,306.7 L268.8,306.8 L269.0,306.9 L269.2,306.9 L269.3,306.8 L269.5,306.8 L269.7,306.8 L269.9,306.9 L270.1,307.1 L270.2,307.1 L270.4,307.2 L270.6,307.1 L270.8,307.0 L270.9,307.0 L271.1,307.0 L271.3,307.2 L271.5,307.3 L271.6,307.4 L271.8,307.3 L272.0,307.2 L272.2,307.2 L272.4,307.1 L272.5,307.2 L272.7,307.2 L272.9,307.5 L273.1,307.5 L273.2,307.5 L273.4,307.4 L273.6,307.1 L273.8,307.3 L273.9,307.3 L274.1,307.5 L274.3,307.6 L274.5,307.3 L274.7,307.1 L274.8,307.1 L275.0,307.3 L275.2,307.4 L275.4,307.3 L275.5,307.1 L275.7,306.9 L275.9,306.8 L276.1,306.9 L276.2,306.9 L276.4,306.9 L276.6,306.5 L276.8,306.3 L277.0,306.0 L277.1,306.1 L277.3,306.3 L277.5,306.1 L277.7,306.1 L277.8,305.9 L278.0,305.6 L278.2,305.4 L278.4,305.5 L278.5,305.5 L278.7,305.6 L278.9,305.4 L279.1,305.2 L279.3,304.6 L279.4,304.4 L279.6,304.4 L279.8,304.3 L280.0,304.1 L280.1,304.1 L280.3,304.1 L280.5,304.1 L280.7,304.0 L280.8,303.8 L281.0,303.7 L281.2,303.8 L281.4,303.7 L281.6,303.8 L281.7,304.0 L281.9,303.9 L282.1,303.9 L282.3,303.8 L282.4,303.6 L282.6,303.5 L282.8,303.3 L283.0,303.3 L283.1,303.2 L283.3,303.3 L283.5,303.4 L283.7,303.7 L283.9,303.8 L284.0,304.0 L284.2,304.1 L284.4,304.1 L284.6,304.2 L284.7,304.0 L284.9,304.0 L285.1,304.2 L285.3,304.4 L285.4,304.7 L285.6,304.9 L285.8,305.1 L286.0,305.1 L286.2,305.1 L286.3,305.1 L286.5,305.0 L286.7,304.7 L286.9,304.8 L287.0,304.8 L287.2,304.7 L287.4,304.9 L287.6,304.9 L287.7,304.8 L287.9,304.6 L288.1,304.5 L288.3,304.2 L288.5,304.0 L288.6,303.8 L288.8,303.9 L289.0,303.8 L289.2,303.8 L289.3,303.7 L289.5,303.5 L289.7,302.8 L289.9,302.4 L290.0,302.2 L290.2,302.2 L290.4,302.3 L290.6,302.2 L290.8,301.9 L290.9,302.0 L291.1,301.7 L291.3,301.1 L291.5,300.9 L291.6,300.9 L291.8,300.9 L292.0,300.7 L292.2,300.9 L292.4,301.0 L292.5,300.7 L292.7,300.2 L292.9,299.7 L293.1,299.6 L293.2,299.5 L293.4,299.3 L293.6,299.2 L293.8,299.3 L293.9,299.7 L294.1,299.4 L294.3,299.4 L294.5,299.0 L294.7,298.6 L294.8,298.2 L295.0,298.2 L295.2,298.2 L295.4,298.4 L295.5,298.3 L295.7,298.1 L295.9,298.2 L296.1,297.8 L296.2,297.5 L296.4,297.0 L296.6,296.6 L296.8,296.2 L297.0,296.2 L297.1,296.1 L297.3,296.1 L297.5,296.4 L297.7,296.4 L297.8,296.3 L298.0,295.8 L298.2,295.8 L298.4,294.7 L298.5,293.4 L298.7,293.0 L298.9,291.9 L299.1,291.4 L299.3,291.3 L299.4,290.8 L299.6,290.3 L299.8,288.7 L300.0,287.9 L300.1,286.2 L300.3,284.4 L300.5,282.6 L300.7,281.3 L300.8,280.1 L301.0,279.4 L301.2,278.6 L301.4,277.8 L301.6,277.0 L301.7,276.2 L301.9,275.5 L302.1,274.9 L302.3,275.9 L302.4,276.8 L302.6,277.7 L302.8,278.8 L303.0,280.9 L303.1,281.8 L303.3,283.2 L303.5,282.4 L303.7,281.4 L303.9,281.9 L304.0,282.0 L304.2,282.0 L304.4,282.9 L304.6,284.4 L304.7,283.4 L304.9,283.0 L305.1,281.9 L305.3,279.7 L305.4,279.1 L305.6,278.4 L305.8,277.8 L306.0,278.3 L306.2,278.9 L306.3,279.6 L306.5,280.2 L306.7,280.8 L306.9,281.7 L307.0,282.6 L307.2,283.2 L307.4,284.1 L307.6,283.6 L307.7,284.0 L307.9,285.6 L308.1,286.7 L308.3,287.2 L308.5,288.1 L308.6,289.1 L308.8,289.1 L309.0,288.6 L309.2,289.3 L309.3,289.4 L309.5,289.8 L309.7,290.6 L309.9,291.9 L310.0,292.1 L310.2,292.6 L310.4,293.4 L310.6,293.3 L310.8,293.4 L310.9,292.8 L311.1,294.0 L311.3,294.4 L311.5,294.6 L311.6,294.5 L311.8,294.7 L312.0,294.8 L312.2,293.9 L312.3,293.2 L312.5,291.8 L312.7,290.7 L312.9,290.6 L313.1,290.5 L313.2,290.4 L313.4,290.3 L313.6,290.2 L313.8,290.4 L313.9,291.1 L314.1,291.1 L314.3,290.9 L314.5,290.9 L314.6,290.7 L314.8,290.1 L315.0,289.5 L315.2,289.4 L315.4,289.3 L315.5,289.2 L315.7,289.2 L315.9,289.2 L316.1,289.7 L316.2,290.2 L316.4,290.6 L316.6,291.2 L316.8,291.9 L316.9,292.5 L317.1,293.0 L317.3,293.5 L317.5,294.2 L317.7,295.2 L317.8,295.5 L318.0,295.3 L318.2,294.7 L318.4,294.8 L318.5,294.9 L318.7,295.0 L318.9,295.2 L319.1,296.2 L319.2,296.6 L319.4,296.9 L319.6,296.2 L319.8,296.2 L320.0,296.3 L320.1,296.5 L320.3,296.3 L320.5,297.0 L320.7,297.8 L320.8,297.8 L321.0,297.7 L321.2,297.6 L321.4,297.3 L321.6,297.2 L321.7,296.8 L321.9,296.7 L322.1,296.9 L322.3,296.9 L322.4,296.9 L322.6,297.4 L322.8,297.3 L323.0,297.0 L323.1,296.7 L323.3,296.5 L323.5,296.2 L323.7,295.6 L323.9,295.2 L324.0,295.3 L324.2,295.3 L324.4,295.2 L324.6,295.2 L324.7,295.3 L324.9,294.8 L325.1,294.3 L325.3,293.7 L325.4,293.4 L325.6,293.2 L325.8,293.0 L326.0,292.8 L326.2,292.6 L326.3,292.6 L326.5,292.7 L326.7,292.9 L326.9,293.2 L327.0,293.5 L327.2,293.6 L327.4,293.6 L327.6,293.8 L327.7,294.4 L327.9,295.1 L328.1,295.3 L328.3,295.5 L328.5,295.7 L328.6,295.9 L328.8,295.2 L329.0,295.2 L329.2,295.1 L329.3,295.5 L329.5,295.7 L329.7,295.7 L329.9,296.1 L330.0,296.7 L330.2,296.8 L330.4,296.7 L330.6,296.8 L330.8,296.7 L330.9,296.5 L331.1,296.3 L331.3,296.4 L331.5,296.4 L331.6,296.5 L331.8,296.6 L332.0,296.8 L332.2,297.2 L332.3,297.8 L332.5,298.2 L332.7,298.5 L332.9,298.2 L333.1,298.2 L333.2,298.4 L333.4,298.4 L333.6,298.8 L333.8,299.6 L333.9,299.8 L334.1,299.7 L334.3,299.9 L334.5,299.8 L334.6,299.9 L334.8,299.5 L335.0,299.3 L335.2,299.6 L335.4,299.6 L335.5,299.6 L335.7,299.8 L335.9,300.2 L336.1,300.3 L336.2,300.2 L336.4,300.0 L336.6,300.0 L336.8,299.7 L336.9,299.3 L337.1,299.4 L337.3,299.6 L337.5,299.8 L337.7,299.8 L337.8,299.9 L338.0,300.1 L338.2,299.9 L338.4,299.5 L338.5,299.2 L338.7,299.1 L338.9,298.7 L339.1,298.4 L339.2,298.3 L339.4,298.6 L339.6,298.6 L339.8,298.4 L340.0,298.3 L340.1,297.7 L340.3,297.0 L340.5,296.6 L340.7,296.3 L340.8,296.0 L341.0,295.8 L341.2,295.5 L341.4,295.5 L341.5,295.8 L341.7,296.1 L341.9,296.3 L342.1,296.6 L342.3,296.9 L342.4,297.1 L342.6,297.4 L342.8,298.3 L343.0,298.7 L343.1,299.1 L343.3,299.5 L343.5,299.5 L343.7,299.4 L343.8,299.6 L344.0,299.3 L344.2,299.3 L344.4,299.6 L344.6,299.7 L344.7,299.7 L344.9,299.8 L345.1,299.3 L345.3,299.0 L345.4,298.7 L345.6,298.3 L345.8,298.2 L346.0,298.2 L346.1,298.2 L346.3,298.1 L346.5,297.9 L346.7,297.6 L346.9,297.4 L347.0,297.4 L347.2,297.6 L347.4,297.6 L347.6,297.8 L347.7,297.9 L347.9,298.1 L348.1,298.4 L348.3,298.9 L348.4,299.2 L348.6,299.2 L348.8,299.2 L349.0,299.4 L349.2,299.0 L349.3,298.9 L349.5,299.2 L349.7,299.0 L349.9,299.3 L350.0,299.5 L350.2,299.6 L350.4,299.5 L350.6,299.7 L350.7,299.4 L350.9,299.2 L351.1,299.0 L351.3,298.8 L351.5,298.9 L351.6,298.7 L351.8,299.4 L352.0,299.6 L352.2,299.6 L352.3,299.7 L352.5,299.6 L352.7,299.6 L352.9,299.4 L353.1,299.0 L353.2,299.2 L353.4,299.0 L353.6,299.2 L353.8,299.3 L353.9,299.6 L354.1,299.7 L354.3,299.7 L354.5,299.8 L354.6,299.8 L354.8,299.1 L355.0,299.0 L355.2,298.7 L355.4,298.8 L355.5,299.0 L355.7,298.9 L355.9,299.4 L356.1,299.5 L356.2,299.4 L356.4,299.5 L356.6,299.5 L356.8,298.8 L356.9,298.9 L357.1,299.0 L357.3,299.0 L357.5,299.8 L357.7,299.8 L357.8,299.7 L358.0,300.0 L358.2,299.7 L358.4,299.4 L358.5,299.2 L358.7,299.1 L358.9,299.2 L359.1,299.2 L359.2,299.3 L359.4,299.2 L359.6,299.1 L359.8,299.0 L360.0,299.0 L360.1,299.1 L360.3,299.3 L360.5,299.6 L360.7,299.9 L360.8,300.2 L361.0,300.4 L361.2,300.7 L361.4,301.5 L361.5,302.0 L361.7,302.1 L361.9,302.4 L362.1,302.7 L362.3,302.4 L362.4,302.4 L362.6,302.8 L362.8,302.9 L363.0,303.2 L363.1,303.4 L363.3,303.9 L363.5,304.1 L363.7,304.1 L363.8,304.3 L364.0,304.3 L364.2,304.2 L364.4,304.3 L364.6,304.5 L364.7,304.7 L364.9,304.8 L365.1,305.0 L365.3,305.1 L365.4,305.0 L365.6,305.1 L365.8,304.8 L366.0,304.9 L366.1,305.1 L366.3,305.1 L366.5,305.1 L366.7,305.4 L366.9,305.5 L367.0,305.4 L367.2,305.3 L367.4,305.1 L367.6,304.8 L367.7,304.8 L367.9,304.8 L368.1,304.8 L368.3,305.1 L368.4,305.0 L368.6,305.0 L368.8,305.0 L369.0,304.9 L369.2,304.7 L369.3,304.6 L369.5,304.6 L369.7,304.7 L369.9,304.6 L370.0,304.8 L370.2,304.8 L370.4,304.9 L370.6,305.0 L370.7,304.9 L370.9,304.9 L371.1,304.8 L371.3,304.6 L371.5,304.8 L371.6,304.7 L371.8,304.8 L372.0,305.2 L372.2,305.3 L372.3,305.4 L372.5,305.2 L372.7,305.1 L372.9,305.0 L373.0,305.0 L373.2,305.1 L373.4,305.2 L373.6,305.5 L373.8,305.6 L373.9,305.6 L374.1,305.6 L374.3,305.3 L374.5,305.2 L374.6,305.0 L374.8,305.0 L375.0,304.9 L375.2,305.1 L375.3,305.2 L375.5,305.1 L375.7,305.1 L375.9,304.8 L376.1,304.7 L376.2,304.4 L376.4,304.6 L376.6,304.4 L376.8,304.5 L376.9,304.8 L377.1,304.6 L377.3,304.6 L377.5,304.5 L377.6,304.2 L377.8,304.2 L378.0,304.1 L378.2,304.1 L378.4,304.3 L378.5,304.4 L378.7,304.6 L378.9,304.5 L379.1,304.6 L379.2,304.2 L379.4,304.3 L379.6,304.4 L379.8,304.6 L379.9,304.9 L380.1,304.8 L380.3,304.6 L380.5,304.5 L380.7,304.4 L380.8,304.7 L381.0,304.8 L381.2,304.9 L381.4,304.7 L381.5,304.4 L381.7,304.3 L381.9,304.2 L382.1,304.6 L382.3,304.6 L382.4,304.6 L382.6,304.6 L382.8,304.5 L383.0,304.4 L383.1,304.1 L383.3,304.1 L383.5,304.3 L383.7,304.4 L383.8,304.5 L384.0,304.5 L384.2,304.5 L384.4,304.3 L384.6,304.0 L384.7,303.7 L384.9,303.4 L385.1,303.3 L385.3,303.3 L385.4,303.4 L385.6,303.0 L385.8,302.8 L386.0,302.4 L386.1,302.0 L386.3,301.9 L386.5,301.7 L386.7,301.8 L386.9,302.0 L387.0,302.0 L387.2,301.9 L387.4,301.7 L387.6,301.6 L387.7,301.8 L387.9,302.2 L388.1,302.1 L388.3,302.2 L388.4,301.7 L388.6,301.4 L388.8,301.4 L389.0,301.5 L389.2,301.5 L389.3,301.8 L389.5,302.0 L389.7,301.9 L389.9,301.6 L390.0,301.4 L390.2,301.1 L390.4,300.9 L390.6,301.0 L390.7,300.9 L390.9,301.0 L391.1,301.1 L391.3,300.7 L391.5,300.3 L391.6,300.0 L391.8,299.3 L392.0,299.1 L392.2,299.0 L392.3,298.9 L392.5,298.5 L392.7,298.1 L392.9,297.5 L393.0,296.5 L393.2,296.1 L393.4,295.8 L393.6,295.7 L393.8,295.6 L393.9,295.5 L394.1,295.4 L394.3,295.2 L394.5,294.9 L394.6,294.9 L394.8,294.8 L395.0,294.7 L395.2,294.3 L395.3,294.4 L395.5,294.5 L395.7,294.4 L395.9,294.5 L396.1,294.9 L396.2,295.5 L396.4,295.9 L396.6,295.8 L396.8,295.1 L396.9,295.1 L397.1,295.1 L397.3,295.0 L397.5,295.3 L397.6,295.1 L397.8,294.5 L398.0,293.6 L398.2,293.3 L398.4,293.6 L398.5,294.0 L398.7,294.0 L398.9,293.8 L399.1,293.0 L399.2,291.6 L399.4,290.9 L399.6,291.2 L399.8,290.4 L399.9,288.5 L400.1,287.7 L400.3,286.9 L400.5,286.1 L400.7,285.4 L400.8,284.7 L401.0,285.0 L401.2,285.4 L401.4,285.8 L401.5,286.2 L401.7,286.9 L401.9,287.9 L402.1,289.2 L402.2,289.0 L402.4,288.4 L402.6,287.7 L402.8,287.3 L403.0,287.0 L403.1,286.8 L403.3,286.8 L403.5,287.1 L403.7,287.5 L403.8,287.9 L404.0,288.3 L404.2,289.0 L404.4,289.7 L404.5,290.6 L404.7,291.5 L404.9,291.9 L405.1,291.8 L405.3,291.3 L405.4,291.1 L405.6,291.4 L405.8,291.4 L406.0,292.0 L406.1,292.4 L406.3,292.7 L406.5,293.0 L406.7,292.1 L406.8,291.9 L407.0,292.2 L407.2,292.0 L407.4,291.7 L407.6,291.6 L407.7,290.5 L407.9,288.9 L408.1,288.2 L408.3,287.5 L408.4,287.4 L408.6,287.6 L408.8,287.9 L409.0,288.2 L409.1,288.5 L409.3,289.1 L409.5,289.6 L409.7,289.4 L409.9,289.5 L410.0,290.0 L410.2,290.4 L410.4,291.0 L410.6,291.3 L410.7,291.6 L410.9,291.4 L411.1,290.7 L411.3,290.6 L411.4,290.9 L411.6,291.7 L411.8,291.9 L412.0,292.0 L412.2,292.4 L412.3,291.7 L412.5,291.1 L412.7,290.9 L412.9,290.8 L413.0,291.6 L413.2,291.6 L413.4,291.5 L413.6,290.9 L413.8,290.5 L413.9,290.2 L414.1,290.8 L414.3,290.6 L414.5,290.2 L414.6,290.1 L414.8,290.1 L415.0,290.0 L415.2,290.3 L415.3,290.7 L415.5,291.2 L415.7,291.8 L415.9,291.8 L416.1,292.0 L416.2,293.3 L416.4,293.7 L416.6,294.5 L416.8,294.5 L416.9,293.9 L417.1,294.3 L417.3,294.2 L417.5,295.1 L417.6,295.6 L417.8,295.2 L418.0,294.8 L418.2,294.5 L418.4,294.3 L418.5,294.6 L418.7,295.4 L418.9,295.2 L419.1,295.5 L419.2,295.5 L419.4,294.5 L419.6,294.4 L419.8,294.5 L419.9,294.5 L420.1,295.0 L420.3,295.5 L420.5,295.2 L420.7,295.1 L420.8,295.3 L421.0,294.3 L421.2,293.5 L421.4,293.4 L421.5,293.7 L421.7,293.7 L421.9,293.4 L422.1,293.2 L422.2,292.7 L422.4,292.4 L422.6,292.4 L422.8,292.6 L423.0,293.0 L423.1,293.2 L423.3,293.4 L423.5,293.3 L423.7,292.6 L423.8,292.8 L424.0,293.0 L424.2,293.2 L424.4,293.5 L424.5,293.0 L424.7,292.9 L424.9,292.9 L425.1,293.0 L425.3,293.7 L425.4,294.0 L425.6,294.2 L425.8,294.2 L426.0,293.9 L426.1,294.1 L426.3,295.2 L426.5,295.5 L426.7,295.4 L426.8,295.4 L427.0,295.0 L427.2,295.1 L427.4,296.1 L427.6,296.6 L427.7,296.3 L427.9,296.1 L428.1,296.0 L428.3,296.0 L428.4,296.0 L428.6,297.0 L428.8,297.0 L429.0,296.9 L429.1,296.6 L429.3,296.4 L429.5,296.2 L429.7,297.0 L429.9,297.3 L430.0,297.2 L430.2,296.9 L430.4,296.4 L430.6,296.7 L430.7,296.7 L430.9,297.1 L431.1,297.6 L431.3,297.3 L431.4,296.9 L431.6,296.7 L431.8,296.8 L432.0,296.6 L432.2,297.2 L432.3,297.6 L432.5,297.4 L432.7,296.4 L432.9,296.4 L433.0,296.4 L433.2,296.9 L433.4,297.1 L433.6,297.3 L433.7,296.7 L433.9,296.2 L434.1,296.1 L434.3,296.7 L434.5,296.8 L434.6,296.4 L434.8,296.0 L435.0,295.5 L435.2,295.0 L435.3,294.8 L435.5,295.6 L435.7,295.5 L435.9,294.9 L436.0,294.3 L436.2,294.0 L436.4,294.0 L436.6,294.5 L436.8,294.4 L436.9,294.4 L437.1,294.1 L437.3,293.4 L437.5,293.0 L437.6,293.5 L437.8,293.9 L438.0,293.9 L438.2,293.1 L438.3,292.2 L438.5,292.0 L438.7,292.0 L438.9,292.4 L439.1,292.3 L439.2,292.0 L439.4,291.4 L439.6,291.1 L439.8,290.8 L439.9,291.4 L440.1,291.6 L440.3,291.6 L440.5,290.9 L440.6,290.4 L440.8,290.3 L441.0,290.4 L441.2,290.3 L441.4,290.1 L441.5,290.5 L441.7,290.7 L441.9,290.6 L442.1,290.5 L442.2,291.0 L442.4,291.9 L442.6,292.1 L442.8,291.8 L443.0,291.2 L443.1,291.5 L443.3,291.4 L443.5,291.6 L443.7,292.0 L443.8,292.5 L444.0,292.5 L444.2,292.4 L444.4,292.1 L444.5,292.1 L444.7,292.4 L444.9,292.5 L445.1,292.6 L445.3,292.8 L445.4,292.9 L445.6,293.1 L445.8,293.5 L446.0,294.2 L446.1,295.4 L446.3,296.8 L446.5,297.9 L446.7,299.0 L446.8,300.0 L447.0,299.3 L447.2,298.8 L447.4,299.0 L447.6,299.0 L447.7,299.1 L447.9,299.6 L448.1,299.9 L448.3,299.3 L448.4,298.5 L448.6,297.7 L448.8,297.8 L449.0,297.6 L449.1,298.2 L449.3,298.8 L449.5,298.9 L449.7,298.1 L449.9,297.8 L450.0,297.6 L450.2,297.7 L450.4,297.4 L450.6,297.6 L450.7,298.1 L450.9,298.6 L451.1,298.4 L451.3,298.1 L451.4,297.7 L451.6,297.5 L451.8,297.1 L452.0,296.9 L452.2,296.8 L452.3,297.0 L452.5,297.9 L452.7,298.0 L452.9,297.8 L453.0,297.9 L453.2,297.9 L453.4,297.5 L453.6,296.5 L453.7,296.1 L453.9,295.9 L454.1,295.6 L454.3,295.4 L454.5,295.2 L454.6,295.4 L454.8,295.1 L455.0,294.3 L455.2,293.6 L455.3,293.5 L455.5,293.2 L455.7,293.3 L455.9,293.4 L456.0,293.1 L456.2,292.6 L456.4,292.0 L456.6,291.5 L456.8,291.2 L456.9,291.0 L457.1,290.9 L457.3,291.0 L457.5,291.2 L457.6,291.5 L457.8,291.5 L458.0,291.5 L458.2,291.5 L458.3,291.2 L458.5,291.7 L458.7,291.6 L458.9,292.2 L459.1,292.6 L459.2,292.6 L459.4,292.7 L459.6,292.0 L459.8,292.1 L459.9,291.0 L460.1,291.2 L460.3,291.0 L460.5,291.3 L460.6,291.4 L460.8,291.7 L461.0,292.1 L461.2,292.0 L461.4,292.1 L461.5,291.7 L461.7,291.2 L461.9,291.0 L462.1,290.6 L462.2,290.7 L462.4,291.1 L462.6,291.2 L462.8,291.6 L462.9,292.0 L463.1,292.2 L463.3,292.0 L463.5,292.1 L463.7,291.8 L463.8,291.6 L464.0,291.4 L464.2,291.4 L464.4,291.8 L464.5,292.3 L464.7,292.3 L464.9,292.6 L465.1,292.9 L465.2,292.6 L465.4,292.5 L465.6,292.1 L465.8,291.3 L466.0,291.5 L466.1,292.0 L466.3,292.2 L466.5,292.4 L466.7,292.9 L466.8,293.2 L467.0,293.0 L467.2,292.5 L467.4,291.8 L467.5,291.9 L467.7,291.6 L467.9,291.4 L468.1,292.4 L468.3,292.6 L468.4,292.6 L468.6,292.5 L468.8,292.5 L469.0,292.1 L469.1,291.8 L469.3,291.4 L469.5,291.5 L469.7,291.6 L469.8,291.6 L470.0,291.7 L470.2,292.2 L470.4,292.0 L470.6,291.4 L470.7,291.1 L470.9,290.5 L471.1,289.4 L471.3,288.6 L471.4,288.4 L471.6,288.0 L471.8,287.4 L472.0,286.9 L472.1,286.6 L472.3,286.6 L472.5,286.6 L472.7,286.6 L472.9,286.5 L473.0,286.7 L473.2,286.5 L473.4,286.5 L473.6,286.9 L473.7,287.4 L473.9,287.4 L474.1,287.0 L474.3,286.4 L474.5,285.8 L474.6,286.0 L474.8,286.1 L475.0,286.0 L475.2,286.3 L475.3,287.3 L475.5,287.5 L475.7,287.3 L475.9,287.0 L476.0,286.4 L476.2,286.7 L476.4,286.6 L476.6,286.9 L476.8,287.2 L476.9,287.5 L477.1,287.7 L477.3,288.2 L477.5,288.1 L477.6,288.4 L477.8,288.7 L478.0,288.6 L478.2,289.1 L478.3,290.5 L478.5,290.5 L478.7,290.1 L478.9,290.1 L479.1,289.7 L479.2,289.1 L479.4,288.7 L479.6,288.6 L479.8,289.6 L479.9,290.0 L480.1,289.9 L480.3,289.7 L480.5,289.2 L480.6,288.9 L480.8,289.0 L481.0,289.8 L481.2,290.2 L481.4,289.7 L481.5,289.4 L481.7,289.1 L481.9,288.5 L482.1,288.3 L482.2,288.6 L482.4,289.5 L482.6,289.4 L482.8,290.1 L482.9,289.8 L483.1,289.4 L483.3,289.6 L483.5,289.0 L483.7,288.6 L483.8,289.0 L484.0,289.9 L484.2,289.5 L484.4,289.6 L484.5,288.8 L484.7,287.4 L484.9,287.5 L485.1,287.3 L485.2,287.1 L485.4,287.7 L485.6,287.9 L485.8,287.9 L486.0,287.4 L486.1,286.7 L486.3,286.0 L486.5,285.2 L486.7,285.4 L486.8,285.5 L487.0,285.2 L487.2,285.6 L487.4,285.4 L487.5,284.2 L487.7,283.5 L487.9,283.1 L488.1,281.9 L488.3,281.4 L488.4,281.0 L488.6,281.7 L488.8,281.4 L489.0,282.0 L489.1,281.4 L489.3,281.6 L489.5,280.8 L489.7,279.5 L489.8,277.9 L490.0,277.0 L490.2,276.5 L490.4,275.9 L490.6,276.1 L490.7,275.9 L490.9,275.2 L491.1,274.4 L491.3,273.2 L491.4,272.4 L491.6,272.2 L491.8,272.2 L492.0,272.0 L492.1,271.7 L492.3,272.4 L492.5,272.5 L492.7,272.0 L492.9,271.8 L493.0,271.5 L493.2,271.2 L493.4,270.0 L493.6,270.0 L493.7,270.2 L493.9,271.1 L494.1,272.2 L494.3,272.3 L494.4,272.2 L494.6,272.6 L494.8,272.4 L495.0,270.2 L495.2,269.7 L495.3,269.1 L495.5,268.0 L495.7,266.9 L495.9,266.7 L496.0,268.0 L496.2,267.7 L496.4,266.7 L496.6,265.8 L496.7,265.2 L496.9,263.5 L497.1,261.2 L497.3,260.1 L497.5,260.9 L497.6,261.9 L497.8,261.7 L498.0,258.6 L498.2,256.7 L498.3,254.5 L498.5,248.9 L498.7,246.3 L498.9,244.8 L499.0,245.9 L499.2,238.2 L499.4,235.0 L499.6,231.9 L499.8,228.8 L499.9,225.6 L500.1,223.9 L500.3,224.8 L500.5,225.7 L500.6,226.7 L500.8,227.6 L501.0,228.6 L501.2,229.5 L501.3,232.1 L501.5,239.0 L501.7,239.7 L501.9,237.2 L502.1,235.9 L502.2,236.2 L502.4,235.9 L502.6,242.5 L502.8,244.7 L502.9,241.1 L503.1,241.5 L503.3,237.2 L503.5,238.4 L503.7,239.6 L503.8,242.0 L504.0,241.5 L504.2,238.1 L504.4,236.6 L504.5,227.7 L504.7,220.4 L504.9,216.0 L505.1,210.2 L505.2,212.1 L505.4,224.7 L505.6,216.2 L505.8,214.8 L506.0,211.9 L506.1,206.2 L506.3,199.4 L506.5,197.6 L506.7,196.0 L506.8,194.4 L507.0,192.8 L507.2,191.3 L507.4,189.7 L507.5,188.1 L507.7,189.6 L507.9,191.5 L508.1,198.4 L508.3,200.0 L508.4,195.9 L508.6,198.4 L508.8,197.7 L509.0,197.9 L509.1,200.3 L509.3,204.6 L509.5,201.8 L509.7,200.8 L509.8,198.9 L510.0,195.2 L510.2,189.4 L510.4,188.0 L510.6,186.0 L510.7,184.8 L510.9,183.5 L511.1,182.3 L511.3,181.0 L511.4,181.2 L511.6,182.2 L511.8,187.9 L512.0,186.1 L512.1,183.0 L512.3,185.5 L512.5,185.6 L512.7,184.7 L512.9,188.0 L513.0,193.3 L513.2,186.4 L513.4,187.2 L513.6,187.7 L513.7,187.8 L513.9,185.7 L514.1,185.3 L514.3,182.1 L514.4,185.0 L514.6,184.4 L514.8,184.6 L515.0,191.2 L515.2,191.4 L515.3,190.4 L515.5,187.3 L515.7,187.2 L515.9,182.1 L516.0,175.5 L516.2,174.8 L516.4,175.3 L516.6,174.1 L516.7,172.9 L516.9,171.7 L517.1,170.5 L517.3,170.4 L517.5,172.3 L517.6,174.3 L517.8,176.2 L518.0,179.3 L518.2,184.0 L518.3,189.1 L518.5,195.5 L518.7,197.7 L518.9,197.2 L519.0,198.7 L519.2,189.7 L519.4,189.4 L519.6,188.3 L519.8,188.0 L519.9,191.4 L520.1,186.9 L520.3,185.4 L520.5,183.3 L520.6,182.3 L520.8,182.3 L521.0,182.2 L521.2,182.0 L521.3,181.8 L521.5,182.0 L521.7,182.2 L521.9,182.4 L522.1,182.6 L522.2,182.8 L522.4,184.3 L522.6,189.0 L522.8,193.7 L522.9,198.5 L523.1,208.9 L523.3,208.0 L523.5,210.6 L523.6,217.7 L523.8,223.1 L524.0,224.8 L524.2,227.5 L524.4,230.1 L524.5,228.5 L524.7,225.3 L524.9,226.4 L525.1,228.6 L525.2,229.6 L525.4,233.7 L525.6,234.2 L525.8,235.4 L525.9,232.9 L526.1,229.7 L526.3,228.9 L526.5,230.2 L526.7,231.7 L526.8,232.5 L527.0,235.8 L527.2,233.6 L527.4,226.0 L527.5,224.8 L527.7,223.6 L527.9,222.4 L528.1,222.5 L528.2,224.3 L528.4,226.1 L528.6,228.8 L528.8,234.1 L529.0,234.1 L529.1,232.6 L529.3,231.2 L529.5,233.2 L529.7,235.8 L529.8,236.6 L530.0,241.8 L530.2,243.1 L530.4,240.6 L530.5,239.1 L530.7,235.1 L530.9,233.4 L531.1,233.4 L531.3,234.7 L531.4,234.3 L531.6,235.8 L531.8,237.4 L532.0,237.0 L532.1,236.1 L532.3,236.4 L532.5,238.4 L532.7,244.4 L532.8,243.3 L533.0,243.7 L533.2,240.3 L533.4,239.0 L533.6,240.3 L533.7,245.0 L533.9,245.3 L534.1,246.0 L534.3,242.6 L534.4,241.0 L534.6,243.2 L534.8,243.5 L535.0,243.6 L535.2,242.8 L535.3,237.4 L535.5,232.6 L535.7,232.1 L535.9,229.1 L536.0,233.5 L536.2,234.4 L536.4,231.2 L536.6,226.6 L536.7,222.7 L536.9,219.7 L537.1,218.1 L537.3,214.5 L537.5,212.0 L537.6,209.5 L537.8,209.3 L538.0,209.2 L538.2,209.8 L538.3,212.7 L538.5,213.4 L538.7,212.8 L538.9,207.3 L539.0,203.9 L539.2,203.7 L539.4,205.9 L539.6,204.4 L539.8,204.5 L539.9,203.3 L540.1,201.8 L540.3,200.0 L540.5,202.2 L540.6,206.6 L540.8,207.3 L541.0,209.1 L541.2,204.4 L541.3,200.2 L541.5,201.9 L541.7,201.3 L541.9,205.6 L542.1,204.7 L542.2,199.0 L542.4,196.2 L542.6,195.4 L542.8,194.6 L542.9,194.2 L543.1,195.7 L543.3,197.2 L543.5,203.0 L543.6,203.7 L543.8,202.5 L544.0,203.0 L544.2,203.3 L544.4,209.8 L544.5,212.7 L544.7,213.4 L544.9,205.1 L545.1,202.9 L545.2,205.8 L545.4,214.4 L545.6,217.1 L545.8,213.8 L545.9,211.1 L546.1,207.3 L546.3,207.2 L546.5,209.0 L546.7,213.5 L546.8,213.2 L547.0,209.5 L547.2,207.7 L547.4,200.8 L547.5,196.5 L547.7,192.6 L547.9,196.2 L548.1,199.1 L548.2,198.6 L548.4,194.1 L548.6,190.1 L548.8,185.8 L549.0,182.3 L549.1,187.2 L549.3,185.8 L549.5,176.9 L549.7,173.1 L549.8,170.7 L550.0,168.9 L550.2,167.6 L550.4,166.4 L550.5,165.1 L550.7,163.9 L550.9,164.3 L551.1,166.0 L551.3,167.7 L551.4,173.4 L551.6,178.7 L551.8,183.0 L552.0,179.9 L552.1,173.3 L552.3,174.5 L552.5,175.3 L552.7,179.0 L552.8,186.5 L553.0,184.0 L553.2,175.4 L553.4,172.0 L553.6,170.1 L553.7,167.7 L553.9,168.2 L554.1,164.3 L554.3,163.0 L554.4,161.8 L554.6,161.2 L554.8,162.1 L555.0,163.0 L555.1,163.9 L555.3,164.7 L555.5,165.6 L555.7,167.3 L555.9,171.3 L556.0,178.1 L556.2,182.8 L556.4,185.7 L556.6,185.2 L556.7,177.2 L556.9,178.5 L557.1,179.2 L557.3,184.0 L557.4,190.6 L557.6,188.5 L557.8,182.3 L558.0,183.9 L558.2,181.9 L558.3,183.8 L558.5,183.0 L558.7,183.2 L558.9,183.6 L559.0,184.9 L559.2,187.7 L559.4,187.4 L559.6,195.0 L559.7,202.4 L559.9,201.4 L560.1,202.6 L560.3,198.2 L560.5,196.1 L560.6,196.7 L560.8,201.5 L561.0,208.4 L561.2,205.8 L561.3,207.5 L561.5,202.7 L561.7,198.0 L561.9,197.8 L562.0,197.9 L562.2,197.3 L562.4,196.7 L562.6,197.0 L562.8,197.9 L562.9,198.8 L563.1,199.3 L563.3,200.1 L563.5,202.8 L563.6,205.3 L563.8,207.0 L564.0,210.4 L564.2,214.1 L564.4,209.7 L564.5,208.2 L564.7,210.9 L564.9,215.0 L565.1,212.8 L565.2,218.0 L565.4,222.3 L565.6,222.7 L565.8,220.2 L565.9,216.9 L566.1,215.4 L566.3,217.1 L566.5,216.8 L566.7,220.6 L566.8,224.7 L567.0,227.6 L567.2,226.7 L567.4,223.1 L567.5,225.4 L567.7,224.7 L567.9,222.8 L568.1,224.2 L568.2,231.2 L568.4,233.8 L568.6,231.4 L568.8,232.4 L569.0,231.2 L569.1,225.9 L569.3,219.6 L569.5,220.6 L569.7,218.6 L569.8,216.2 L570.0,219.3 L570.2,216.4 L570.4,213.3 L570.5,211.9 L570.7,211.1 L570.9,211.2 L571.1,211.3 L571.3,211.4 L571.4,212.1 L571.6,212.8 L571.8,212.1 L572.0,214.3 L572.1,221.1 L572.3,222.7 L572.5,219.1 L572.7,219.3 L572.8,218.6 L573.0,218.2 L573.2,212.3 L573.4,210.8 L573.6,211.1 L573.7,211.8 L573.9,212.6 L574.1,212.4 L574.3,212.7 L574.4,213.0 L574.6,217.4 L574.8,219.5 L575.0,221.0 L575.1,222.4 L575.3,220.2 L575.5,218.3 L575.7,216.9 L575.9,218.5 L576.0,219.1 L576.2,219.5 L576.4,221.1 L576.6,223.4 L576.7,223.9 L576.9,223.6 L577.1,216.1 L577.3,212.9 L577.4,211.8 L577.6,211.3 L577.8,209.0 L578.0,207.4 L578.2,205.9 L578.3,205.5 L578.5,205.1 L578.7,204.8 L578.9,204.4 L579.0,204.1 L579.2,204.5 L579.4,205.0 L579.6,205.5 L579.7,206.0 L579.9,206.5 L580.1,207.2 L580.3,210.4 L580.5,215.1 L580.6,218.9 L580.8,213.4 L581.0,216.1 L581.2,217.6 L581.3,218.6 L581.5,222.3 L581.7,224.2 L581.9,222.7 L582.0,221.9 L582.2,217.0 L582.4,217.6 L582.6,217.4 L582.8,219.0 L582.9,225.4 L583.1,226.2 L583.3,226.8 L583.5,228.1 L583.6,223.8 L583.8,220.8 L584.0,222.6 L584.2,222.0 L584.3,222.5 L584.5,224.2 L584.7,222.6 L584.9,222.3 L585.1,222.6 L585.2,223.6 L585.4,224.5 L585.6,225.5 L585.8,226.5 L585.9,227.4 L586.1,228.4 L586.3,230.2 L586.5,234.9 L586.6,236.3 L586.8,238.6 L587.0,241.1 L587.2,245.7 L587.4,250.1 L587.5,248.9 L587.7,248.7 L587.9,247.0 L588.1,244.6 L588.2,243.4 L588.4,244.8 L588.6,246.6 L588.8,247.1 L588.9,247.4 L589.1,246.9 L589.3,244.1 L589.5,241.7 L589.7,241.1 L589.8,240.6 L590.0,240.7 L590.2,240.8 L590.4,240.9 L590.5,240.9 L590.7,241.0 L590.9,241.1 L591.1,241.2 L591.2,241.7 L591.4,242.3 L591.6,242.9 L591.8,243.4 L592.0,244.0 L592.1,247.5 L592.3,251.4 L592.5,257.7 L592.7,257.8 L592.8,260.7 L593.0,261.9 L593.2,261.3 L593.4,265.3 L593.5,266.3 L593.7,266.2 L593.9,267.7 L594.1,267.4 L594.3,265.2 L594.4,265.3 L594.6,264.6 L594.8,264.8 L595.0,265.9 L595.1,265.5 L595.3,267.3 L595.5,266.1 L595.7,265.4 L595.9,266.3 L596.0,265.4 L596.2,264.8 L596.4,264.3 L596.6,263.4 L596.7,264.6 L596.9,264.8 L597.1,264.4 L597.3,266.0 L597.4,266.3 L597.6,265.4 L597.8,265.1 L598.0,265.2 L598.2,261.9 L598.3,261.4 L598.5,260.9 L598.7,260.4 L598.9,259.9 L599.0,259.7 L599.2,259.3 L599.4,258.8 L599.6,259.1 L599.7,260.2 L599.9,261.3 L600.1,262.4 L600.3,260.0 L600.5,260.4 L600.6,259.8 L600.8,260.3 L601.0,260.0 L601.2,261.0 L601.3,262.0 L601.5,261.0 L601.7,260.0 L601.9,258.5 L602.0,257.5 L602.2,257.4 L602.4,257.3 L602.6,257.2 L602.8,257.1 L602.9,257.1 L603.1,257.0 L603.3,257.1 L603.5,257.8 L603.6,258.7 L603.8,259.9 L604.0,260.4 L604.2,262.4 L604.3,264.3 L604.5,264.6 L604.7,264.5 L604.9,265.0 L605.1,263.7 L605.2,262.6 L605.4,262.7 L605.6,263.3 L605.8,263.6 L605.9,264.7 L606.1,266.5 L606.3,267.4 L606.5,268.9 L606.6,269.4 L606.8,268.8 L607.0,268.1 L607.2,267.9 L607.4,267.4 L607.5,266.7 L607.7,267.2 L607.9,268.0 L608.1,269.5 L608.2,270.3 L608.4,270.9 L608.6,265.9 L608.8,263.9 L608.9,262.7 L609.1,261.4 L609.3,262.7 L609.5,264.0 L609.7,265.3 L609.8,267.3 L610.0,269.4 L610.2,271.8 L610.4,270.6 L610.5,270.3 L610.7,271.3 L610.9,269.4 L611.1,268.3 L611.2,267.9 L611.4,268.6 L611.6,268.1 L611.8,268.1 L612.0,268.8 L612.1,268.8 L612.3,268.0 L612.5,267.4 L612.7,267.0 L612.8,267.2 L613.0,266.8 L613.2,266.9 L613.4,268.1 L613.5,269.4 L613.7,269.4 L613.9,269.9 L614.1,270.1 L614.3,269.0 L614.4,267.8 L614.6,267.2 L614.8,268.2 L615.0,268.7 L615.1,269.3 L615.3,269.8 L615.5,270.1 L615.7,269.9 L615.8,267.6 L616.0,266.3 L616.2,266.2 L616.4,265.6 L616.6,265.2 L616.7,265.0 L616.9,264.8 L617.1,264.7 L617.3,264.5 L617.4,264.3 L617.6,264.2 L617.8,265.0 L618.0,266.0 L618.1,267.0 L618.3,268.5 L618.5,271.3 L618.7,272.5 L618.9,271.9 L619.0,270.8 L619.2,271.9 L619.4,272.3 L619.6,274.0 L619.7,276.2 L619.9,276.2 L620.1,276.4 L620.3,275.3 L620.4,274.6 L620.6,275.4 L620.8,276.9 L621.0,277.9 L621.2,277.2 L621.3,276.5 L621.5,275.9 L621.7,275.0 L621.9,274.3 L622.0,274.5 L622.2,275.4 L622.4,275.5 L622.6,275.0 L622.7,274.6 L622.9,273.3 L623.1,272.8 L623.3,272.7 L623.5,273.7 L623.6,274.0 L623.8,273.4 L624.0,273.1 L624.2,272.7 L624.3,272.4 L624.5,272.1 L624.7,272.8 L624.9,273.9 L625.1,274.7 L625.2,274.3 L625.4,273.2 L625.6,273.8 L625.8,273.9 L625.9,274.4 L626.1,275.1 L626.3,275.4 L626.5,276.1 L626.6,275.6 L626.8,274.5 L627.0,274.3 L627.2,274.6 L627.4,274.1 L627.5,275.0 L627.7,275.8 L627.9,276.2 L628.1,275.8 L628.2,275.7 L628.4,275.2 L628.6,274.8 L628.8,274.0 L628.9,274.2 L629.1,274.0 L629.3,273.3 L629.5,273.2 L629.7,272.8 L629.8,272.3 L630.0,270.7 L630.2,269.6 L630.4,267.4 L630.5,265.8 L630.7,264.6 L630.9,263.7 L631.1,263.1 L631.2,262.6 L631.4,262.0 L631.6,261.4 L631.8,260.8 L632.0,260.3 L632.1,259.9 L632.3,259.8 L632.5,260.1 L632.7,260.1 L632.8,260.1 L633.0,260.4 L633.2,259.4 L633.4,258.7 L633.5,258.5 L633.7,258.9 L633.9,259.3 L634.1,259.8 L634.3,260.4 L634.4,260.1 L634.6,259.2 L634.8,259.2 L635.0,259.4 L635.1,259.6 L635.3,260.2 L635.5,261.9 L635.7,261.7 L635.8,261.1 L636.0,259.5 L636.2,258.1 L636.4,257.4 L636.6,256.8 L636.7,256.9 L636.9,256.2 L637.1,255.9 L637.3,256.2 L637.4,256.7 L637.6,257.4 L637.8,257.4 L638.0,258.2 L638.1,260.3 L638.3,260.8 L638.5,261.2 L638.7,261.4 L638.9,260.0 L639.0,258.9 L639.2,258.6 L639.4,259.2 L639.6,260.0 L639.7,260.9 L639.9,261.3 L640.1,259.9 L640.3,256.9 L640.4,255.0 L640.6,253.4 L640.8,252.0 L641.0,251.2 L641.2,250.2 L641.3,249.8 L641.5,249.7 L641.7,249.9 L641.9,250.1 L642.0,249.5 L642.2,249.0 L642.4,248.2 L642.6,248.1 L642.7,247.5 L642.9,247.4 L643.1,247.6 L643.3,248.5 L643.5,249.0 L643.6,248.6 L643.8,248.7 L644.0,249.3 L644.2,247.5 L644.3,245.8 L644.5,246.2 L644.7,246.9 L644.9,247.6 L645.0,247.7 L645.2,248.0 L645.4,248.5 L645.6,247.0 L645.8,245.1 L645.9,243.4 L646.1,242.7 L646.3,242.5 L646.5,242.8 L646.6,243.1 L646.8,243.7 L647.0,245.0 L647.2,246.3 L647.3,246.2 L647.5,246.6 L647.7,247.3 L647.9,245.7 L648.1,244.2 L648.2,244.4 L648.4,245.4 L648.6,245.9 L648.8,246.4 L648.9,248.6 L649.1,248.5 L649.3,247.3 L649.5,246.2 L649.6,245.1 L649.8,243.8 L650.0,243.6 L650.2,244.0 L650.4,244.4 L650.5,244.8 L650.7,245.7 L650.9,246.5 L651.1,248.5 L651.2,249.3 L651.4,249.4 L651.6,250.3 L651.8,250.5 L651.9,249.3 L652.1,249.6 L652.3,249.3 L652.5,249.9 L652.7,250.6 L652.8,251.5 L653.0,251.5 L653.2,252.0 L653.4,250.2 L653.5,249.4 L653.7,249.2 L653.9,248.8 L654.1,249.9 L654.2,251.3 L654.4,251.9 L654.6,252.0 L654.8,250.5 L655.0,249.9 L655.1,249.2 L655.3,248.8 L655.5,248.8 L655.7,249.8 L655.8,251.7 L656.0,252.0 L656.2,253.0 L656.4,250.9 L656.6,250.6 L656.7,251.5 L656.9,251.4 L657.1,253.5 L657.3,255.0 L657.4,254.9 L657.6,253.3 L657.8,250.9 L658.0,250.2 L658.1,248.9 L658.3,248.2 L658.5,248.5 L658.7,244.9 L658.9,243.0 L659.0,241.7 L659.2,241.5 L659.4,241.4 L659.6,241.3 L659.7,241.2 L659.9,241.3 L660.1,241.8 L660.3,241.5 L660.4,241.2 L660.6,241.1 L660.8,241.8 L661.0,242.8 L661.2,243.3 L661.3,243.0 L661.5,241.3 L661.7,241.5 L661.9,241.0 L662.0,241.9 L662.2,244.6 L662.4,244.2 L662.6,244.6 L662.7,245.9 L662.9,243.3 L663.1,242.6 L663.3,243.5 L663.5,243.8 L663.6,244.2 L663.8,245.5 L664.0,246.2 L664.2,245.9 L664.3,244.1 L664.5,242.8 L664.7,243.4 L664.9,242.4 L665.0,243.0 L665.2,246.5 L665.4,246.0 L665.6,246.2 L665.8,246.5 L665.9,246.6 L666.1,244.8 L666.3,244.2 L666.5,244.2 L666.6,244.6 L666.8,244.6 L667.0,244.8 L667.2,245.3 L667.3,245.2 L667.5,244.6 L667.7,243.9 L667.9,243.7 L668.1,243.8 L668.2,244.2 L668.4,245.2 L668.6,246.5 L668.8,248.8 L668.9,251.2 L669.1,251.8 L669.3,250.9 L669.5,250.4 L669.6,250.8 L669.8,250.0 L670.0,249.7 L670.2,249.9 L670.4,251.8 L670.5,253.5 L670.7,253.4 L670.9,253.2 L671.1,253.8 L671.2,254.4 L671.4,253.4 L671.6,252.3 L671.8,252.0 L671.9,252.3 L672.1,252.0 L672.3,252.0 L672.5,253.3 L672.7,254.4 L672.8,254.3 L673.0,253.3 L673.2,252.4 L673.4,252.3 L673.5,252.1 L673.7,251.2 L673.9,251.8 L674.1,253.8 L674.2,254.1 L674.4,253.8 L674.6,252.4 L674.8,251.2 L675.0,250.6 L675.1,250.1 L675.3,249.5 L675.5,251.6 L675.7,252.4 L675.8,252.2 L676.0,250.2 L676.2,249.4 L676.4,250.0 L676.5,250.1 L676.7,250.3 L676.9,251.1 L677.1,252.2 L677.3,252.3 L677.4,251.2 L677.6,249.1 L677.8,248.3 L678.0,248.7 L678.1,249.5 L678.3,249.6 L678.5,249.2 L678.7,249.1 L678.8,247.3 L679.0,246.2 L679.2,244.8 L679.4,245.2 L679.6,245.2 L679.7,242.6 L679.9,238.3 L680.1,236.6 L680.3,236.0 L680.4,235.3 L680.6,234.7 L680.8,234.1 L681.0,233.5 L681.1,233.0 L681.3,232.6 L681.5,233.1 L681.7,234.9 L681.9,234.6 L682.0,234.2 L682.2,233.1 L682.4,231.7 L682.6,230.5 L682.7,232.7 L682.9,233.7 L683.1,232.3 L683.3,231.8 L683.4,230.1 L683.6,227.3 L683.8,227.0 L684.0,226.7 L684.2,225.9 L684.3,226.4 L684.5,226.4 L684.7,225.8 L684.9,225.1 L685.0,225.3 L685.2,226.0 L685.4,227.2 L685.6,228.3 L685.8,229.9 L685.9,230.6 L686.1,228.7 L686.3,225.5 L686.5,224.6 L686.6,224.4 L686.8,225.0 L687.0,225.0 L687.2,224.2 L687.3,221.7 L687.5,216.5 L687.7,214.3 L687.9,212.2 L688.1,210.1 L688.2,210.1 L688.4,210.7 L688.6,211.3 L688.8,212.2 L688.9,214.0 L689.1,216.6 L689.3,217.4 L689.5,218.5 L689.6,217.8 L689.8,214.7 L690.0,211.8 L690.2,212.2 L690.4,211.8 L690.5,211.7 L690.7,213.4 L690.9,214.3 L691.1,214.5 L691.2,211.3 L691.4,209.6 L691.6,210.9 L691.8,213.5 L691.9,215.2 L692.1,215.2 L692.3,212.4 L692.5,211.8 L692.7,210.8 L692.8,212.7 L693.0,213.8 L693.2,215.1 L693.4,212.3 L693.5,208.0 L693.7,207.2 L693.9,206.4 L694.1,205.6 L694.2,204.7 L694.4,203.9 L694.6,204.6 L694.8,206.3 L695.0,207.9 L695.1,210.9 L695.3,217.6 L695.5,217.7 L695.7,214.4 L695.8,214.6 L696.0,214.8 L696.2,219.7 L696.4,219.7 L696.5,221.3 L696.7,219.3 L696.9,217.7 L697.1,218.1 L697.3,218.8 L697.4,220.4 L697.6,220.1 L697.8,220.4 L698.0,217.9 L698.1,216.3 L698.3,213.3 L698.5,210.9 L698.7,212.0 L698.8,211.6 L699.0,215.5 L699.2,213.5 L699.4,212.1 L699.6,209.4 L699.7,205.4 L699.9,204.7 L700.1,203.7 L700.3,203.1 L700.4,195.9 L700.6,191.5 L700.8,190.4 L701.0,190.5 L701.1,190.8 L701.3,191.7 L701.5,189.5 L701.7,191.6 L701.9,190.4 L702.0,191.4 L702.2,189.5 L702.4,185.0 L702.6,177.4 L702.7,171.2 L702.9,166.4 L703.1,164.1 L703.3,161.3 L703.4,158.5 L703.6,155.6 L703.8,152.9 L704.0,151.7 L704.2,150.4 L704.3,149.2 L704.5,147.9 L704.7,146.7 L704.9,145.7 L705.0,145.3 L705.2,144.8 L705.4,144.3 L705.6,143.8 L705.7,143.8 L705.9,146.4 L706.1,148.7 L706.3,149.6 L706.5,148.6 L706.6,147.7 L706.8,147.5 L707.0,147.2 L707.2,146.0 L707.3,147.4 L707.5,153.5 L707.7,157.2 L707.9,155.2 L708.0,154.4 L708.2,155.2 L708.4,154.8 L708.6,154.0 L708.8,148.2 L708.9,148.2 L709.1,148.0 L709.3,149.3 L709.5,151.2 L709.6,152.2 L709.8,150.8 L710.0,148.5 L710.2,146.5 L710.3,146.0 L710.5,145.8 L710.7,145.9 L710.9,148.1 L711.1,149.3 L711.2,149.6 L711.4,151.8 L711.6,153.9 L711.8,157.0 L711.9,160.6 L712.1,160.9 L712.3,162.6 L712.5,163.1 L712.6,164.7 L712.8,164.0 L713.0,163.1 L713.2,162.0 L713.4,160.3 L713.5,158.1 L713.7,159.7 L713.9,160.2 L714.1,164.1 L714.2,164.3 L714.4,168.4 L714.6,168.6 L714.8,168.2 L714.9,171.0 L715.1,171.7 L715.3,171.4 L715.5,170.2 L715.7,170.7 L715.8,170.1 L716.0,166.0 L716.2,165.8 L716.4,159.2 L716.5,156.8 L716.7,154.3 L716.9,153.1 L717.1,153.7 L717.3,152.9 L717.4,152.5 L717.6,151.1 L717.8,151.5 L718.0,151.7 L718.1,152.1 L718.3,151.4 L718.5,151.9 L718.7,152.2 L718.8,149.4 L719.0,149.9 L719.2,150.3 L719.4,150.6 L719.6,150.4 L719.7,149.1 L719.9,152.4 L720.1,155.1 L720.3,157.0 L720.4,157.7 L720.6,157.5 L720.8,155.1 L721.0,153.1 L721.1,150.5 L721.3,149.8 L721.5,150.6 L721.7,151.0 L721.9,151.1 L722.0,151.9 L722.2,152.1 L722.4,153.4 L722.6,156.0 L722.7,158.4 L722.9,161.3 L723.1,163.3 L723.3,164.7 L723.4,165.9 L723.6,165.5 L723.8,164.0 L724.0,165.0 L724.2,165.8 L724.3,167.4 L724.5,169.6 L724.7,170.2 L724.9,168.8 L725.0,172.6 L725.2,174.0 L725.4,175.0 L725.6,175.5 L725.7,177.5 L725.9,177.9 L726.1,178.1 L726.3,174.7 L726.5,170.9 L726.6,168.1 L726.8,167.3 L727.0,165.5 L727.2,167.7 L727.3,171.8 L727.5,171.5 L727.7,166.2 L727.9,161.3 L728.0,156.6 L728.2,154.7 L728.4,154.3 L728.6,154.0 L728.8,153.7 L728.9,153.3 L729.1,153.1 L729.3,152.7 L729.5,152.3 L729.6,152.3 L729.8,152.3 L730.0,152.3 L730.2,152.3 L730.3,152.3 L730.5,153.9 L730.7,155.6 L730.9,157.4 L731.1,161.2 L731.2,166.2 L731.4,171.9 L731.6,177.5 L731.8,179.8 L731.9,184.8 L732.1,183.1 L732.3,178.4 L732.5,169.8 L732.6,171.5 L732.8,171.0 L733.0,172.1 L733.2,172.4 L733.4,174.5 L733.5,173.3 L733.7,171.9 L733.9,165.0 L734.1,162.0 L734.2,161.5 L734.4,161.3 L734.6,161.1 L734.8,160.9 L734.9,160.6 L735.1,160.6 L735.3,162.2 L735.5,165.0 L735.7,170.4 L735.8,172.1 L736.0,171.0 L736.2,171.9 L736.4,171.8 L736.5,175.0 L736.7,180.1 L736.9,183.2 L737.1,184.9 L737.2,184.8 L737.4,181.4 L737.6,178.9 L737.8,173.1 L738.0,171.2 L738.1,170.6 L738.3,168.1 L738.5,166.1 L738.7,169.7 L738.8,166.9 L739.0,172.7 L739.2,175.0 L739.4,171.3 L739.5,166.8 L739.7,162.1 L739.9,158.4 L740.1,157.1 L740.3,156.8 L740.4,156.8 L740.6,156.8 L740.8,156.6 L741.0,156.4 L741.1,157.7 L741.3,161.0 L741.5,167.2 L741.7,166.7 L741.8,166.8 L742.0,168.7 L742.2,168.1 L742.4,168.1 L742.6,164.9 L742.7,160.6 L742.9,158.8 L743.1,158.8 L743.3,159.9 L743.4,160.8 L743.6,157.9 L743.8,157.0 L744.0,157.8 L744.1,159.3 L744.3,159.7 L744.5,159.1 L744.7,158.4 L744.9,157.0 L745.0,152.7 L745.2,152.3 L745.4,150.1 L745.6,148.7 L745.7,146.4 L745.9,144.5 L746.1,144.4 L746.3,142.4 L746.5,147.8 L746.6,149.4 L746.8,149.5 L747.0,149.4 L747.2,150.3 L747.3,149.4 L747.5,151.4 L747.7,148.2 L747.9,141.2 L748.0,135.0 L748.2,131.3 L748.4,128.7 L748.6,128.1 L748.8,125.3 L748.9,124.9 L749.1,121.6 L749.3,116.6 L749.5,104.0 L749.6,94.9 L749.8,89.1 L750.0,83.3 L750.2,81.2 L750.3,80.5 L750.5,79.7 L750.7,79.0 L750.9,78.2 L751.1,80.1 L751.2,82.7 L751.4,84.2 L751.6,78.3 L751.8,75.7 L751.9,72.8 L752.1,70.1 L752.3,70.9 L752.5,69.9 L752.6,72.6 L752.8,77.5 L753.0,83.1 L753.2,83.9 L753.4,77.7 L753.5,72.4 L753.7,73.9 L753.9,76.8 L754.1,82.0 L754.2,79.0 L754.4,74.7 L754.6,68.3 L754.8,64.5 L754.9,63.4 L755.1,63.7 L755.3,65.6 L755.5,68.0 L755.7,70.8 L755.8,82.1 L756.0,86.8 L756.2,86.7 L756.4,87.5 L756.5,84.6 L756.7,85.4 L756.9,81.9 L757.1,77.5 L757.2,75.8 L757.4,75.5 L757.6,79.6 L757.8,87.8 L758.0,92.1 L758.1,89.7 L758.3,89.4 L758.5,89.3 L758.7,87.8 L758.8,79.0 L759.0,79.8 L759.2,77.5 L759.4,80.4 L759.5,90.4 L759.7,91.7 L759.9,90.5 L760.1,76.4 L760.3,62.7 L760.4,59.1 L760.6,56.1 L760.8,55.4 L761.0,56.2 L761.1,57.1 L761.3,57.9 L761.5,63.9 L761.7,70.1 L761.8,72.3 L762.0,65.2 L762.2,58.8 L762.4,59.4 L762.6,61.8 L762.7,68.1 L762.9,70.1 L763.1,71.3 L763.3,71.9 L763.4,71.2 L763.6,69.9 L763.8,70.6 L764.0,72.2 L764.1,74.6 L764.3,72.3 L764.5,75.3 L764.7,87.7 L764.9,94.0 L765.0,96.9 L765.2,92.8 L765.4,84.1 L765.6,79.8 L765.7,79.2 L765.9,80.0 L766.1,78.0 L766.3,77.8 L766.4,79.4 L766.6,81.6 L766.8,84.3 L767.0,85.5 L767.2,88.3 L767.3,90.7 L767.5,94.9 L767.7,103.2 L767.9,106.0 L768.0,109.5 L768.2,109.9 L768.4,110.9 L768.6,111.1 L768.7,112.6 L768.9,110.1 L769.1,110.3 L769.3,109.9 L769.5,110.1 L769.6,109.5 L769.8,113.1 L770.0,120.9 L770.2,125.2 L770.3,127.5 L770.5,125.3 L770.7,125.1 L770.9,118.7 L771.0,115.6 L771.2,118.2 L771.4,114.4 L771.6,111.7 L771.8,109.0 L771.9,106.7 L772.1,106.1 L772.3,105.5 L772.5,104.7 L772.6,104.6 L772.8,105.9 L773.0,110.0 L773.2,115.8 L773.3,121.8 L773.5,121.6 L773.7,118.7 L773.9,119.3 L774.1,116.8 L774.2,116.3 L774.4,116.6 L774.6,114.6 L774.8,114.3 L774.9,114.8 L775.1,118.5 L775.3,121.6 L775.5,124.3 L775.6,122.5 L775.8,122.7 L776.0,122.0 L776.2,124.6 L776.4,122.1 L776.5,117.7 L776.7,109.7 L776.9,104.7 L777.1,102.5 L777.2,100.6 L777.4,99.0 L777.6,94.9 L777.8,96.2 L778.0,102.5 L778.1,103.7 L778.3,101.4 L778.5,98.2 L778.7,94.8 L778.8,92.6 L779.0,89.3 L779.2,83.6 L779.4,80.7 L779.5,80.3 L779.7,76.0 L779.9,76.9 L780.1,77.6 L780.3,77.1 L780.4,77.4 L780.6,79.4 L780.8,76.5 L781.0,76.0 L781.1,75.3 L781.3,76.1 L781.5,69.5 L781.7,62.5 L781.8,56.7 L782.0,51.8 L782.2,49.5 L782.4,47.7 L782.6,47.9 L782.7,48.2 L782.9,48.4 L783.1,48.7 L783.3,49.9 L783.4,53.4 L783.6,55.8 L783.8,60.6 L784.0,63.4 L784.1,67.6 L784.3,70.0 L784.5,69.8 L784.7,64.1 L784.9,62.3 L785.0,58.4 L785.2,57.8 L785.4,56.6 L785.6,61.4 L785.7,68.1 L785.9,70.2 L786.1,67.5 L786.3,66.1 L786.4,60.0 L786.6,53.8 L786.8,53.4 L787.0,53.8 L787.2,60.7 L787.3,71.7 L787.5,74.4 L787.7,72.2 L787.9,74.5 L788.0,64.9 L788.2,58.8 L788.4,58.2 L788.6,59.4 L788.7,59.7 L788.9,65.9 L789.1,67.5 L789.3,69.5 L789.5,69.2 L789.6,67.2 L789.8,64.9 L790.0,60.4 L790.2,53.9 L790.3,46.2 L790.5,38.8 L790.7,39.0 L790.9,37.0 L791.0,33.1 L791.2,30.3 L791.4,30.1" stroke="#3b78e7"/>
</g>
<path d="M1.6,310.4H791.4" stroke="#dde0ec" stroke-width="1.4" fill="none"/>
<path d="M2.3,161.5H791.4" stroke="#f0913a" stroke-width="1.5" fill="none"/>
<g font-size="14.5" fill="#4a4a4a" text-anchor="end">
<text y="324.1" text-anchor="start"><tspan x="724.2" textLength="48.3" lengthAdjust="spacingAndGlyphs">$813.58</tspan><tspan x="772.3" dy="-0.1" font-size="12.2" textLength="12.4" lengthAdjust="spacingAndGlyphs">亿</tspan></text>
<text y="358.4" text-anchor="start"><tspan x="724.2" textLength="48.3" lengthAdjust="spacingAndGlyphs">$406.79</tspan><tspan x="772.3" dy="-0.1" font-size="12.2" textLength="12.4" lengthAdjust="spacingAndGlyphs">亿</tspan></text>
<text x="784.4" y="394.6" textLength="14.4" lengthAdjust="spacingAndGlyphs">$0</text>
</g>
<g font-size="13.4" fill="#3c3c3c">
<text y="420.1"><tspan x="8.25" textLength="15.4" lengthAdjust="spacingAndGlyphs">09</tspan><tspan x="23.75" textLength="8.1" lengthAdjust="spacingAndGlyphs">-</tspan><tspan x="31.95" textLength="12.6" lengthAdjust="spacingAndGlyphs">12</tspan></text><text x="12.40" y="433.2" textLength="28.0" lengthAdjust="spacingAndGlyphs">2013</text>
<text y="420.1"><tspan x="144.75" textLength="12.6" lengthAdjust="spacingAndGlyphs">10</tspan><tspan x="157.45" textLength="8.1" lengthAdjust="spacingAndGlyphs">-</tspan><tspan x="165.65" textLength="12.6" lengthAdjust="spacingAndGlyphs">12</tspan></text><text x="147.50" y="433.2" textLength="28.0" lengthAdjust="spacingAndGlyphs">2015</text>
<text y="420.1"><tspan x="280.95" textLength="9.8" lengthAdjust="spacingAndGlyphs">11</tspan><tspan x="290.85" textLength="8.1" lengthAdjust="spacingAndGlyphs">-</tspan><tspan x="299.05" textLength="12.6" lengthAdjust="spacingAndGlyphs">10</tspan></text><text x="282.30" y="433.2" textLength="28.0" lengthAdjust="spacingAndGlyphs">2017</text>
<text y="420.1"><tspan x="413.25" textLength="12.6" lengthAdjust="spacingAndGlyphs">12</tspan><tspan x="425.95" textLength="8.1" lengthAdjust="spacingAndGlyphs">-</tspan><tspan x="434.15" textLength="12.6" lengthAdjust="spacingAndGlyphs">10</tspan></text><text x="416.00" y="433.2" textLength="28.0" lengthAdjust="spacingAndGlyphs">2019</text>
<text y="420.1"><tspan x="546.35" textLength="12.6" lengthAdjust="spacingAndGlyphs">01</tspan><tspan x="559.05" textLength="8.1" lengthAdjust="spacingAndGlyphs">-</tspan><tspan x="567.25" textLength="15.4" lengthAdjust="spacingAndGlyphs">08</tspan></text><text x="549.10" y="433.2" textLength="30.8" lengthAdjust="spacingAndGlyphs">2022</text>
<text y="420.1"><tspan x="679.85" textLength="15.4" lengthAdjust="spacingAndGlyphs">02</tspan><tspan x="695.35" textLength="8.1" lengthAdjust="spacingAndGlyphs">-</tspan><tspan x="703.55" textLength="15.4" lengthAdjust="spacingAndGlyphs">07</tspan></text><text x="684.00" y="433.2" textLength="30.8" lengthAdjust="spacingAndGlyphs">2024</text>
<text y="420.1"><tspan x="774.55" textLength="15.4" lengthAdjust="spacingAndGlyphs">07</tspan><tspan x="790.05" textLength="8.1" lengthAdjust="spacingAndGlyphs">-</tspan><tspan x="798.25" textLength="12.6" lengthAdjust="spacingAndGlyphs">12</tspan></text><text x="777.30" y="433.2" textLength="30.8" lengthAdjust="spacingAndGlyphs">2025</text>
</g>
<rect x="6" y="448.1" width="788.5" height="42.6" fill="#d9dfea"/>
<path d="M6.00,482.68 L7.25,482.68 L8.51,482.68 L9.76,482.68 L11.01,482.68 L12.27,482.68 L13.52,482.68 L14.77,482.68 L16.02,482.68 L17.28,482.68 L18.53,482.68 L19.78,482.68 L21.04,482.68 L22.29,482.68 L23.54,482.68 L24.80,482.68 L26.05,482.68 L27.30,482.68 L28.55,482.68 L29.81,482.68 L31.06,482.68 L32.31,482.68 L33.57,482.68 L34.82,482.68 L36.07,482.68 L37.33,482.68 L38.58,482.68 L39.83,482.68 L41.09,482.68 L42.34,482.68 L43.59,482.60 L44.84,482.47 L46.10,482.47 L47.35,482.47 L48.60,482.47 L49.86,482.47 L51.11,482.48 L52.36,482.48 L53.62,482.49 L54.87,482.49 L56.12,482.49 L57.37,482.50 L58.63,482.54 L59.88,482.58 L61.13,482.61 L62.39,482.65 L63.64,482.68 L64.89,482.68 L66.15,482.68 L67.40,482.68 L68.65,482.68 L69.91,482.68 L71.16,482.68 L72.41,482.68 L73.66,482.68 L74.92,482.68 L76.17,482.68 L77.42,482.51 L78.68,482.50 L79.93,482.50 L81.18,482.50 L82.44,482.50 L83.69,482.50 L84.94,482.50 L86.19,482.50 L87.45,482.50 L88.70,482.50 L89.95,482.56 L91.21,482.68 L92.46,482.68 L93.71,482.68 L94.97,482.68 L96.22,482.68 L97.47,482.68 L98.73,482.68 L99.98,482.68 L101.23,482.68 L102.48,482.68 L103.74,482.68 L104.99,482.68 L106.24,482.68 L107.50,482.68 L108.75,482.68 L110.00,482.68 L111.26,482.68 L112.51,482.68 L113.76,482.68 L115.01,482.68 L116.27,482.68 L117.52,482.68 L118.77,482.68 L120.03,482.68 L121.28,482.68 L122.53,482.68 L123.79,482.68 L125.04,482.68 L126.29,482.68 L127.55,482.68 L128.80,482.68 L130.05,482.68 L131.30,482.68 L132.56,482.68 L133.81,482.68 L135.06,482.68 L136.32,482.68 L137.57,482.68 L138.82,482.68 L140.08,482.68 L141.33,482.68 L142.58,482.68 L143.83,482.68 L145.09,482.68 L146.34,482.68 L147.59,482.68 L148.85,482.68 L150.10,482.68 L151.35,482.68 L152.61,482.68 L153.86,482.68 L155.11,482.68 L156.37,482.68 L157.62,482.68 L158.87,482.68 L160.12,482.68 L161.38,482.68 L162.63,482.68 L163.88,482.68 L165.14,482.68 L166.39,482.68 L167.64,482.68 L168.90,482.68 L170.15,482.68 L171.40,482.68 L172.65,482.68 L173.91,482.68 L175.16,482.68 L176.41,482.68 L177.67,482.68 L178.92,482.68 L180.17,482.68 L181.43,482.68 L182.68,482.68 L183.93,482.68 L185.19,482.68 L186.44,482.68 L187.69,482.68 L188.94,482.68 L190.20,482.68 L191.45,482.68 L192.70,482.68 L193.96,482.68 L195.21,482.68 L196.46,482.68 L197.72,482.68 L198.97,482.68 L200.22,482.68 L201.47,482.68 L202.73,482.68 L203.98,482.68 L205.23,482.68 L206.49,482.68 L207.74,482.68 L208.99,482.68 L210.25,482.68 L211.50,482.68 L212.75,482.68 L214.01,482.68 L215.26,482.68 L216.51,482.68 L217.76,482.68 L219.02,482.68 L220.27,482.68 L221.52,482.68 L222.78,482.68 L224.03,482.68 L225.28,482.68 L226.54,482.68 L227.79,482.68 L229.04,482.68 L230.29,482.68 L231.55,482.68 L232.80,482.68 L234.05,482.68 L235.31,482.68 L236.56,482.68 L237.81,482.68 L239.07,482.68 L240.32,482.68 L241.57,482.68 L242.83,482.68 L244.08,482.68 L245.33,482.68 L246.58,482.66 L247.84,482.63 L249.09,482.60 L250.34,482.57 L251.60,482.54 L252.85,482.52 L254.10,482.51 L255.36,482.50 L256.61,482.49 L257.86,482.47 L259.12,482.46 L260.37,482.45 L261.62,482.44 L262.87,482.42 L264.13,482.40 L265.38,482.38 L266.63,482.36 L267.89,482.32 L269.14,482.27 L270.39,482.23 L271.65,482.18 L272.90,482.12 L274.15,482.07 L275.40,482.04 L276.66,482.07 L277.91,482.10 L279.16,482.11 L280.42,482.11 L281.67,482.12 L282.92,482.06 L284.18,481.98 L285.43,481.89 L286.68,481.79 L287.94,481.74 L289.19,481.71 L290.44,481.70 L291.69,481.77 L292.95,481.84 L294.20,481.83 L295.45,481.77 L296.71,481.63 L297.96,481.48 L299.21,481.36 L300.47,481.26 L301.72,481.15 L302.97,481.04 L304.22,480.89 L305.48,480.69 L306.73,480.13 L307.98,479.18 L309.24,478.61 L310.49,479.31 L311.74,479.42 L313.00,478.93 L314.25,479.40 L315.50,479.84 L316.76,480.22 L318.01,480.59 L319.26,480.61 L320.51,480.33 L321.77,480.25 L323.02,480.18 L324.27,480.50 L325.53,480.77 L326.78,480.88 L328.03,481.00 L329.29,481.03 L330.54,480.92 L331.79,480.78 L333.04,480.63 L334.30,480.62 L335.55,480.75 L336.80,480.88 L338.06,480.94 L339.31,481.00 L340.56,481.16 L341.82,481.28 L343.07,481.31 L344.32,481.31 L345.58,481.28 L346.83,481.20 L348.08,481.01 L349.33,480.96 L350.59,481.17 L351.84,481.29 L353.09,481.21 L354.35,481.12 L355.60,481.17 L356.85,481.25 L358.11,481.27 L359.36,481.27 L360.61,481.27 L361.86,481.27 L363.12,481.27 L364.37,481.27 L365.62,481.28 L366.88,481.28 L368.13,481.32 L369.38,481.53 L370.64,481.69 L371.89,481.82 L373.14,481.89 L374.40,481.92 L375.65,481.90 L376.90,481.88 L378.15,481.87 L379.41,481.89 L380.66,481.92 L381.91,481.94 L383.17,481.91 L384.42,481.87 L385.67,481.83 L386.93,481.84 L388.18,481.86 L389.43,481.87 L390.68,481.85 L391.94,481.82 L393.19,481.75 L394.44,481.60 L395.70,481.58 L396.95,481.56 L398.20,481.54 L399.46,481.41 L400.71,481.20 L401.96,480.96 L403.22,480.85 L404.47,480.86 L405.72,480.84 L406.97,480.70 L408.23,480.24 L409.48,479.94 L410.73,480.11 L411.99,480.15 L413.24,480.43 L414.49,480.56 L415.75,480.50 L417.00,480.17 L418.25,480.37 L419.50,480.44 L420.76,480.50 L422.01,480.47 L423.26,480.42 L424.52,480.65 L425.77,480.84 L427.02,480.86 L428.28,480.88 L429.53,480.80 L430.78,480.69 L432.04,480.69 L433.29,480.72 L434.54,480.82 L435.79,480.96 L437.05,481.03 L438.30,481.07 L439.55,481.10 L440.81,481.09 L442.06,481.08 L443.31,480.99 L444.57,480.87 L445.82,480.76 L447.07,480.65 L448.32,480.55 L449.58,480.48 L450.83,480.50 L452.08,480.58 L453.34,480.68 L454.59,480.81 L455.84,481.37 L457.10,481.31 L458.35,481.25 L459.60,481.21 L460.86,481.17 L462.11,481.16 L463.36,480.95 L464.61,480.75 L465.87,480.57 L467.12,480.58 L468.37,480.61 L469.63,480.58 L470.88,480.54 L472.13,480.57 L473.39,480.61 L474.64,480.64 L475.89,480.64 L477.14,480.64 L478.40,480.61 L479.65,480.52 L480.90,480.22 L482.16,480.12 L483.41,480.08 L484.66,480.11 L485.92,480.17 L487.17,480.34 L488.42,480.38 L489.68,480.36 L490.93,480.34 L492.18,480.34 L493.43,480.31 L494.69,480.17 L495.94,479.98 L497.19,479.75 L498.45,479.46 L499.70,479.11 L500.95,478.74 L502.21,478.60 L503.46,478.52 L504.71,478.44 L505.96,477.87 L507.22,477.26 L508.47,475.81 L509.72,474.23 L510.98,474.85 L512.23,475.36 L513.48,475.19 L514.74,473.13 L515.99,471.63 L517.24,470.86 L518.50,471.55 L519.75,470.79 L521.00,470.05 L522.25,470.47 L523.51,470.20 L524.76,470.03 L526.01,469.50 L527.27,469.41 L528.52,470.76 L529.77,470.26 L531.03,470.15 L532.28,470.84 L533.53,473.42 L534.78,474.59 L536.04,474.72 L537.29,474.34 L538.54,474.80 L539.80,475.26 L541.05,475.19 L542.30,475.47 L543.56,475.69 L544.81,475.69 L546.06,474.44 L547.32,473.09 L548.57,472.61 L549.82,472.12 L551.07,471.91 L552.33,471.61 L553.58,471.99 L554.83,472.40 L556.09,472.48 L557.34,471.89 L558.59,470.73 L559.85,469.19 L561.10,468.74 L562.35,469.36 L563.60,468.93 L564.86,468.38 L566.11,469.27 L567.36,470.01 L568.62,470.48 L569.87,471.33 L571.12,471.74 L572.38,471.71 L573.63,472.15 L574.88,472.90 L576.14,473.44 L577.39,473.99 L578.64,474.31 L579.89,473.84 L581.15,473.10 L582.40,473.24 L583.65,473.42 L584.91,473.29 L586.16,473.75 L587.41,473.44 L588.67,472.58 L589.92,472.59 L591.17,473.23 L592.42,473.69 L593.68,473.89 L594.93,474.09 L596.18,474.53 L597.44,475.80 L598.69,476.19 L599.94,475.95 L601.20,475.89 L602.45,476.24 L603.70,477.91 L604.96,478.11 L606.21,478.06 L607.46,478.13 L608.71,477.82 L609.97,477.60 L611.22,477.68 L612.47,477.49 L613.73,477.42 L614.98,477.85 L616.23,478.00 L617.49,478.30 L618.74,478.45 L619.99,478.05 L621.24,478.52 L622.50,478.41 L623.75,478.37 L625.00,478.45 L626.26,478.38 L627.51,478.20 L628.76,478.29 L630.02,478.86 L631.27,479.12 L632.52,479.09 L633.78,478.97 L635.03,478.89 L636.28,478.98 L637.53,479.02 L638.79,479.03 L640.04,478.98 L641.29,478.35 L642.55,477.83 L643.80,477.62 L645.05,477.55 L646.31,477.56 L647.56,477.42 L648.81,477.43 L650.06,477.55 L651.32,477.32 L652.57,476.71 L653.82,476.51 L655.08,476.42 L656.33,476.31 L657.58,476.08 L658.84,476.23 L660.09,476.29 L661.34,476.20 L662.60,476.46 L663.85,476.66 L665.10,476.70 L666.35,476.66 L667.61,476.83 L668.86,476.84 L670.11,476.12 L671.37,475.93 L672.62,475.93 L673.87,476.00 L675.13,476.07 L676.38,476.13 L677.63,476.16 L678.88,476.20 L680.14,476.51 L681.39,476.74 L682.64,476.89 L683.90,476.95 L685.15,476.88 L686.40,476.81 L687.66,476.74 L688.91,476.66 L690.16,476.50 L691.42,475.70 L692.67,475.22 L693.92,474.99 L695.17,474.67 L696.43,474.41 L697.68,474.51 L698.93,473.86 L700.19,473.19 L701.44,473.23 L702.69,473.12 L703.95,473.07 L705.20,472.90 L706.45,472.73 L707.71,473.54 L708.96,473.80 L710.21,473.23 L711.46,472.70 L712.72,471.28 L713.97,470.55 L715.22,468.39 L716.48,467.31 L717.63,467.09 L718.60,467.37 L719.57,467.40 L720.53,467.34 L721.50,467.44 L722.47,468.18 L723.44,468.31 L724.41,468.97 L725.37,468.62 L726.34,468.00 L727.31,467.58 L728.28,467.52 L729.24,467.55 L730.21,467.80 L731.18,468.41 L732.15,469.24 L733.11,469.51 L734.08,469.19 L735.05,468.11 L736.02,467.90 L736.99,468.22 L737.95,469.63 L738.92,469.53 L739.89,468.74 L740.86,469.13 L741.82,469.90 L742.79,469.64 L743.76,468.85 L744.73,468.33 L745.69,468.60 L746.66,468.39 L747.63,467.89 L748.60,467.51 L749.57,466.96 L750.54,466.11 L751.78,463.65 L753.03,461.24 L754.27,460.66 L755.51,460.30 L756.75,460.47 L757.99,460.59 L759.23,461.10 L760.48,461.08 L761.72,460.98 L762.96,459.70 L764.20,459.77 L765.44,459.96 L766.68,460.60 L767.93,461.19 L769.17,461.46 L770.41,462.84 L771.65,463.71 L772.89,464.31 L774.13,463.99 L775.38,463.71 L776.62,464.33 L777.86,464.21 L779.10,463.90 L780.34,462.79 L781.58,461.48 L782.83,460.69 L784.07,459.44 L785.31,458.62 L786.55,458.79 L787.79,459.29 L789.03,459.14 L790.28,459.34 L791.52,459.08 L792.76,458.41 L794.00,456.81 L794.00,490.7 L6.00,490.7 Z" fill="#c9d8e9"/><path d="M6.00,482.68 L7.25,482.68 L8.51,482.68 L9.76,482.68 L11.01,482.68 L12.27,482.68 L13.52,482.68 L14.77,482.68 L16.02,482.68 L17.28,482.68 L18.53,482.68 L19.78,482.68 L21.04,482.68 L22.29,482.68 L23.54,482.68 L24.80,482.68 L26.05,482.68 L27.30,482.68 L28.55,482.68 L29.81,482.68 L31.06,482.68 L32.31,482.68 L33.57,482.68 L34.82,482.68 L36.07,482.68 L37.33,482.68 L38.58,482.68 L39.83,482.68 L41.09,482.68 L42.34,482.68 L43.59,482.60 L44.84,482.47 L46.10,482.47 L47.35,482.47 L48.60,482.47 L49.86,482.47 L51.11,482.48 L52.36,482.48 L53.62,482.49 L54.87,482.49 L56.12,482.49 L57.37,482.50 L58.63,482.54 L59.88,482.58 L61.13,482.61 L62.39,482.65 L63.64,482.68 L64.89,482.68 L66.15,482.68 L67.40,482.68 L68.65,482.68 L69.91,482.68 L71.16,482.68 L72.41,482.68 L73.66,482.68 L74.92,482.68 L76.17,482.68 L77.42,482.51 L78.68,482.50 L79.93,482.50 L81.18,482.50 L82.44,482.50 L83.69,482.50 L84.94,482.50 L86.19,482.50 L87.45,482.50 L88.70,482.50 L89.95,482.56 L91.21,482.68 L92.46,482.68 L93.71,482.68 L94.97,482.68 L96.22,482.68 L97.47,482.68 L98.73,482.68 L99.98,482.68 L101.23,482.68 L102.48,482.68 L103.74,482.68 L104.99,482.68 L106.24,482.68 L107.50,482.68 L108.75,482.68 L110.00,482.68 L111.26,482.68 L112.51,482.68 L113.76,482.68 L115.01,482.68 L116.27,482.68 L117.52,482.68 L118.77,482.68 L120.03,482.68 L121.28,482.68 L122.53,482.68 L123.79,482.68 L125.04,482.68 L126.29,482.68 L127.55,482.68 L128.80,482.68 L130.05,482.68 L131.30,482.68 L132.56,482.68 L133.81,482.68 L135.06,482.68 L136.32,482.68 L137.57,482.68 L138.82,482.68 L140.08,482.68 L141.33,482.68 L142.58,482.68 L143.83,482.68 L145.09,482.68 L146.34,482.68 L147.59,482.68 L148.85,482.68 L150.10,482.68 L151.35,482.68 L152.61,482.68 L153.86,482.68 L155.11,482.68 L156.37,482.68 L157.62,482.68 L158.87,482.68 L160.12,482.68 L161.38,482.68 L162.63,482.68 L163.88,482.68 L165.14,482.68 L166.39,482.68 L167.64,482.68 L168.90,482.68 L170.15,482.68 L171.40,482.68 L172.65,482.68 L173.91,482.68 L175.16,482.68 L176.41,482.68 L177.67,482.68 L178.92,482.68 L180.17,482.68 L181.43,482.68 L182.68,482.68 L183.93,482.68 L185.19,482.68 L186.44,482.68 L187.69,482.68 L188.94,482.68 L190.20,482.68 L191.45,482.68 L192.70,482.68 L193.96,482.68 L195.21,482.68 L196.46,482.68 L197.72,482.68 L198.97,482.68 L200.22,482.68 L201.47,482.68 L202.73,482.68 L203.98,482.68 L205.23,482.68 L206.49,482.68 L207.74,482.68 L208.99,482.68 L210.25,482.68 L211.50,482.68 L212.75,482.68 L214.01,482.68 L215.26,482.68 L216.51,482.68 L217.76,482.68 L219.02,482.68 L220.27,482.68 L221.52,482.68 L222.78,482.68 L224.03,482.68 L225.28,482.68 L226.54,482.68 L227.79,482.68 L229.04,482.68 L230.29,482.68 L231.55,482.68 L232.80,482.68 L234.05,482.68 L235.31,482.68 L236.56,482.68 L237.81,482.68 L239.07,482.68 L240.32,482.68 L241.57,482.68 L242.83,482.68 L244.08,482.68 L245.33,482.68 L246.58,482.66 L247.84,482.63 L249.09,482.60 L250.34,482.57 L251.60,482.54 L252.85,482.52 L254.10,482.51 L255.36,482.50 L256.61,482.49 L257.86,482.47 L259.12,482.46 L260.37,482.45 L261.62,482.44 L262.87,482.42 L264.13,482.40 L265.38,482.38 L266.63,482.36 L267.89,482.32 L269.14,482.27 L270.39,482.23 L271.65,482.18 L272.90,482.12 L274.15,482.07 L275.40,482.04 L276.66,482.07 L277.91,482.10 L279.16,482.11 L280.42,482.11 L281.67,482.12 L282.92,482.06 L284.18,481.98 L285.43,481.89 L286.68,481.79 L287.94,481.74 L289.19,481.71 L290.44,481.70 L291.69,481.77 L292.95,481.84 L294.20,481.83 L295.45,481.77 L296.71,481.63 L297.96,481.48 L299.21,481.36 L300.47,481.26 L301.72,481.15 L302.97,481.04 L304.22,480.89 L305.48,480.69 L306.73,480.13 L307.98,479.18 L309.24,478.61 L310.49,479.31 L311.74,479.42 L313.00,478.93 L314.25,479.40 L315.50,479.84 L316.76,480.22 L318.01,480.59 L319.26,480.61 L320.51,480.33 L321.77,480.25 L323.02,480.18 L324.27,480.50 L325.53,480.77 L326.78,480.88 L328.03,481.00 L329.29,481.03 L330.54,480.92 L331.79,480.78 L333.04,480.63 L334.30,480.62 L335.55,480.75 L336.80,480.88 L338.06,480.94 L339.31,481.00 L340.56,481.16 L341.82,481.28 L343.07,481.31 L344.32,481.31 L345.58,481.28 L346.83,481.20 L348.08,481.01 L349.33,480.96 L350.59,481.17 L351.84,481.29 L353.09,481.21 L354.35,481.12 L355.60,481.17 L356.85,481.25 L358.11,481.27 L359.36,481.27 L360.61,481.27 L361.86,481.27 L363.12,481.27 L364.37,481.27 L365.62,481.28 L366.88,481.28 L368.13,481.32 L369.38,481.53 L370.64,481.69 L371.89,481.82 L373.14,481.89 L374.40,481.92 L375.65,481.90 L376.90,481.88 L378.15,481.87 L379.41,481.89 L380.66,481.92 L381.91,481.94 L383.17,481.91 L384.42,481.87 L385.67,481.83 L386.93,481.84 L388.18,481.86 L389.43,481.87 L390.68,481.85 L391.94,481.82 L393.19,481.75 L394.44,481.60 L395.70,481.58 L396.95,481.56 L398.20,481.54 L399.46,481.41 L400.71,481.20 L401.96,480.96 L403.22,480.85 L404.47,480.86 L405.72,480.84 L406.97,480.70 L408.23,480.24 L409.48,479.94 L410.73,480.11 L411.99,480.15 L413.24,480.43 L414.49,480.56 L415.75,480.50 L417.00,480.17 L418.25,480.37 L419.50,480.44 L420.76,480.50 L422.01,480.47 L423.26,480.42 L424.52,480.65 L425.77,480.84 L427.02,480.86 L428.28,480.88 L429.53,480.80 L430.78,480.69 L432.04,480.69 L433.29,480.72 L434.54,480.82 L435.79,480.96 L437.05,481.03 L438.30,481.07 L439.55,481.10 L440.81,481.09 L442.06,481.08 L443.31,480.99 L444.57,480.87 L445.82,480.76 L447.07,480.65 L448.32,480.55 L449.58,480.48 L450.83,480.50 L452.08,480.58 L453.34,480.68 L454.59,480.81 L455.84,481.37 L457.10,481.31 L458.35,481.25 L459.60,481.21 L460.86,481.17 L462.11,481.16 L463.36,480.95 L464.61,480.75 L465.87,480.57 L467.12,480.58 L468.37,480.61 L469.63,480.58 L470.88,480.54 L472.13,480.57 L473.39,480.61 L474.64,480.64 L475.89,480.64 L477.14,480.64 L478.40,480.61 L479.65,480.52 L480.90,480.22 L482.16,480.12 L483.41,480.08 L484.66,480.11 L485.92,480.17 L487.17,480.34 L488.42,480.38 L489.68,480.36 L490.93,480.34 L492.18,480.34 L493.43,480.31 L494.69,480.17 L495.94,479.98 L497.19,479.75 L498.45,479.46 L499.70,479.11 L500.95,478.74 L502.21,478.60 L503.46,478.52 L504.71,478.44 L505.96,477.87 L507.22,477.26 L508.47,475.81 L509.72,474.23 L510.98,474.85 L512.23,475.36 L513.48,475.19 L514.74,473.13 L515.99,471.63 L517.24,470.86 L518.50,471.55 L519.75,470.79 L521.00,470.05 L522.25,470.47 L523.51,470.20 L524.76,470.03 L526.01,469.50 L527.27,469.41 L528.52,470.76 L529.77,470.26 L531.03,470.15 L532.28,470.84 L533.53,473.42 L534.78,474.59 L536.04,474.72 L537.29,474.34 L538.54,474.80 L539.80,475.26 L541.05,475.19 L542.30,475.47 L543.56,475.69 L544.81,475.69 L546.06,474.44 L547.32,473.09 L548.57,472.61 L549.82,472.12 L551.07,471.91 L552.33,471.61 L553.58,471.99 L554.83,472.40 L556.09,472.48 L557.34,471.89 L558.59,470.73 L559.85,469.19 L561.10,468.74 L562.35,469.36 L563.60,468.93 L564.86,468.38 L566.11,469.27 L567.36,470.01 L568.62,470.48 L569.87,471.33 L571.12,471.74 L572.38,471.71 L573.63,472.15 L574.88,472.90 L576.14,473.44 L577.39,473.99 L578.64,474.31 L579.89,473.84 L581.15,473.10 L582.40,473.24 L583.65,473.42 L584.91,473.29 L586.16,473.75 L587.41,473.44 L588.67,472.58 L589.92,472.59 L591.17,473.23 L592.42,473.69 L593.68,473.89 L594.93,474.09 L596.18,474.53 L597.44,475.80 L598.69,476.19 L599.94,475.95 L601.20,475.89 L602.45,476.24 L603.70,477.91 L604.96,478.11 L606.21,478.06 L607.46,478.13 L608.71,477.82 L609.97,477.60 L611.22,477.68 L612.47,477.49 L613.73,477.42 L614.98,477.85 L616.23,478.00 L617.49,478.30 L618.74,478.45 L619.99,478.05 L621.24,478.52 L622.50,478.41 L623.75,478.37 L625.00,478.45 L626.26,478.38 L627.51,478.20 L628.76,478.29 L630.02,478.86 L631.27,479.12 L632.52,479.09 L633.78,478.97 L635.03,478.89 L636.28,478.98 L637.53,479.02 L638.79,479.03 L640.04,478.98 L641.29,478.35 L642.55,477.83 L643.80,477.62 L645.05,477.55 L646.31,477.56 L647.56,477.42 L648.81,477.43 L650.06,477.55 L651.32,477.32 L652.57,476.71 L653.82,476.51 L655.08,476.42 L656.33,476.31 L657.58,476.08 L658.84,476.23 L660.09,476.29 L661.34,476.20 L662.60,476.46 L663.85,476.66 L665.10,476.70 L666.35,476.66 L667.61,476.83 L668.86,476.84 L670.11,476.12 L671.37,475.93 L672.62,475.93 L673.87,476.00 L675.13,476.07 L676.38,476.13 L677.63,476.16 L678.88,476.20 L680.14,476.51 L681.39,476.74 L682.64,476.89 L683.90,476.95 L685.15,476.88 L686.40,476.81 L687.66,476.74 L688.91,476.66 L690.16,476.50 L691.42,475.70 L692.67,475.22 L693.92,474.99 L695.17,474.67 L696.43,474.41 L697.68,474.51 L698.93,473.86 L700.19,473.19 L701.44,473.23 L702.69,473.12 L703.95,473.07 L705.20,472.90 L706.45,472.73 L707.71,473.54 L708.96,473.80 L710.21,473.23 L711.46,472.70 L712.72,471.28 L713.97,470.55 L715.22,468.39 L716.48,467.31 L717.63,467.09 L718.60,467.37 L719.57,467.40 L720.53,467.34 L721.50,467.44 L722.47,468.18 L723.44,468.31 L724.41,468.97 L725.37,468.62 L726.34,468.00 L727.31,467.58 L728.28,467.52 L729.24,467.55 L730.21,467.80 L731.18,468.41 L732.15,469.24 L733.11,469.51 L734.08,469.19 L735.05,468.11 L736.02,467.90 L736.99,468.22 L737.95,469.63 L738.92,469.53 L739.89,468.74 L740.86,469.13 L741.82,469.90 L742.79,469.64 L743.76,468.85 L744.73,468.33 L745.69,468.60 L746.66,468.39 L747.63,467.89 L748.60,467.51 L749.57,466.96 L750.54,466.11 L751.78,463.65 L753.03,461.24 L754.27,460.66 L755.51,460.30 L756.75,460.47 L757.99,460.59 L759.23,461.10 L760.48,461.08 L761.72,460.98 L762.96,459.70 L764.20,459.77 L765.44,459.96 L766.68,460.60 L767.93,461.19 L769.17,461.46 L770.41,462.84 L771.65,463.71 L772.89,464.31 L774.13,463.99 L775.38,463.71 L776.62,464.33 L777.86,464.21 L779.10,463.90 L780.34,462.79 L781.58,461.48 L782.83,460.69 L784.07,459.44 L785.31,458.62 L786.55,458.79 L787.79,459.29 L789.03,459.14 L790.28,459.34 L791.52,459.08 L792.76,458.41 L794.00,456.81" fill="none" stroke="#9bc1e7" stroke-width="1.4" stroke-linejoin="round"/>
<g fill="#a5b3cd"><rect x="3.9" y="448.1" width="2.1" height="42.6"/><rect x="0" y="459.7" width="10.1" height="19.1"/>
<rect x="793.4" y="448.1" width="2.1" height="42.6"/><rect x="789.6" y="459.7" width="10.4" height="19.1"/></g>
<g fill="#fff"><rect x="1.2" y="464.9" width="6.6" height="1.7"/><rect x="1.2" y="471.7" width="6.6" height="1.7"/>
<rect x="792" y="464.9" width="6.6" height="1.7"/><rect x="792" y="471.7" width="6.6" height="1.7"/></g>
</svg></body></html>
